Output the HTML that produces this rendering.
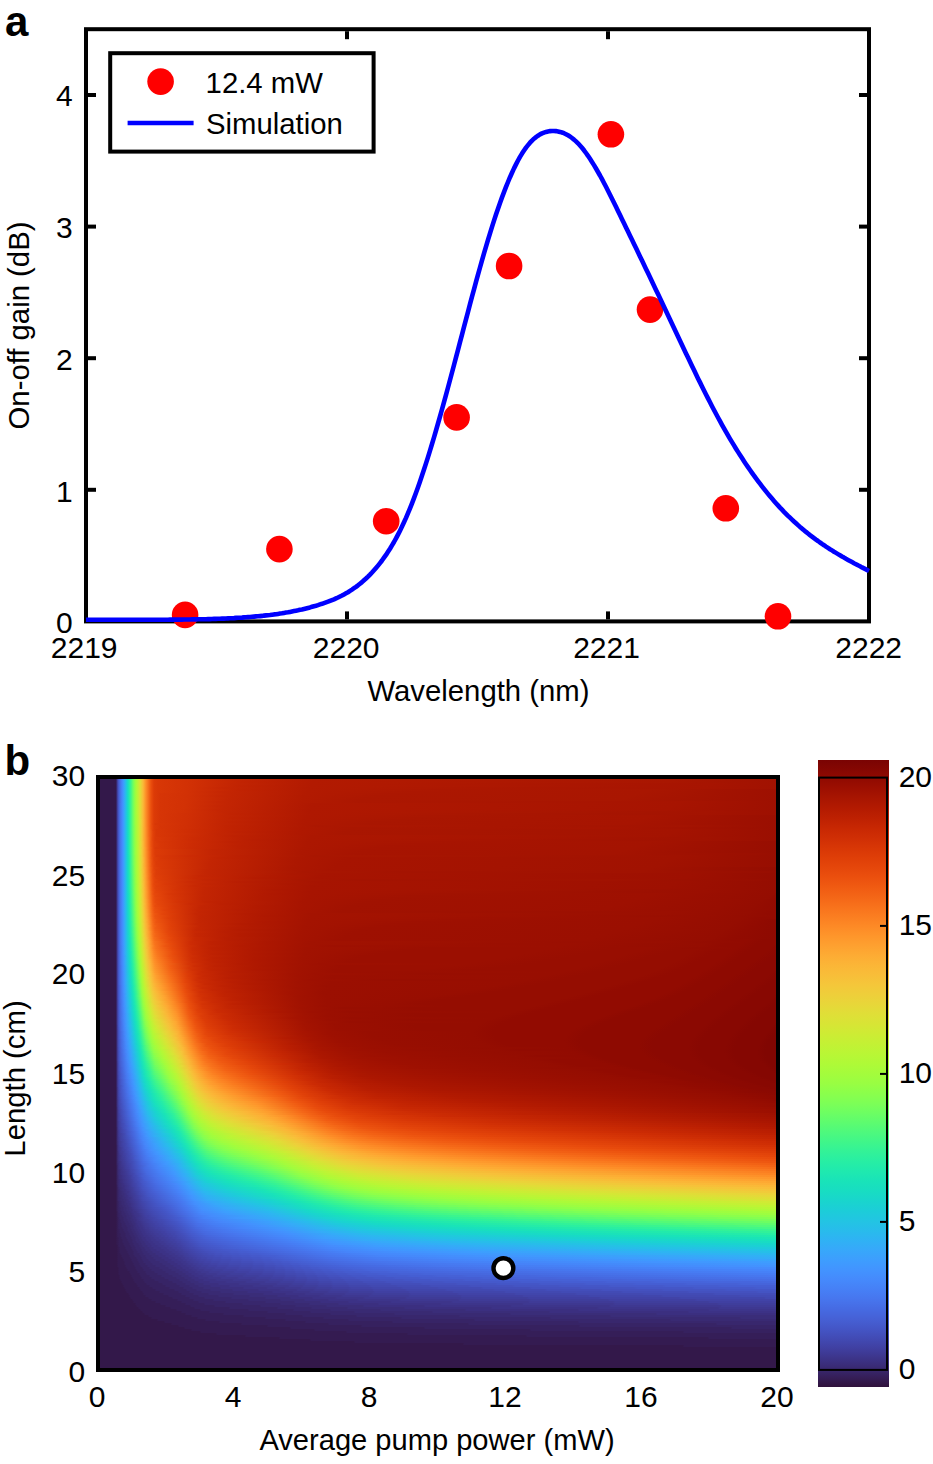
<!DOCTYPE html>
<html><head><meta charset="utf-8"><style>
html,body{margin:0;padding:0;background:#fff;}
body{width:933px;height:1464px;position:relative;overflow:hidden;}
#hm{position:absolute;left:100px;top:779px;width:676px;height:589px;}
#hm i{display:block;width:676px;}
#cb{position:absolute;left:818px;top:760px;width:71px;height:627px;background:linear-gradient(to top,#30123b 0.00%,#351e58 1.56%,#392a73 3.12%,#3d358b 4.69%,#4040a2 6.25%,#424bb5 7.81%,#4456c7 9.38%,#4661d6 10.94%,#466be3 12.50%,#4776ee 14.06%,#4680f6 15.62%,#458afc 17.19%,#4294ff 18.75%,#3d9efe 20.31%,#37a8fa 21.88%,#2fb2f4 23.44%,#28bceb 25.00%,#22c5e2 26.56%,#1ccdd8 28.12%,#19d5cd 29.69%,#18ddc2 31.25%,#19e3b9 32.81%,#1fe9af 34.38%,#27eea4 35.94%,#32f298 37.50%,#3ff68a 39.06%,#4ef97d 40.62%,#5dfc6f 42.19%,#6dfe62 43.75%,#7dff56 45.31%,#8bff4b 46.88%,#99fe42 48.44%,#a4fc3c 50.00%,#affa37 51.56%,#b9f635 53.12%,#c3f134 54.69%,#cdec34 56.25%,#d7e535 57.81%,#dfdf37 59.38%,#e7d739 60.94%,#eecf3a 62.50%,#f4c73a 64.06%,#f8be39 65.62%,#fbb637 67.19%,#fdac34 68.75%,#fea130 70.31%,#fe962b 71.88%,#fd8a26 73.44%,#fb7e21 75.00%,#f8721c 76.56%,#f46617 78.12%,#f05b12 79.69%,#eb500e 81.25%,#e5470b 82.81%,#df3f08 84.38%,#d83706 85.94%,#d02f05 87.50%,#c82803 89.06%,#be2102 90.62%,#b41b01 92.19%,#a91601 93.75%,#9e1001 95.31%,#920b01 96.88%,#850702 98.44%,#7a0403 100.00%);}
svg{position:absolute;left:0;top:0;}
svg text{font-family:'Liberation Sans',sans-serif;font-size:29.3px;fill:#000;}
svg text.d{font-size:30px;}
</style></head><body>
<div id="hm">
<i style="height:2px;background:linear-gradient(90deg,#33184a 0px,#33184a 16px,#3d358b 17px,#434eba 18px,#4661d6 19px,#477bf2 21px,#4294ff 23px,#2fb2f4 25px,#1ad2d2 27px,#18dec0 28px,#1fe9af 29px,#3ff68a 31px,#6dfe62 33px,#96fe44 35px,#b1f936 37px,#dde037 40px,#faba39 43px,#fd8d27 46px,#ea4e0d 51px,#dc3b07 54px,#d83706 58px,#d23105 89px,#c32503 134px,#b21a01 213px,#a91601 573px,#a11201 676px)"></i>
<i style="height:2px;background:linear-gradient(90deg,#33184a 0px,#33184a 16px,#3d358b 17px,#434eba 18px,#4661d6 19px,#477bf2 21px,#4294ff 23px,#2fb2f4 25px,#1ad2d2 27px,#18dec0 28px,#1fe9af 29px,#3ff68a 31px,#6dfe62 33px,#96fe44 35px,#b1f936 37px,#dde037 40px,#faba39 43px,#fd8d27 46px,#ea4e0d 51px,#dc3b07 54px,#d83706 58px,#d23105 88px,#c12302 142px,#b21a01 213px,#a91601 569px,#a11201 676px)"></i>
<i style="height:2px;background:linear-gradient(90deg,#33184a 0px,#33184a 16px,#3d358b 17px,#434eba 18px,#4661d6 19px,#477bf2 21px,#4294ff 23px,#2fb2f4 25px,#1ad2d2 27px,#18dec0 28px,#1fe9af 29px,#3ff68a 31px,#6dfe62 33px,#96fe44 35px,#b4f836 37px,#dde037 40px,#faba39 43px,#fd8d27 46px,#ea4e0d 51px,#dc3b07 54px,#d83706 58px,#d23105 88px,#c32503 133px,#b21a01 211px,#a71401 611px,#a11201 676px)"></i>
<i style="height:2px;background:linear-gradient(90deg,#33184a 0px,#33184a 16px,#3d358b 17px,#434eba 18px,#4661d6 19px,#477bf2 21px,#4294ff 23px,#2fb2f4 25px,#1ad2d2 27px,#18dec0 28px,#1fe9af 29px,#3ff68a 31px,#6dfe62 33px,#96fe44 35px,#b4f836 37px,#dde037 40px,#faba39 43px,#fd8d27 46px,#ea4e0d 51px,#dc3b07 54px,#d83706 58px,#d23105 88px,#c12302 140px,#b21a01 211px,#ac1701 431px,#a71401 608px,#a11201 676px)"></i>
<i style="height:2px;background:linear-gradient(90deg,#33184a 0px,#33184a 16px,#3d358b 17px,#434eba 18px,#4661d6 19px,#477bf2 21px,#4294ff 23px,#2fb2f4 25px,#1ad2d2 27px,#18dec0 28px,#1fe9af 29px,#3ff68a 31px,#6dfe62 33px,#96fe44 35px,#b4f836 37px,#dde037 40px,#faba39 43px,#fd8d27 46px,#ea4e0d 51px,#dc3b07 54px,#d83706 58px,#d23105 88px,#c52603 123px,#b21a01 208px,#ac1701 383px,#a71401 605px,#a11201 676px)"></i>
<i style="height:2px;background:linear-gradient(90deg,#33184a 0px,#33184a 16px,#3d358b 17px,#434eba 18px,#4661d6 19px,#477bf2 21px,#4294ff 23px,#2fb2f4 25px,#1ad2d2 27px,#18dec0 28px,#1fe9af 29px,#3ff68a 31px,#6dfe62 33px,#96fe44 35px,#b4f836 37px,#dde037 40px,#faba39 43px,#fd8d27 46px,#ea4e0d 51px,#dc3b07 54px,#d83706 58px,#d23105 87px,#c12302 139px,#b21a01 209px,#ac1701 341px,#a91601 551px,#9e1001 676px)"></i>
<i style="height:2px;background:linear-gradient(90deg,#33184a 0px,#33184a 16px,#3d358b 17px,#434eba 18px,#4661d6 19px,#477bf2 21px,#4294ff 23px,#2fb2f4 25px,#1ad2d2 27px,#18dec0 28px,#1fe9af 29px,#3ff68a 31px,#6dfe62 33px,#96fe44 35px,#b4f836 37px,#dde037 40px,#faba39 43px,#fd8d27 46px,#ea4e0d 51px,#dc3b07 54px,#d83706 58px,#d23105 87px,#c52603 122px,#b21a01 207px,#ac1701 315px,#a91601 546px,#9e1001 676px)"></i>
<i style="height:2px;background:linear-gradient(90deg,#33184a 0px,#33184a 16px,#3d358b 17px,#434eba 18px,#4661d6 19px,#477bf2 21px,#4294ff 23px,#2fb2f4 25px,#1ad2d2 27px,#18dec0 28px,#1fe9af 29px,#3ff68a 31px,#6dfe62 33px,#96fe44 35px,#b4f836 37px,#dde037 40px,#faba39 43px,#fd8d27 46px,#ea4e0d 51px,#dc3b07 54px,#d63506 60px,#d23105 87px,#c32503 129px,#b21a01 207px,#ac1701 292px,#a91601 539px,#9e1001 676px)"></i>
<i style="height:2px;background:linear-gradient(90deg,#33184a 0px,#33184a 16px,#3d358b 17px,#434eba 18px,#4661d6 19px,#477bf2 21px,#4294ff 23px,#2fb2f4 25px,#1ad2d2 27px,#18dec0 28px,#1fe9af 29px,#3ff68a 31px,#6dfe62 33px,#96fe44 35px,#b4f836 37px,#dde037 40px,#faba39 43px,#fd8d27 46px,#ea4e0d 51px,#dc3b07 54px,#d63506 60px,#d23105 86px,#c52603 121px,#b21a01 204px,#ac1701 278px,#a91601 533px,#9e1001 676px)"></i>
<i style="height:2px;background:linear-gradient(90deg,#33184a 0px,#33184a 16px,#3d358b 17px,#434eba 18px,#4661d6 19px,#477bf2 21px,#4294ff 23px,#2fb2f4 25px,#1ad2d2 27px,#18dec0 28px,#1fe9af 29px,#3ff68a 31px,#6dfe62 33px,#96fe44 35px,#b4f836 37px,#dde037 40px,#faba39 43px,#fd8d27 46px,#ea4e0d 51px,#dc3b07 54px,#d63506 60px,#d23105 86px,#c32503 128px,#b21a01 204px,#ac1701 267px,#a91601 526px,#9e1001 676px)"></i>
<i style="height:2px;background:linear-gradient(90deg,#33184a 0px,#33184a 16px,#3d358b 17px,#434eba 18px,#4661d6 19px,#477bf2 21px,#4294ff 23px,#2fb2f4 25px,#1ad2d2 27px,#18dec0 28px,#1fe9af 29px,#3ff68a 31px,#6dfe62 33px,#96fe44 35px,#b4f836 37px,#dde037 40px,#faba39 43px,#fd8d27 46px,#ea4e0d 51px,#dc3b07 54px,#d63506 60px,#d23105 86px,#c32503 127px,#b21a01 203px,#ac1701 259px,#a91601 519px,#9e1001 676px)"></i>
<i style="height:2px;background:linear-gradient(90deg,#33184a 0px,#33184a 16px,#3d358b 17px,#434eba 18px,#4661d6 19px,#477bf2 21px,#4294ff 23px,#2fb2f4 25px,#1ad2d2 27px,#18dec0 28px,#1fe9af 29px,#3ff68a 31px,#6dfe62 33px,#96fe44 35px,#b4f836 37px,#dde037 40px,#faba39 43px,#fd8d27 46px,#ea4e0d 51px,#dc3b07 54px,#d63506 60px,#d23105 86px,#c52603 119px,#b21a01 201px,#ac1701 257px,#a71401 581px,#9e1001 676px)"></i>
<i style="height:2px;background:linear-gradient(90deg,#33184a 0px,#33184a 16px,#3d358b 17px,#434eba 18px,#4661d6 19px,#4771e9 20px,#4687fb 22px,#4294ff 23px,#2fb2f4 25px,#1ad2d2 27px,#18dec0 28px,#1fe9af 29px,#3ff68a 31px,#6dfe62 33px,#96fe44 35px,#b4f836 37px,#dde037 40px,#faba39 43px,#fd8d27 46px,#ea4e0d 51px,#dc3b07 54px,#d63506 60px,#d23105 85px,#c32503 126px,#af1801 213px,#a71401 577px,#9e1001 676px)"></i>
<i style="height:2px;background:linear-gradient(90deg,#33184a 0px,#33184a 16px,#3d358b 17px,#434eba 18px,#4661d6 19px,#4771e9 20px,#4687fb 22px,#4294ff 23px,#2fb2f4 25px,#1ad2d2 27px,#18dec0 28px,#1fe9af 29px,#3ff68a 31px,#6dfe62 33px,#96fe44 35px,#b4f836 37px,#dde037 40px,#faba39 43px,#fd8d27 46px,#ea4e0d 51px,#dc3b07 54px,#d63506 60px,#d23105 85px,#c52603 118px,#af1801 211px,#a71401 574px,#9e1001 676px)"></i>
<i style="height:2px;background:linear-gradient(90deg,#33184a 0px,#33184a 16px,#3d358b 17px,#434eba 18px,#4661d6 19px,#4771e9 20px,#4687fb 22px,#4294ff 23px,#2fb2f4 25px,#1ad2d2 27px,#18dec0 28px,#1fe9af 29px,#3ff68a 31px,#6dfe62 33px,#96fe44 35px,#b4f836 37px,#dde037 40px,#faba39 43px,#fd8d27 46px,#ea4e0d 51px,#dc3b07 54px,#d63506 60px,#d23105 85px,#c32503 124px,#af1801 211px,#a71401 570px,#9e1001 676px)"></i>
<i style="height:2px;background:linear-gradient(90deg,#33184a 0px,#33184a 16px,#3d358b 17px,#434eba 18px,#4661d6 19px,#4771e9 20px,#4687fb 22px,#4294ff 23px,#2fb2f4 25px,#1ad2d2 27px,#18dec0 28px,#1fe9af 29px,#3ff68a 31px,#6dfe62 33px,#96fe44 35px,#b4f836 37px,#dde037 40px,#faba39 43px,#fd8d27 46px,#ea4e0d 51px,#dc3b07 54px,#d63506 60px,#d23105 84px,#c52603 117px,#af1801 209px,#a71401 565px,#9e1001 676px)"></i>
<i style="height:2px;background:linear-gradient(90deg,#33184a 0px,#33184a 16px,#3d358b 17px,#434eba 18px,#4661d6 19px,#4771e9 20px,#4687fb 22px,#4294ff 23px,#3aa3fc 24px,#23c3e4 26px,#1ad2d2 27px,#18dec0 28px,#1fe9af 29px,#3ff68a 31px,#6dfe62 33px,#96fe44 35px,#b4f836 37px,#dde037 40px,#faba39 43px,#fd8d27 46px,#ea4e0d 51px,#dc3b07 54px,#d63506 60px,#d23105 84px,#c32503 123px,#af1801 209px,#a91601 438px,#a41301 608px,#9e1001 676px)"></i>
<i style="height:2px;background:linear-gradient(90deg,#33184a 0px,#33184a 16px,#3d358b 17px,#434eba 18px,#4661d6 19px,#4771e9 20px,#4687fb 22px,#4294ff 23px,#3aa3fc 24px,#23c3e4 26px,#1ad2d2 27px,#18dec0 28px,#1fe9af 29px,#3ff68a 31px,#6dfe62 33px,#96fe44 35px,#b4f836 37px,#dde037 40px,#faba39 43px,#fd8d27 46px,#ea4e0d 51px,#dc3b07 54px,#d63506 60px,#d02f05 88px,#c12302 131px,#af1801 210px,#a91601 384px,#a41301 604px,#9e1001 676px)"></i>
<i style="height:2px;background:linear-gradient(90deg,#33184a 0px,#33184a 16px,#3d358b 17px,#434eba 18px,#4661d6 19px,#4771e9 20px,#4687fb 22px,#4294ff 23px,#3aa3fc 24px,#23c3e4 26px,#1ad2d2 27px,#18dec0 28px,#1fe9af 29px,#3ff68a 31px,#6dfe62 33px,#96fe44 35px,#b1f936 37px,#dde037 40px,#faba39 43px,#fd8d27 46px,#ea4e0d 51px,#dc3b07 54px,#d63506 60px,#d02f05 88px,#c32503 123px,#af1801 208px,#a91601 346px,#a71401 551px,#9b0f01 676px)"></i>
<i style="height:2px;background:linear-gradient(90deg,#33184a 0px,#33184a 16px,#3d358b 17px,#434eba 18px,#4661d6 19px,#4771e9 20px,#4687fb 22px,#4294ff 23px,#3aa3fc 24px,#23c3e4 26px,#1ad2d2 27px,#18dec0 28px,#1fe9af 29px,#3ff68a 31px,#6dfe62 33px,#96fe44 35px,#b1f936 37px,#dde037 40px,#faba39 43px,#fd8d27 46px,#ea4e0d 51px,#dc3b07 54px,#d63506 60px,#d02f05 87px,#c12302 130px,#af1801 207px,#a91601 317px,#a71401 546px,#9b0f01 676px)"></i>
<i style="height:2px;background:linear-gradient(90deg,#33184a 0px,#33184a 16px,#3d358b 17px,#434eba 18px,#4661d6 19px,#4771e9 20px,#4687fb 22px,#4294ff 23px,#3aa3fc 24px,#23c3e4 26px,#1ad2d2 27px,#18dec0 28px,#1fe9af 29px,#3ff68a 31px,#6dfe62 33px,#96fe44 35px,#b1f936 37px,#dbe236 40px,#f2c93a 42px,#fdac34 44px,#f8721c 48px,#ea4e0d 51px,#dc3b07 54px,#d63506 60px,#d02f05 87px,#c32503 122px,#af1801 205px,#a91601 297px,#a71401 540px,#9b0f01 676px)"></i>
<i style="height:2px;background:linear-gradient(90deg,#33184a 0px,#33184a 16px,#3d358b 17px,#434eba 18px,#4661d6 19px,#4771e9 20px,#4687fb 22px,#4294ff 23px,#3aa3fc 24px,#23c3e4 26px,#1ad2d2 27px,#18dec0 28px,#1fe9af 29px,#3ff68a 31px,#6dfe62 33px,#96fe44 35px,#b1f936 37px,#dbe236 40px,#f2c93a 42px,#fdac34 44px,#f8721c 48px,#ea4e0d 51px,#dc3b07 54px,#d63506 60px,#d02f05 87px,#c12302 128px,#af1801 205px,#a91601 279px,#a71401 533px,#9b0f01 676px)"></i>
<i style="height:2px;background:linear-gradient(90deg,#33184a 0px,#33184a 16px,#3d358b 17px,#434eba 18px,#4661d6 19px,#4771e9 20px,#4687fb 22px,#4294ff 23px,#3aa3fc 24px,#23c3e4 26px,#1ad2d2 27px,#18dec0 28px,#1fe9af 29px,#3ff68a 31px,#6dfe62 33px,#96fe44 35px,#b1f936 37px,#dbe236 40px,#f2c93a 42px,#fdac34 44px,#f8721c 48px,#e4450a 52px,#d83706 55px,#d02f05 87px,#c32503 120px,#af1801 203px,#a91601 269px,#a71401 526px,#9b0f01 676px)"></i>
<i style="height:2px;background:linear-gradient(90deg,#33184a 0px,#33184a 16px,#3d358b 17px,#434eba 18px,#4661d6 19px,#4771e9 20px,#4687fb 22px,#4294ff 23px,#3aa3fc 24px,#23c3e4 26px,#1ad2d2 27px,#18dec0 28px,#1fe9af 29px,#3ff68a 31px,#6dfe62 33px,#a4fc3c 36px,#cdec34 39px,#f2c93a 42px,#fdac34 44px,#f8721c 48px,#ea4e0d 51px,#dc3b07 54px,#d63506 60px,#d02f05 86px,#c12302 127px,#ac1701 215px,#a41301 585px,#9b0f01 676px)"></i>
<i style="height:2px;background:linear-gradient(90deg,#33184a 0px,#33184a 16px,#3d358b 17px,#434eba 18px,#4661d6 19px,#4771e9 20px,#4687fb 22px,#4294ff 23px,#3aa3fc 24px,#23c3e4 26px,#1ad2d2 27px,#18dec0 28px,#1fe9af 29px,#3ff68a 31px,#6dfe62 33px,#a4fc3c 36px,#cdec34 39px,#f2c93a 42px,#fe9e2f 45px,#fb8122 47px,#ea4e0d 51px,#dc3b07 54px,#d63506 60px,#d02f05 86px,#c12302 127px,#af1801 202px,#a91601 254px,#a71401 512px,#9b0f01 676px)"></i>
<i style="height:2px;background:linear-gradient(90deg,#33184a 0px,#33184a 16px,#3d358b 17px,#434eba 18px,#4661d6 19px,#4771e9 20px,#4687fb 22px,#4294ff 23px,#3aa3fc 24px,#23c3e4 26px,#1ad2d2 27px,#18dec0 28px,#1fe9af 29px,#3ff68a 31px,#6dfe62 33px,#a4fc3c 36px,#cdec34 39px,#f2c93a 42px,#fe9e2f 45px,#f46617 49px,#df3f08 53px,#d83706 56px,#ce2d04 90px,#c12302 127px,#af1801 201px,#a91601 251px,#a41301 577px,#9b0f01 676px)"></i>
<i style="height:2px;background:linear-gradient(90deg,#33184a 0px,#33184a 16px,#3d358b 17px,#434eba 18px,#4661d6 19px,#4771e9 20px,#4687fb 22px,#4294ff 23px,#3aa3fc 24px,#23c3e4 26px,#1ad2d2 27px,#18dec0 28px,#1fe9af 29px,#3ff68a 31px,#80ff53 34px,#a4fc3c 36px,#cdec34 39px,#f2c93a 42px,#fe9e2f 45px,#f46617 49px,#e14109 53px,#d83706 56px,#ce2d04 89px,#be2102 135px,#af1801 200px,#a91601 246px,#a41301 574px,#9b0f01 676px)"></i>
<i style="height:2px;background:linear-gradient(90deg,#33184a 0px,#33184a 16px,#3d358b 17px,#434eba 18px,#4661d6 19px,#4771e9 20px,#4687fb 22px,#4294ff 23px,#3aa3fc 24px,#23c3e4 26px,#1ad2d2 27px,#18dec0 28px,#1fe9af 29px,#3ff68a 31px,#80ff53 34px,#a4fc3c 36px,#cdec34 39px,#f2c93a 42px,#fe9e2f 45px,#f46617 49px,#e14109 53px,#d83706 56px,#d02f05 85px,#c32503 118px,#af1801 198px,#a91601 244px,#a41301 570px,#9b0f01 676px)"></i>
<i style="height:2px;background:linear-gradient(90deg,#33184a 0px,#33184a 16px,#3d358b 17px,#434eba 18px,#4661d6 19px,#4771e9 20px,#4687fb 22px,#4294ff 23px,#3aa3fc 24px,#23c3e4 26px,#1ad2d2 27px,#18dec0 28px,#1fe9af 29px,#3ff68a 31px,#80ff53 34px,#a4fc3c 36px,#cdec34 39px,#f2c93a 42px,#fe9e2f 45px,#f46617 49px,#e14109 53px,#d83706 56px,#ce2d04 89px,#be2102 133px,#ac1701 212px,#a41301 565px,#9b0f01 676px)"></i>
<i style="height:2px;background:linear-gradient(90deg,#33184a 0px,#33184a 16px,#3d358b 17px,#434eba 18px,#4661d6 19px,#4771e9 20px,#4687fb 22px,#4294ff 23px,#3aa3fc 24px,#23c3e4 26px,#1ad2d2 27px,#18dec0 28px,#1fe9af 29px,#3ff68a 31px,#80ff53 34px,#a4fc3c 36px,#cdec34 39px,#f2c93a 42px,#fe9e2f 45px,#f56918 49px,#e5470b 52px,#da3907 55px,#cc2b04 93px,#bc2002 141px,#ac1701 211px,#a71401 437px,#a11201 607px,#9b0f01 676px)"></i>
<i style="height:2px;background:linear-gradient(90deg,#33184a 0px,#33184a 16px,#3d358b 17px,#434eba 18px,#4661d6 19px,#4771e9 20px,#4687fb 22px,#4294ff 23px,#3aa3fc 24px,#23c3e4 26px,#1ad2d2 27px,#18dec0 28px,#1fe9af 29px,#3ff68a 31px,#80ff53 34px,#a4fc3c 36px,#cdec34 39px,#f2c93a 42px,#fe9e2f 45px,#f56918 49px,#e5470b 52px,#da3907 55px,#cc2b04 92px,#b91e02 150px,#ac1701 210px,#a71401 387px,#a11201 604px,#9b0f01 676px)"></i>
<i style="height:2px;background:linear-gradient(90deg,#33184a 0px,#33184a 16px,#3d358b 17px,#434eba 18px,#4661d6 19px,#4771e9 20px,#4687fb 22px,#4294ff 23px,#3aa3fc 24px,#23c3e4 26px,#1ad2d2 27px,#18dec0 28px,#1fe9af 29px,#3ff68a 31px,#80ff53 34px,#a1fd3d 36px,#bef434 38px,#e7d739 41px,#f9bc39 43px,#fe9029 46px,#eb500e 51px,#dd3d08 54px,#d83706 58px,#ce2d04 88px,#be2102 131px,#ac1701 208px,#a71401 348px,#a41301 552px,#980e01 676px)"></i>
<i style="height:2px;background:linear-gradient(90deg,#33184a 0px,#33184a 16px,#3d358b 17px,#434eba 18px,#4661d6 19px,#4771e9 20px,#4687fb 22px,#4294ff 23px,#3aa3fc 24px,#23c3e4 26px,#1ad2d2 27px,#18dec0 28px,#1fe9af 29px,#3ff68a 31px,#80ff53 34px,#a1fd3d 36px,#bef434 38px,#e7d739 41px,#f9bc39 43px,#fe9029 46px,#eb500e 51px,#dd3d08 54px,#d83706 60px,#cc2b04 92px,#bc2002 140px,#ac1701 207px,#a71401 319px,#a41301 546px,#980e01 676px)"></i>
<i style="height:2px;background:linear-gradient(90deg,#33184a 0px,#33184a 16px,#3d358b 17px,#434eba 18px,#4661d6 19px,#4771e9 20px,#4687fb 22px,#4294ff 23px,#3aa3fc 24px,#23c3e4 26px,#1ad2d2 27px,#18dec0 28px,#1fe9af 29px,#3ff68a 31px,#80ff53 34px,#a1fd3d 36px,#bef434 38px,#e7d739 41px,#f9bc39 43px,#fe9029 46px,#f15d13 50px,#eb500e 51px,#dd3d08 54px,#d83706 60px,#cc2b04 92px,#bc2002 138px,#ac1701 207px,#a71401 295px,#a41301 540px,#980e01 676px)"></i>
<i style="height:2px;background:linear-gradient(90deg,#33184a 0px,#33184a 16px,#3d358b 17px,#434eba 18px,#4661d6 19px,#4771e9 20px,#4687fb 22px,#4294ff 23px,#3aa3fc 24px,#23c3e4 26px,#1ad2d2 27px,#18dec0 28px,#1fe9af 29px,#3ff68a 31px,#7dff56 34px,#92ff47 35px,#b1f936 37px,#dbe236 40px,#f8be39 43px,#fe932a 46px,#f15d13 50px,#e2430a 53px,#da3907 55px,#cc2b04 91px,#bc2002 139px,#ac1701 205px,#a71401 280px,#a41301 533px,#980e01 676px)"></i>
<i style="height:2px;background:linear-gradient(90deg,#33184a 0px,#33184a 16px,#3d358b 17px,#434eba 18px,#4661d6 19px,#4771e9 20px,#4687fb 22px,#4294ff 23px,#3aa3fc 24px,#23c3e4 26px,#1ad2d2 27px,#18dec0 28px,#1fe9af 29px,#3ff68a 31px,#7dff56 34px,#92ff47 35px,#affa37 37px,#d9e436 40px,#f1cb3a 42px,#fea130 45px,#f56918 49px,#e7490c 52px,#dc3b07 55px,#c32503 112px,#ac1701 203px,#a71401 267px,#a41301 527px,#980e01 676px)"></i>
<i style="height:2px;background:linear-gradient(90deg,#33184a 0px,#33184a 16px,#3d358b 17px,#434eba 18px,#4661d6 19px,#4771e9 20px,#4687fb 22px,#4294ff 23px,#3aa3fc 24px,#23c3e4 26px,#1ad2d2 27px,#18dec0 28px,#1fe9af 29px,#3ff68a 31px,#7dff56 34px,#92ff47 35px,#affa37 37px,#d9e436 40px,#f1cb3a 42px,#fea130 45px,#f66c19 49px,#e7490c 52px,#dc3b07 55px,#c32503 112px,#ac1701 202px,#a71401 262px,#a41301 520px,#980e01 676px)"></i>
<i style="height:2px;background:linear-gradient(90deg,#33184a 0px,#33184a 16px,#3d358b 17px,#434eba 18px,#4661d6 19px,#4771e9 20px,#4687fb 22px,#4294ff 23px,#3aa3fc 24px,#23c3e4 26px,#1ad2d2 27px,#18dec0 28px,#1fe9af 29px,#3ff68a 31px,#7dff56 34px,#92ff47 35px,#affa37 37px,#d9e436 40px,#f1cb3a 42px,#fea130 45px,#f66c19 49px,#e7490c 52px,#dc3b07 55px,#c32503 112px,#ac1701 201px,#a71401 255px,#a41301 513px,#9b0f01 658px,#980e01 676px)"></i>
<i style="height:2px;background:linear-gradient(90deg,#33184a 0px,#33184a 16px,#3d358b 17px,#434eba 18px,#4661d6 19px,#4771e9 20px,#4687fb 22px,#4294ff 23px,#3aa3fc 24px,#23c3e4 26px,#1ad2d2 27px,#18dec0 28px,#1de7b2 29px,#3cf58e 31px,#69fd66 33px,#a1fd3d 36px,#cbed34 39px,#f1cb3a 42px,#fea130 45px,#f66c19 49px,#e7490c 52px,#da3907 56px,#cc2b04 90px,#bc2002 136px,#a91601 214px,#a11201 577px,#980e01 676px)"></i>
<i style="height:2px;background:linear-gradient(90deg,#33184a 0px,#33184a 16px,#3d358b 17px,#434eba 18px,#4661d6 19px,#4771e9 20px,#4687fb 22px,#4294ff 23px,#3aa3fc 24px,#23c3e4 26px,#1ad2d2 27px,#18dec0 28px,#1de7b2 29px,#3cf58e 31px,#69fd66 33px,#a1fd3d 36px,#cbed34 39px,#efcd3a 42px,#fcb136 44px,#fc8725 47px,#ec530f 51px,#df3f08 54px,#d83706 61px,#c12302 118px,#ac1701 199px,#a71401 248px,#a11201 574px,#980e01 676px)"></i>
<i style="height:2px;background:linear-gradient(90deg,#33184a 0px,#33184a 16px,#3d358b 17px,#434eba 18px,#4661d6 19px,#4771e9 20px,#4687fb 22px,#4294ff 23px,#3aa3fc 24px,#23c3e4 26px,#1ad2d2 27px,#18dec0 28px,#1de7b2 29px,#3cf58e 31px,#7dff56 34px,#a1fd3d 36px,#cbed34 39px,#efcd3a 42px,#fcb136 44px,#fa7b1f 48px,#ed5510 51px,#df3f08 54px,#da3907 59px,#c32503 111px,#ac1701 197px,#a71401 246px,#a11201 570px,#980e01 676px)"></i>
<i style="height:2px;background:linear-gradient(90deg,#33184a 0px,#33184a 16px,#3d358b 17px,#434eba 18px,#4661d6 19px,#4771e9 20px,#4687fb 22px,#4294ff 23px,#3aa3fc 24px,#23c3e4 26px,#1ad2d2 27px,#18dec0 28px,#1de7b2 29px,#3cf58e 31px,#7dff56 34px,#affa37 37px,#d9e436 40px,#f7c13a 43px,#fe962b 46px,#f26014 50px,#e4450a 53px,#dc3b07 56px,#c32503 110px,#ac1701 196px,#a71401 243px,#a11201 566px,#980e01 676px)"></i>
<i style="height:2px;background:linear-gradient(90deg,#33184a 0px,#33184a 16px,#3d358b 17px,#434eba 18px,#4661d6 19px,#4771e9 20px,#4687fb 22px,#4294ff 23px,#3aa3fc 24px,#23c3e4 26px,#1ad2d2 27px,#18dec0 28px,#1de7b2 29px,#3cf58e 31px,#7dff56 34px,#affa37 37px,#d7e535 40px,#efcd3a 42px,#fea431 45px,#f76f1a 49px,#e84b0c 52px,#dc3b07 56px,#c32503 109px,#ac1701 197px,#a71401 238px,#a11201 561px,#980e01 676px)"></i>
<i style="height:2px;background:linear-gradient(90deg,#33184a 0px,#33184a 16px,#3d358b 17px,#434eba 18px,#4661d6 19px,#4771e9 20px,#4687fb 22px,#4294ff 23px,#3aa3fc 24px,#23c3e4 26px,#1ad2d2 27px,#18dec0 28px,#1de7b2 29px,#3cf58e 31px,#79fe59 34px,#8fff49 35px,#acfb38 37px,#d7e535 40px,#efcd3a 42px,#fea431 45px,#f76f1a 49px,#ed5510 51px,#e14109 54px,#dc3b07 57px,#c32503 109px,#ac1701 195px,#a71401 236px,#a11201 557px,#980e01 676px)"></i>
<i style="height:2px;background:linear-gradient(90deg,#33184a 0px,#33184a 16px,#3d358b 17px,#434eba 18px,#4661d6 19px,#4771e9 20px,#4687fb 22px,#4294ff 23px,#3aa3fc 24px,#23c3e4 26px,#1ad2d2 27px,#18dec0 28px,#1de7b2 29px,#3cf58e 31px,#8fff49 35px,#acfb38 37px,#d7e535 40px,#efcd3a 42px,#fea732 45px,#fd8a26 47px,#ef5811 51px,#e14109 54px,#da3907 61px,#c32503 109px,#ac1701 193px,#a71401 236px,#a11201 552px,#950d01 676px)"></i>
<i style="height:2px;background:linear-gradient(90deg,#33184a 0px,#33184a 16px,#3d358b 17px,#434eba 18px,#4661d6 19px,#4771e9 20px,#4687fb 22px,#4294ff 23px,#3aa3fc 24px,#23c3e4 26px,#1ad2d2 27px,#18dec0 28px,#1de7b2 29px,#3cf58e 31px,#8fff49 35px,#acfb38 37px,#d7e535 40px,#f7c13a 43px,#fe992c 46px,#f36315 50px,#e5470b 53px,#dd3d08 56px,#c32503 107px,#ac1701 193px,#a71401 231px,#a11201 546px,#950d01 676px)"></i>
<i style="height:2px;background:linear-gradient(90deg,#33184a 0px,#33184a 16px,#3d358b 17px,#434eba 18px,#4661d6 19px,#4771e9 20px,#4687fb 22px,#4294ff 23px,#3aa3fc 24px,#23c3e4 26px,#1ad2d2 27px,#18ddc2 28px,#1de7b2 29px,#3cf58e 31px,#79fe59 34px,#9ffd3f 36px,#b9f635 38px,#e3db38 41px,#fbb637 44px,#fd8a26 47px,#ea4e0d 52px,#dd3d08 56px,#c32503 106px,#a91601 204px,#a41301 301px,#a11201 540px,#980e01 669px,#950d01 676px)"></i>
<i style="height:2px;background:linear-gradient(90deg,#33184a 0px,#33184a 16px,#3d358b 17px,#434eba 18px,#4661d6 19px,#4771e9 20px,#4687fb 22px,#4294ff 23px,#3aa3fc 24px,#23c3e4 26px,#1ad2d2 27px,#18ddc2 28px,#1de7b2 29px,#38f491 31px,#65fd69 33px,#9cfe40 36px,#b9f635 38px,#d4e735 40px,#eecf3a 42px,#fea732 45px,#f8721c 49px,#e5470b 53px,#dd3d08 56px,#c32503 106px,#ac1701 192px,#a71401 226px,#9e1001 591px,#950d01 676px)"></i>
<i style="height:2px;background:linear-gradient(90deg,#33184a 0px,#33184a 16px,#3d358b 17px,#434eba 18px,#4661d6 19px,#4771e9 20px,#4687fb 22px,#4294ff 23px,#2fb2f4 25px,#1ad2d2 27px,#18ddc2 28px,#1de7b2 29px,#38f491 31px,#79fe59 34px,#acfb38 37px,#d4e735 40px,#eecf3a 42px,#fea933 45px,#fd8d27 47px,#eb500e 52px,#df3f08 55px,#c52603 100px,#b21a01 168px,#a71401 221px,#9e1001 588px,#950d01 676px)"></i>
<i style="height:2px;background:linear-gradient(90deg,#33184a 0px,#33184a 16px,#3d358b 17px,#434eba 18px,#4661d6 19px,#4771e9 20px,#4687fb 22px,#4294ff 23px,#2fb2f4 25px,#1ad2d2 27px,#18ddc2 28px,#1de7b2 29px,#38f491 31px,#79fe59 34px,#9cfe40 36px,#b9f635 38px,#e1dd37 41px,#f6c33a 43px,#fe9b2d 46px,#f46617 50px,#e7490c 53px,#df3f08 56px,#c82803 95px,#b41b01 156px,#a71401 218px,#9e1001 585px,#950d01 676px)"></i>
<i style="height:2px;background:linear-gradient(90deg,#33184a 0px,#33184a 16px,#3d358b 17px,#434eba 18px,#4661d6 19px,#4771e9 20px,#4687fb 22px,#4294ff 23px,#2fb2f4 25px,#1ad2d2 27px,#18ddc2 28px,#1ce6b4 29px,#38f491 31px,#8bff4b 35px,#a9fb39 37px,#c6f034 39px,#ecd13a 42px,#fea933 45px,#f56918 50px,#f05b12 51px,#e4450a 54px,#dd3d08 59px,#c32503 104px,#a91601 200px,#a41301 257px,#a11201 513px,#980e01 658px,#950d01 676px)"></i>
<i style="height:2px;background:linear-gradient(90deg,#33184a 0px,#33184a 16px,#3d358b 17px,#434eba 18px,#4661d6 19px,#4771e9 20px,#4687fb 22px,#4294ff 23px,#2fb2f4 25px,#1ad2d2 27px,#18ddc2 28px,#1ce6b4 29px,#38f491 31px,#75fe5c 34px,#9cfe40 36px,#b7f735 38px,#e1dd37 41px,#fbb838 44px,#fc8423 48px,#ec530f 52px,#e14109 55px,#ca2a04 90px,#b91e02 136px,#a71401 214px,#9e1001 577px,#950d01 676px)"></i>
<i style="height:2px;background:linear-gradient(90deg,#33184a 0px,#33184a 16px,#3d358b 17px,#434eba 18px,#4661d6 19px,#4771e9 20px,#4687fb 22px,#4294ff 23px,#2fb2f4 25px,#1bd0d5 27px,#18ddc2 28px,#1ce6b4 29px,#38f491 31px,#75fe5c 34px,#a9fb39 37px,#d2e935 40px,#ecd13a 42px,#fbb838 44px,#fc8423 48px,#ec530f 52px,#e4450a 54px,#da3907 65px,#c32503 104px,#ac1701 187px,#a71401 219px,#9e1001 574px,#950d01 676px)"></i>
<i style="height:2px;background:linear-gradient(90deg,#33184a 0px,#33184a 16px,#3d358b 17px,#434eba 18px,#4661d6 19px,#4771e9 20px,#4687fb 22px,#4294ff 23px,#2fb2f4 25px,#1bd0d5 27px,#18ddc2 28px,#1ce6b4 29px,#38f491 31px,#5dfc6f 33px,#88ff4e 35px,#a9fb39 37px,#d2e935 40px,#f4c73a 43px,#fe9e2f 46px,#f26014 51px,#e84b0c 53px,#e14109 56px,#c82803 94px,#b71d02 145px,#a71401 212px,#9e1001 570px,#950d01 676px)"></i>
<i style="height:2px;background:linear-gradient(90deg,#33184a 0px,#33184a 16px,#3d358b 17px,#434eba 18px,#4661d6 19px,#4771e9 20px,#4687fb 22px,#4294ff 23px,#2fb2f4 25px,#1bd0d5 27px,#18ddc2 28px,#1ce6b4 29px,#35f394 31px,#75fe5c 34px,#99fe42 36px,#b7f735 38px,#dfdf37 41px,#faba39 44px,#fe932a 47px,#ed5510 52px,#e2430a 55px,#d23105 79px,#c32503 104px,#b21a01 164px,#a71401 212px,#9e1001 566px,#950d01 676px)"></i>
<i style="height:2px;background:linear-gradient(90deg,#33184a 0px,#33184a 16px,#3d358b 17px,#434eba 18px,#4661d6 19px,#4771e9 20px,#4687fb 22px,#4294ff 23px,#2fb2f4 25px,#1bd0d5 27px,#18ddc2 28px,#1ce6b4 29px,#35f394 31px,#88ff4e 35px,#a7fc3a 37px,#d0ea34 40px,#f4c73a 43px,#fea130 46px,#f76f1a 50px,#f26014 51px,#ea4e0d 53px,#e2430a 56px,#d43305 76px,#c32503 104px,#af1801 173px,#a71401 213px,#a11201 440px,#9b0f01 607px,#950d01 676px)"></i>
<i style="height:2px;background:linear-gradient(90deg,#33184a 0px,#33184a 16px,#3d358b 17px,#434eba 18px,#4661d6 19px,#4771e9 20px,#4687fb 22px,#4294ff 23px,#2fb2f4 25px,#1bd0d5 27px,#18ddc2 28px,#25eca7 30px,#46f884 32px,#71fe5f 34px,#99fe42 36px,#b4f836 38px,#dde037 41px,#f9bc39 44px,#fe962b 47px,#ef5811 52px,#e4450a 55px,#d63506 74px,#c32503 103px,#b21a01 163px,#a71401 209px,#a11201 396px,#9b0f01 604px,#950d01 676px)"></i>
<i style="height:2px;background:linear-gradient(90deg,#33184a 0px,#33184a 16px,#3d358b 17px,#434eba 18px,#4661d6 19px,#4771e9 20px,#4687fb 22px,#4294ff 23px,#2fb2f4 25px,#1bd0d5 27px,#18dbc5 28px,#1ae4b6 29px,#25eca7 30px,#46f884 32px,#71fe5f 34px,#a4fc3c 37px,#c1f334 39px,#e9d539 42px,#f9bc39 44px,#fe962b 47px,#ef5811 52px,#e7490c 54px,#d83706 69px,#c32503 103px,#af1801 172px,#a71401 211px,#a11201 350px,#9e1001 552px,#950d01 674px,#920b01 676px)"></i>
<i style="height:2px;background:linear-gradient(90deg,#33184a 0px,#33184a 16px,#3d358b 17px,#434eba 18px,#4661d6 19px,#4771e9 20px,#4687fb 22px,#4294ff 23px,#2fb2f4 25px,#1bd0d5 27px,#18dbc5 28px,#1ae4b6 29px,#25eca7 30px,#59fb73 33px,#84ff51 35px,#a4fc3c 37px,#cdec34 40px,#e9d539 42px,#f9bc39 44px,#fe962b 47px,#f05b12 52px,#e5470b 55px,#d63506 74px,#c32503 103px,#b21a01 161px,#a71401 209px,#a11201 319px,#9e1001 547px,#950d01 671px,#920b01 676px)"></i>
<i style="height:2px;background:linear-gradient(90deg,#33184a 0px,#33184a 16px,#3d358b 17px,#434eba 18px,#4661d6 19px,#4771e9 20px,#4687fb 22px,#4294ff 23px,#2fb2f4 25px,#1bd0d5 27px,#18dbc5 28px,#1ae4b6 29px,#32f298 31px,#84ff51 35px,#a4fc3c 37px,#cdec34 40px,#f1cb3a 43px,#fea431 46px,#f8721c 50px,#ec530f 53px,#e7490c 55px,#da3907 69px,#c32503 102px,#b21a01 160px,#a71401 208px,#a11201 297px,#9e1001 540px,#950d01 668px,#920b01 676px)"></i>
<i style="height:2px;background:linear-gradient(90deg,#33184a 0px,#33184a 16px,#3d358b 17px,#434eba 18px,#4661d6 19px,#4771e9 20px,#4687fb 22px,#4294ff 23px,#2fb2f4 25px,#1bd0d5 27px,#18dbc5 28px,#1ae4b6 29px,#32f298 31px,#80ff53 35px,#a4fc3c 37px,#cdec34 40px,#f1cb3a 43px,#fea732 46px,#f56918 51px,#ec530f 53px,#e5470b 56px,#d63506 75px,#c32503 102px,#b21a01 160px,#a71401 206px,#a11201 280px,#9e1001 534px,#980e01 631px,#950d01 663px,#920b01 676px)"></i>
<i style="height:2px;background:linear-gradient(90deg,#33184a 0px,#33184a 16px,#3d358b 17px,#434eba 18px,#4661d6 19px,#4771e9 20px,#4687fb 22px,#4294ff 23px,#2fb2f4 25px,#1bd0d5 27px,#18dbc5 28px,#1ae4b6 29px,#32f298 31px,#59fb73 33px,#92ff47 36px,#b1f936 38px,#d9e436 41px,#f1cb3a 43px,#fea732 46px,#f9751d 50px,#ed5510 53px,#e7490c 55px,#d43305 77px,#c12302 106px,#a71401 202px,#a11201 270px,#9e1001 527px,#980e01 628px,#950d01 660px,#920b01 676px)"></i>
<i style="height:2px;background:linear-gradient(90deg,#33184a 0px,#33184a 16px,#3d358b 17px,#434eba 18px,#4661d6 19px,#4771e9 20px,#4687fb 22px,#4294ff 23px,#2fb2f4 25px,#1ccdd8 27px,#18dbc5 28px,#22ebaa 30px,#55fa76 33px,#80ff53 35px,#a1fd3d 37px,#cbed34 40px,#efcd3a 43px,#fbb637 45px,#fc8423 49px,#ed5510 53px,#e5470b 57px,#ca2a04 90px,#bc2002 121px,#a71401 203px,#a11201 261px,#9e1001 521px,#980e01 625px,#950d01 657px,#920b01 676px)"></i>
<i style="height:2px;background:linear-gradient(90deg,#33184a 0px,#33184a 16px,#3d358b 17px,#434eba 18px,#4661d6 19px,#4771e9 20px,#4687fb 22px,#4294ff 23px,#2fb2f4 25px,#1ccdd8 27px,#18dbc5 28px,#19e3b9 29px,#2ff19b 31px,#7dff56 35px,#92ff47 36px,#affa37 38px,#d9e436 41px,#efcd3a 43px,#fea933 46px,#f9781e 50px,#ef5811 53px,#e84b0c 55px,#d83706 74px,#c32503 101px,#b21a01 157px,#a71401 203px,#a11201 252px,#9e1001 514px,#980e01 622px,#950d01 654px,#920b01 676px)"></i>
<i style="height:2px;background:linear-gradient(90deg,#33184a 0px,#33184a 16px,#3d358b 17px,#434eba 18px,#4661d6 19px,#4771e9 20px,#4687fb 22px,#4294ff 23px,#2fb2f4 25px,#1ccdd8 27px,#18d9c8 28px,#19e3b9 29px,#2ff19b 31px,#7dff56 35px,#9ffd3f 37px,#bcf534 39px,#e3db38 42px,#f6c33a 44px,#fe9e2f 47px,#f36315 52px,#ea4e0d 55px,#da3907 72px,#c32503 100px,#b21a01 157px,#a71401 202px,#a11201 249px,#9e1001 507px,#980e01 619px,#950d01 651px,#920b01 676px)"></i>
<i style="height:2px;background:linear-gradient(90deg,#33184a 0px,#33184a 16px,#3d358b 17px,#434eba 18px,#4661d6 19px,#4771e9 20px,#4687fb 22px,#4294ff 23px,#2fb2f4 25px,#1ccdd8 27px,#18d9c8 28px,#19e3b9 29px,#2ff19b 31px,#3ff68a 32px,#7dff56 35px,#9ffd3f 37px,#b9f635 39px,#e3db38 42px,#f6c33a 44px,#fea130 47px,#f76f1a 51px,#ec530f 54px,#e14109 64px,#c52603 97px,#b71d02 137px,#a71401 200px,#a11201 245px,#9e1001 499px,#980e01 616px,#950d01 648px,#920b01 676px)"></i>
<i style="height:2px;background:linear-gradient(90deg,#33184a 0px,#33184a 16px,#3d358b 17px,#434eba 18px,#4661d6 19px,#4771e9 20px,#4687fb 22px,#4294ff 23px,#2fb2f4 25px,#1ccdd8 27px,#18d9c8 28px,#20eaac 30px,#52fa7a 33px,#9ffd3f 37px,#b9f635 39px,#e1dd37 42px,#f5c53a 44px,#fea130 47px,#f46617 52px,#eb500e 55px,#dc3b07 71px,#c32503 99px,#b21a01 156px,#a71401 200px,#a11201 241px,#9b0f01 570px,#950d01 650px,#920b01 671px,#920b01 676px)"></i>
<i style="height:2px;background:linear-gradient(90deg,#33184a 0px,#33184a 16px,#3d358b 17px,#434eba 18px,#4661d6 19px,#4771e9 20px,#4687fb 22px,#4294ff 23px,#31aff5 25px,#1ccdd8 27px,#18d9c8 28px,#20eaac 30px,#2cf09e 31px,#79fe59 35px,#9cfe40 37px,#b9f635 39px,#e1dd37 42px,#f5c53a 44px,#fea431 47px,#f56918 52px,#ef5811 54px,#e4450a 62px,#c52603 96px,#b41b01 145px,#a41301 211px,#9b0f01 566px,#950d01 647px,#920b01 668px,#920b01 676px)"></i>
<i style="height:2px;background:linear-gradient(90deg,#33184a 0px,#33184a 16px,#3d358b 17px,#434eba 18px,#4661d6 19px,#4771e9 20px,#4687fb 22px,#3ba0fd 24px,#31aff5 25px,#1ccdd8 27px,#19e2bb 29px,#2cf09e 31px,#3cf58e 32px,#79fe59 35px,#9cfe40 37px,#b7f735 39px,#dfdf37 42px,#f4c73a 44px,#fea431 47px,#f56918 52px,#ec530f 55px,#dc3b07 72px,#c32503 99px,#af1801 163px,#a41301 212px,#9e1001 443px,#980e01 607px,#950d01 639px,#920b01 676px)"></i>
<i style="height:2px;background:linear-gradient(90deg,#33184a 0px,#33184a 16px,#3d358b 17px,#434eba 18px,#4661d6 19px,#4771e9 20px,#4687fb 22px,#3ba0fd 24px,#27bee9 26px,#18d7ca 28px,#19e2bb 29px,#2cf09e 31px,#75fe5c 35px,#99fe42 37px,#b7f735 39px,#dfdf37 42px,#f4c73a 44px,#fea732 47px,#f66c19 52px,#ed5510 55px,#df3f08 68px,#c32503 99px,#b21a01 153px,#a41301 210px,#9e1001 398px,#9b0f01 557px,#950d01 641px,#920b01 662px,#920b01 676px)"></i>
<i style="height:2px;background:linear-gradient(90deg,#33184a 0px,#33184a 16px,#3d358b 17px,#434eba 18px,#4661d6 19px,#4771e9 20px,#4687fb 22px,#3ba0fd 24px,#27bee9 26px,#18d7ca 28px,#1fe9af 30px,#4ef97d 33px,#88ff4e 36px,#a7fc3a 38px,#d2e935 41px,#f2c93a 44px,#fea933 47px,#f76f1a 52px,#f36315 53px,#ec530f 57px,#dd3d08 71px,#c32503 99px,#b21a01 153px,#a41301 208px,#9e1001 357px,#9b0f01 552px,#950d01 639px,#920b01 660px,#8e0a01 676px)"></i>
<i style="height:2px;background:linear-gradient(90deg,#33184a 0px,#33184a 16px,#3d358b 17px,#434eba 18px,#4661d6 19px,#4771e9 20px,#4687fb 22px,#3ba0fd 24px,#27bee9 26px,#18d7ca 28px,#1fe9af 30px,#38f491 32px,#75fe5c 35px,#99fe42 37px,#b4f836 39px,#dde037 42px,#f8be39 45px,#fe932a 49px,#f46617 53px,#ed5510 56px,#dd3d08 72px,#c32503 99px,#af1801 162px,#a41301 208px,#9e1001 322px,#9b0f01 547px,#950d01 636px,#920b01 657px,#8e0a01 676px)"></i>
<i style="height:2px;background:linear-gradient(90deg,#33184a 0px,#33184a 16px,#3d358b 17px,#434eba 18px,#4661d6 19px,#4771e9 20px,#4687fb 22px,#3ba0fd 24px,#27bee9 26px,#18d7ca 28px,#18e0bd 29px,#2aefa1 31px,#5dfc6f 34px,#96fe44 37px,#b1f936 39px,#dbe236 42px,#f1cb3a 44px,#fdac34 47px,#f8721c 52px,#f05b12 55px,#e14109 69px,#c52603 96px,#b41b01 141px,#a41301 207px,#9e1001 301px,#9b0f01 541px,#950d01 633px,#920b01 654px,#8e0a01 676px)"></i>
<i style="height:2px;background:linear-gradient(90deg,#33184a 0px,#33184a 16px,#3d358b 17px,#434eba 18px,#4661d6 19px,#4771e9 20px,#4687fb 22px,#3ba0fd 24px,#27bee9 26px,#18d7ca 28px,#1de7b2 30px,#4af880 33px,#84ff51 36px,#a4fc3c 38px,#cdec34 41px,#efcd3a 44px,#fdac34 47px,#fe992c 49px,#f9751d 52px,#f56918 53px,#ef5811 57px,#df3f08 71px,#c32503 100px,#b21a01 151px,#a41301 205px,#9e1001 284px,#9b0f01 534px,#950d01 630px,#920b01 651px,#8e0a01 676px)"></i>
<i style="height:2px;background:linear-gradient(90deg,#33184a 0px,#33184a 16px,#3d358b 17px,#434eba 18px,#4661d6 19px,#4771e9 20px,#4687fb 22px,#3ba0fd 24px,#27bee9 26px,#19d5cd 28px,#1de7b2 30px,#35f394 32px,#80ff53 36px,#a1fd3d 38px,#cbed34 41px,#efcd3a 44px,#fdae35 47px,#f9751d 52px,#f15d13 55px,#e14109 70px,#c52603 97px,#b71d02 132px,#a41301 204px,#9e1001 269px,#9b0f01 528px,#950d01 628px,#920b01 649px,#8e0a01 676px)"></i>
<i style="height:2px;background:linear-gradient(90deg,#33184a 0px,#33184a 16px,#3d358b 17px,#434eba 18px,#4661d6 19px,#4771e9 20px,#4687fb 22px,#3ba0fd 24px,#27bee9 26px,#19d5cd 28px,#1de7b2 30px,#35f394 32px,#80ff53 36px,#a1fd3d 38px,#cbed34 41px,#eecf3a 44px,#fcb136 47px,#f9781e 52px,#f26014 55px,#e2430a 69px,#c52603 96px,#b41b01 139px,#a41301 204px,#9e1001 261px,#9b0f01 521px,#980e01 582px,#950d01 625px,#920b01 646px,#8e0a01 676px)"></i>
<i style="height:2px;background:linear-gradient(90deg,#33184a 0px,#33184a 16px,#3d358b 17px,#434eba 18px,#4661d6 19px,#4771e9 20px,#4687fb 22px,#3ba0fd 24px,#28bceb 26px,#19d5cd 28px,#1ce6b4 30px,#46f884 33px,#8fff49 37px,#acfb38 39px,#d7e535 42px,#f5c53a 45px,#fe9e2f 49px,#f8721c 53px,#f36315 55px,#e5470b 67px,#c82803 94px,#b91e02 124px,#a41301 202px,#9e1001 255px,#9b0f01 514px,#980e01 575px,#950d01 622px,#920b01 643px,#8e0a01 676px)"></i>
<i style="height:2px;background:linear-gradient(90deg,#33184a 0px,#33184a 16px,#3d358b 17px,#434eba 18px,#4661d6 19px,#4771e9 20px,#4687fb 22px,#3ba0fd 24px,#28bceb 26px,#19d5cd 28px,#1ce6b4 30px,#32f298 32px,#7dff56 36px,#9ffd3f 38px,#b9f635 40px,#e1dd37 43px,#f4c73a 45px,#fe9e2f 49px,#f8721c 53px,#f36315 56px,#e4450a 69px,#c52603 96px,#b41b01 139px,#a41301 202px,#9e1001 251px,#9b0f01 507px,#980e01 568px,#950d01 619px,#920b01 640px,#8e0a01 676px)"></i>
<i style="height:2px;background:linear-gradient(90deg,#33184a 0px,#33184a 16px,#3d358b 17px,#434eba 18px,#4661d6 19px,#4771e9 20px,#4687fb 22px,#3ba0fd 24px,#28bceb 26px,#1ad4d0 28px,#1ce6b4 30px,#32f298 32px,#69fd66 35px,#9cfe40 38px,#b7f735 40px,#e1dd37 43px,#f8be39 46px,#fe962b 50px,#f9751d 53px,#f46617 55px,#e4450a 70px,#c52603 96px,#b41b01 139px,#a41301 201px,#9e1001 246px,#9b0f01 500px,#980e01 561px,#950d01 616px,#920b01 637px,#8e0a01 676px)"></i>
<i style="height:2px;background:linear-gradient(90deg,#33184a 0px,#33184a 16px,#3d358b 17px,#434eba 18px,#4661d6 19px,#4771e9 20px,#4687fb 22px,#3ba0fd 24px,#28bceb 26px,#1ad4d0 28px,#1ae4b6 30px,#2ff19b 32px,#79fe59 36px,#9cfe40 38px,#b7f735 40px,#e9d539 44px,#fbb838 47px,#fd8d27 51px,#f76f1a 54px,#ef5811 61px,#e14109 74px,#c82803 95px,#b91e02 124px,#a41301 199px,#9e1001 244px,#9b0f01 492px,#980e01 553px,#950d01 613px,#920b01 634px,#8e0a01 676px)"></i>
<i style="height:2px;background:linear-gradient(90deg,#33184a 0px,#33184a 16px,#3d358b 17px,#434eba 18px,#4661d6 19px,#4771e9 20px,#4687fb 22px,#3d9efe 24px,#28bceb 26px,#1ad4d0 28px,#1ae4b6 30px,#2ff19b 32px,#65fd69 35px,#99fe42 38px,#b4f836 40px,#dde037 43px,#f1cb3a 45px,#fea732 49px,#fa7b1f 53px,#f66c19 55px,#e5470b 70px,#c82803 95px,#b71d02 129px,#a41301 199px,#9e1001 239px,#9b0f01 485px,#980e01 546px,#950d01 610px,#920b01 631px,#920b01 647px,#8e0a01 663px,#8e0a01 676px)"></i>
<i style="height:2px;background:linear-gradient(90deg,#33184a 0px,#33184a 16px,#3d358b 17px,#434eba 18px,#4661d6 19px,#4771e9 20px,#4687fb 22px,#3d9efe 24px,#2ab9ee 26px,#1ad2d2 28px,#1ae4b6 30px,#2ff19b 32px,#4ef97d 34px,#88ff4e 37px,#b4f836 40px,#e7d739 44px,#faba39 47px,#fe9e2f 50px,#f9751d 54px,#ea4e0d 67px,#cc2b04 91px,#be2102 111px,#ac1701 166px,#a11201 211px,#9b0f01 446px,#980e01 562px,#950d01 594px,#920b01 644px,#8e0a01 660px,#8e0a01 676px)"></i>
<i style="height:2px;background:linear-gradient(90deg,#33184a 0px,#33184a 16px,#3d358b 17px,#434eba 18px,#4661d6 19px,#4771e9 20px,#4687fb 22px,#3d9efe 24px,#2ab9ee 26px,#1ad2d2 28px,#19e3b9 30px,#2cf09e 32px,#71fe5f 36px,#a4fc3c 39px,#cdec34 42px,#eecf3a 45px,#fcb336 48px,#fb8122 53px,#f8721c 55px,#e84b0c 70px,#cc2b04 91px,#be2102 111px,#af1801 156px,#a11201 209px,#9b0f01 404px,#9b0f01 469px,#980e01 530px,#950d01 604px,#920b01 625px,#920b01 641px,#8e0a01 657px,#8e0a01 676px)"></i>
<i style="height:2px;background:linear-gradient(90deg,#33184a 0px,#33184a 16px,#3d358b 17px,#434eba 18px,#4661d6 19px,#4771e9 20px,#4391fe 23px,#35abf8 25px,#1ad2d2 28px,#19e3b9 30px,#2cf09e 32px,#5dfc6f 35px,#84ff51 37px,#affa37 40px,#d9e436 43px,#f4c73a 46px,#fea130 50px,#f9751d 55px,#ed5510 65px,#d23105 87px,#c32503 102px,#b41b01 138px,#a41301 197px,#9e1001 233px,#9b0f01 460px,#980e01 521px,#950d01 601px,#920b01 622px,#920b01 639px,#8e0a01 655px,#8e0a01 673px,#8b0902 676px)"></i>
<i style="height:2px;background:linear-gradient(90deg,#33184a 0px,#33184a 16px,#3d358b 17px,#434eba 18px,#4661d6 19px,#4771e9 20px,#4391fe 23px,#35abf8 25px,#1ad2d2 28px,#19e3b9 30px,#2aefa1 32px,#6dfe62 36px,#a1fd3d 39px,#cbed34 42px,#ecd13a 45px,#fdae35 49px,#fc8423 53px,#f8721c 56px,#e84b0c 71px,#cc2b04 92px,#be2102 111px,#af1801 156px,#a11201 207px,#9b0f01 329px,#9b0f01 452px,#980e01 513px,#980e01 547px,#950d01 579px,#920b01 636px,#8e0a01 652px,#8e0a01 671px,#8b0902 676px)"></i>
<i style="height:2px;background:linear-gradient(90deg,#33184a 0px,#33184a 16px,#3d358b 17px,#434eba 18px,#4661d6 19px,#4771e9 20px,#4391fe 23px,#35abf8 25px,#1bd0d5 28px,#19e2bb 30px,#2aefa1 32px,#46f884 34px,#6dfe62 36px,#9ffd3f 39px,#bcf534 41px,#e1dd37 44px,#f6c33a 47px,#fe9b2d 51px,#fb8122 54px,#f8721c 57px,#e84b0c 72px,#cc2b04 92px,#be2102 112px,#af1801 155px,#a11201 206px,#9b0f01 306px,#9b0f01 443px,#980e01 504px,#980e01 541px,#950d01 573px,#950d01 595px,#920b01 616px,#920b01 633px,#8e0a01 649px,#8e0a01 668px,#8b0902 676px)"></i>
<i style="height:2px;background:linear-gradient(90deg,#33184a 0px,#33184a 16px,#3d358b 17px,#434eba 18px,#4661d6 19px,#477bf2 21px,#4391fe 23px,#35abf8 25px,#22c5e2 27px,#18d9c8 29px,#1de7b2 31px,#35f394 33px,#69fd66 36px,#9cfe40 39px,#b9f635 41px,#dfdf37 44px,#f6c33a 47px,#fe962b 52px,#fc8423 54px,#f9751d 57px,#e84b0c 73px,#ce2d04 91px,#c12302 107px,#b21a01 146px,#a11201 206px,#9b0f01 288px,#9b0f01 433px,#980e01 494px,#980e01 535px,#950d01 567px,#950d01 591px,#920b01 612px,#920b01 630px,#8e0a01 646px,#8e0a01 665px,#8b0902 676px)"></i>
<i style="height:2px;background:linear-gradient(90deg,#33184a 0px,#33184a 16px,#3d358b 17px,#434eba 18px,#4661d6 19px,#477bf2 21px,#4391fe 23px,#35abf8 25px,#23c3e4 27px,#18d9c8 29px,#1de7b2 31px,#43f787 34px,#79fe59 37px,#9cfe40 39px,#b7f735 41px,#dde037 44px,#f5c53a 47px,#fe992c 52px,#fc8725 54px,#f9781e 57px,#e84b0c 73px,#cc2b04 93px,#be2102 112px,#af1801 155px,#a11201 204px,#9b0f01 276px,#9b0f01 423px,#980e01 484px,#980e01 528px,#950d01 560px,#950d01 588px,#920b01 609px,#920b01 627px,#8e0a01 643px,#8e0a01 663px,#8b0902 676px)"></i>
<i style="height:2px;background:linear-gradient(90deg,#33184a 0px,#33184a 16px,#3d358b 17px,#434eba 18px,#4661d6 19px,#477bf2 21px,#448ffe 23px,#3e9bfe 24px,#23c3e4 27px,#18d7ca 29px,#1de7b2 31px,#32f298 33px,#65fd69 36px,#99fe42 39px,#b4f836 41px,#dbe236 44px,#f4c73a 47px,#fe9b2d 52px,#fd8a26 54px,#fa7b1f 57px,#ed5510 69px,#d23105 89px,#c32503 104px,#b21a01 145px,#a11201 205px,#9b0f01 263px,#9b0f01 413px,#980e01 474px,#980e01 521px,#950d01 553px,#950d01 585px,#920b01 606px,#920b01 625px,#8e0a01 641px,#8e0a01 660px,#8b0902 673px,#8b0902 676px)"></i>
<i style="height:2px;background:linear-gradient(90deg,#33184a 0px,#33184a 16px,#3d358b 17px,#434eba 18px,#4661d6 19px,#477bf2 21px,#448ffe 23px,#37a8fa 25px,#1ccdd8 28px,#18dec0 30px,#25eca7 32px,#3ff68a 34px,#88ff4e 38px,#b4f836 41px,#dbe236 44px,#f2c93a 47px,#fe9e2f 52px,#fd8d27 54px,#fb7e21 57px,#ec530f 71px,#ce2d04 92px,#be2102 113px,#af1801 155px,#a11201 203px,#9b0f01 259px,#9b0f01 402px,#980e01 463px,#980e01 515px,#950d01 547px,#950d01 581px,#920b01 602px,#920b01 622px,#8e0a01 638px,#8e0a01 657px,#8b0902 670px,#8b0902 676px)"></i>
<i style="height:2px;background:linear-gradient(90deg,#33184a 0px,#33184a 16px,#3d358b 17px,#434eba 18px,#4661d6 19px,#477bf2 21px,#448ffe 23px,#37a8fa 25px,#23c3e4 27px,#19d5cd 29px,#1ce6b4 31px,#2ff19b 33px,#71fe5f 37px,#a4fc3c 40px,#cdec34 43px,#ebd339 46px,#fcb336 50px,#fe9029 54px,#fb7e21 58px,#eb500e 73px,#d02f05 91px,#c12302 108px,#af1801 154px,#a11201 203px,#9b0f01 253px,#9b0f01 390px,#980e01 451px,#980e01 508px,#950d01 540px,#950d01 578px,#920b01 599px,#920b01 619px,#8e0a01 635px,#8e0a01 655px,#8b0902 668px,#8b0902 676px)"></i>
<i style="height:2px;background:linear-gradient(90deg,#33184a 0px,#33184a 16px,#3d358b 17px,#434eba 18px,#4661d6 19px,#477bf2 21px,#448ffe 23px,#37a8fa 25px,#1ecbda 28px,#18dec0 30px,#22ebaa 32px,#3cf58e 34px,#80ff53 38px,#a1fd3d 40px,#cbed34 43px,#e9d539 46px,#fbb637 50px,#fe932a 54px,#fb8122 58px,#eb500e 74px,#ce2d04 93px,#be2102 114px,#af1801 155px,#a11201 203px,#9b0f01 249px,#9b0f01 378px,#980e01 439px,#980e01 500px,#950d01 532px,#950d01 574px,#920b01 595px,#920b01 616px,#8e0a01 632px,#8e0a01 652px,#8b0902 665px,#8b0902 676px)"></i>
<i style="height:2px;background:linear-gradient(90deg,#33184a 0px,#33184a 16px,#3d358b 17px,#434eba 18px,#4661d6 19px,#477bf2 21px,#448ffe 23px,#37a8fa 25px,#1ecbda 28px,#18ddc2 30px,#20eaac 32px,#38f491 34px,#7dff56 38px,#9ffd3f 40px,#bcf534 42px,#e7d739 46px,#fbb838 50px,#fe9029 55px,#f46617 67px,#d63506 88px,#c32503 106px,#b41b01 139px,#a41301 191px,#9e1001 219px,#9b0f01 365px,#980e01 426px,#980e01 493px,#950d01 525px,#950d01 570px,#920b01 591px,#920b01 613px,#8e0a01 629px,#8e0a01 649px,#8b0902 662px,#8b0902 676px)"></i>
<i style="height:2px;background:linear-gradient(90deg,#33184a 0px,#33184a 16px,#3d358b 17px,#434eba 18px,#4661d6 19px,#4778f0 21px,#448ffe 23px,#38a5fb 25px,#1fc9dd 28px,#18ddc2 30px,#20eaac 32px,#38f491 34px,#69fd66 37px,#9cfe40 40px,#b9f635 42px,#e5d938 46px,#faba39 50px,#fe932a 55px,#f05b12 71px,#ce2d04 94px,#be2102 115px,#ac1701 163px,#a11201 202px,#9b0f01 242px,#9b0f01 351px,#980e01 412px,#980e01 486px,#950d01 518px,#950d01 566px,#920b01 587px,#920b01 610px,#8e0a01 626px,#8e0a01 647px,#8b0902 660px,#8b0902 676px)"></i>
<i style="height:2px;background:linear-gradient(90deg,#33184a 0px,#33184a 16px,#3d358b 17px,#434eba 18px,#4661d6 19px,#4778f0 21px,#448ffe 23px,#38a5fb 25px,#1fc9dd 28px,#18dbc5 30px,#1fe9af 32px,#35f394 34px,#79fe59 38px,#99fe42 40px,#b7f735 42px,#e3db38 46px,#f9bc39 50px,#fe962b 55px,#f15d13 71px,#d63506 89px,#c32503 107px,#b21a01 146px,#a11201 201px,#9b0f01 241px,#9b0f01 333px,#980e01 394px,#980e01 478px,#950d01 510px,#950d01 562px,#920b01 583px,#920b01 607px,#8e0a01 623px,#8e0a01 644px,#8b0902 657px,#8b0902 676px)"></i>
<i style="height:2px;background:linear-gradient(90deg,#33184a 0px,#33184a 16px,#3d358b 17px,#434eba 18px,#4661d6 19px,#4778f0 21px,#448ffe 23px,#38a5fb 25px,#1ad2d2 29px,#19e2bb 31px,#27eea4 33px,#52fa7a 36px,#99fe42 40px,#b4f836 42px,#e1dd37 46px,#f8be39 50px,#fe992c 55px,#f26014 71px,#d23105 92px,#c12302 111px,#af1801 154px,#a11201 201px,#9b0f01 237px,#9b0f01 313px,#980e01 374px,#980e01 470px,#950d01 502px,#950d01 557px,#920b01 578px,#920b01 604px,#8e0a01 620px,#8e0a01 641px,#8b0902 654px,#8b0902 676px)"></i>
<i style="height:2px;background:linear-gradient(90deg,#33184a 0px,#33184a 16px,#3d358b 17px,#434eba 18px,#4661d6 19px,#4778f0 21px,#458cfd 23px,#38a5fb 25px,#1ad2d2 29px,#18e0bd 31px,#25eca7 33px,#3ff68a 35px,#84ff51 39px,#a4fc3c 41px,#cbed34 44px,#e7d739 47px,#faba39 51px,#fe9b2d 55px,#f46617 70px,#da3907 88px,#c82803 102px,#b71d02 132px,#a11201 200px,#9b0f01 236px,#980e01 462px,#950d01 494px,#950d01 553px,#920b01 574px,#920b01 601px,#8e0a01 617px,#8e0a01 638px,#8b0902 651px,#8b0902 673px,#880802 676px)"></i>
<i style="height:2px;background:linear-gradient(90deg,#33184a 0px,#33184a 16px,#3d358b 17px,#434eba 18px,#4661d6 19px,#4778f0 21px,#458cfd 23px,#3aa3fc 25px,#20c7df 28px,#18e0bd 31px,#25eca7 33px,#3ff68a 35px,#5dfc6f 37px,#92ff47 40px,#affa37 42px,#dde037 46px,#f5c53a 50px,#fea732 54px,#fe9b2d 56px,#f56918 70px,#df3f08 86px,#cc2b04 98px,#bc2002 122px,#a41301 189px,#9e1001 215px,#980e01 337px,#980e01 453px,#950d01 485px,#950d01 547px,#920b01 568px,#920b01 598px,#8e0a01 614px,#8e0a01 636px,#8b0902 649px,#8b0902 670px,#880802 676px)"></i>
<i style="height:2px;background:linear-gradient(90deg,#33184a 0px,#33184a 16px,#3d358b 17px,#434eba 18px,#4661d6 19px,#4778f0 21px,#458cfd 23px,#3aa3fc 25px,#22c5e2 28px,#18d7ca 30px,#1ce6b4 32px,#2ff19b 34px,#4af880 36px,#7dff56 39px,#9ffd3f 41px,#b9f635 43px,#dbe236 46px,#f8be39 51px,#fea431 55px,#f56918 71px,#dc3b07 88px,#c82803 103px,#b71d02 134px,#a11201 198px,#9b0f01 234px,#980e01 444px,#950d01 476px,#950d01 542px,#920b01 563px,#920b01 595px,#8e0a01 611px,#8e0a01 633px,#8b0902 646px,#8b0902 668px,#880802 676px)"></i>
<i style="height:2px;background:linear-gradient(90deg,#33184a 0px,#33184a 16px,#3d358b 17px,#434eba 18px,#4661d6 19px,#4778f0 21px,#458cfd 23px,#3aa3fc 25px,#22c5e2 28px,#18dec0 31px,#22ebaa 33px,#38f491 35px,#7dff56 39px,#a9fb39 42px,#d0ea34 45px,#e7d739 48px,#faba39 52px,#fea130 56px,#f56918 72px,#df3f08 87px,#cc2b04 99px,#b91e02 128px,#a11201 199px,#9b0f01 231px,#980e01 435px,#950d01 467px,#950d01 535px,#920b01 556px,#920b01 592px,#8e0a01 608px,#8e0a01 630px,#8b0902 643px,#8b0902 665px,#880802 676px)"></i>
<i style="height:2px;background:linear-gradient(90deg,#33184a 0px,#33184a 16px,#3d358b 17px,#434eba 18px,#4661d6 19px,#4778f0 21px,#458cfd 23px,#3aa3fc 25px,#2ab9ee 27px,#19d5cd 30px,#1ae4b6 32px,#2aefa1 34px,#65fd69 38px,#99fe42 41px,#b4f836 43px,#d7e535 46px,#f6c33a 51px,#fea933 55px,#f76f1a 71px,#e4450a 85px,#d02f05 96px,#c12302 115px,#ac1701 164px,#9e1001 210px,#980e01 289px,#980e01 426px,#950d01 458px,#950d01 529px,#920b01 550px,#920b01 588px,#8e0a01 604px,#8e0a01 627px,#8b0902 640px,#8b0902 662px,#880802 673px,#880802 676px)"></i>
<i style="height:2px;background:linear-gradient(90deg,#33184a 0px,#33184a 16px,#3d358b 17px,#434eba 18px,#4661d6 19px,#4778f0 21px,#4196ff 24px,#33adf7 26px,#19d5cd 30px,#19e3b9 32px,#2aefa1 34px,#52fa7a 37px,#88ff4e 40px,#a7fc3a 42px,#cbed34 45px,#efcd3a 50px,#fcb136 54px,#f9781e 69px,#e4450a 85px,#cc2b04 100px,#b91e02 131px,#a11201 197px,#9b0f01 231px,#980e01 416px,#950d01 448px,#950d01 522px,#920b01 543px,#920b01 585px,#8e0a01 601px,#8e0a01 625px,#8b0902 638px,#8b0902 660px,#880802 671px,#880802 676px)"></i>
<i style="height:2px;background:linear-gradient(90deg,#33184a 0px,#33184a 16px,#3d358b 17px,#434eba 18px,#4661d6 19px,#4778f0 21px,#4196ff 24px,#33adf7 26px,#1ad4d0 30px,#19e2bb 32px,#32f298 35px,#71fe5f 39px,#a4fc3c 42px,#c8ef34 45px,#eecf3a 50px,#fbb637 54px,#fc8423 67px,#ea4e0d 83px,#da3907 92px,#c82803 105px,#b41b01 144px,#a11201 198px,#9b0f01 230px,#980e01 406px,#950d01 438px,#950d01 516px,#920b01 537px,#920b01 581px,#8e0a01 597px,#8e0a01 622px,#8b0902 635px,#8b0902 657px,#880802 668px,#880802 676px)"></i>
<i style="height:2px;background:linear-gradient(90deg,#33184a 0px,#33184a 16px,#3d358b 17px,#434eba 18px,#455ed3 19px,#4776ee 21px,#458afc 23px,#3ba0fd 25px,#25c0e7 28px,#18d9c8 31px,#1de7b2 33px,#2ff19b 35px,#6dfe62 39px,#a1fd3d 42px,#c6f034 45px,#f1cb3a 51px,#fdae35 56px,#fe9e2f 61px,#f9781e 71px,#e5470b 86px,#d02f05 98px,#be2102 122px,#a41301 189px,#9b0f01 225px,#980e01 395px,#950d01 427px,#950d01 509px,#920b01 530px,#920b01 578px,#8e0a01 594px,#8e0a01 619px,#8b0902 632px,#8b0902 654px,#880802 665px,#880802 676px)"></i>
<i style="height:2px;background:linear-gradient(90deg,#33184a 0px,#33184a 16px,#3d358b 17px,#434eba 18px,#455ed3 19px,#4776ee 21px,#458afc 23px,#3d9efe 25px,#2eb4f2 27px,#1ad2d2 30px,#18e0bd 32px,#25eca7 34px,#4af880 37px,#7dff56 40px,#9ffd3f 42px,#c1f334 45px,#e3db38 49px,#f7c13a 53px,#fcb336 56px,#fe962b 64px,#f9781e 72px,#e4450a 87px,#cc2b04 102px,#b91e02 134px,#a11201 197px,#9b0f01 229px,#980e01 384px,#950d01 416px,#950d01 502px,#920b01 523px,#920b01 574px,#8e0a01 590px,#8e0a01 616px,#8b0902 629px,#8b0902 652px,#880802 663px,#880802 676px)"></i>
<i style="height:2px;background:linear-gradient(90deg,#33184a 0px,#33184a 16px,#3d358b 17px,#434eba 18px,#455ed3 19px,#4776ee 21px,#458afc 23px,#3d9efe 25px,#27bee9 28px,#18d7ca 31px,#1ce6b4 33px,#38f491 36px,#65fd69 39px,#9cfe40 42px,#bef434 45px,#d9e436 48px,#f6c33a 53px,#fbb637 56px,#fb8122 70px,#eb500e 84px,#d83706 94px,#c52603 112px,#b21a01 153px,#a11201 199px,#9b0f01 227px,#980e01 373px,#950d01 405px,#950d01 495px,#920b01 516px,#920b01 571px,#8e0a01 587px,#8e0a01 613px,#8b0902 626px,#8b0902 649px,#880802 660px,#880802 676px)"></i>
<i style="height:2px;background:linear-gradient(90deg,#33184a 0px,#33184a 16px,#3d358b 17px,#434eba 18px,#455ed3 19px,#4776ee 21px,#4294ff 24px,#37a8fa 26px,#1bd0d5 30px,#1ae4b6 33px,#35f394 36px,#52fa7a 38px,#99fe42 42px,#bcf534 45px,#d7e535 48px,#f4c73a 53px,#fbb637 57px,#fe992c 65px,#f15d13 81px,#e84b0c 86px,#d02f05 100px,#be2102 126px,#a41301 190px,#9b0f01 223px,#980e01 362px,#950d01 394px,#950d01 488px,#920b01 509px,#920b01 567px,#8e0a01 583px,#8e0a01 610px,#8b0902 623px,#8b0902 647px,#880802 658px,#880802 676px)"></i>
<i style="height:2px;background:linear-gradient(90deg,#33184a 0px,#33184a 16px,#3d358b 17px,#434eba 18px,#455ed3 19px,#4776ee 21px,#4391fe 24px,#2fb2f4 27px,#19d5cd 31px,#19e3b9 33px,#27eea4 35px,#3ff68a 37px,#96fe44 42px,#b9f635 45px,#dbe236 49px,#f2c93a 53px,#fbb637 58px,#fb8122 72px,#ea4e0d 86px,#d23105 100px,#c12302 122px,#a41301 190px,#9b0f01 223px,#980e01 349px,#950d01 381px,#950d01 481px,#920b01 502px,#920b01 563px,#8e0a01 579px,#8e0a01 607px,#8b0902 620px,#8b0902 644px,#880802 655px,#880802 676px)"></i>
<i style="height:2px;background:linear-gradient(90deg,#33184a 0px,#33184a 16px,#3d358b 17px,#434eba 18px,#455ed3 19px,#4776ee 21px,#4391fe 24px,#37a8fa 26px,#1ccdd8 30px,#19e3b9 33px,#27eea4 35px,#5dfc6f 39px,#92ff47 42px,#b7f735 45px,#dfdf37 50px,#f4c73a 54px,#fea431 64px,#f46617 80px,#e7490c 88px,#d43305 99px,#c12302 123px,#a11201 198px,#9b0f01 226px,#980e01 336px,#950d01 368px,#950d01 473px,#920b01 494px,#920b01 558px,#8e0a01 574px,#8e0a01 605px,#8b0902 618px,#8b0902 641px,#880802 652px,#880802 675px,#850702 676px)"></i>
<i style="height:2px;background:linear-gradient(90deg,#33184a 0px,#33184a 16px,#3d358b 17px,#434eba 18px,#455ed3 19px,#4776ee 21px,#4391fe 24px,#31aff5 27px,#1ad4d0 31px,#19e2bb 33px,#25eca7 35px,#4af880 38px,#8bff4b 42px,#a9fb39 44px,#cdec34 48px,#eecf3a 53px,#f8be39 57px,#fea431 65px,#f56918 80px,#e4450a 90px,#d02f05 103px,#bc2002 134px,#a11201 199px,#9b0f01 227px,#980e01 322px,#950d01 354px,#950d01 466px,#920b01 487px,#920b01 554px,#8e0a01 570px,#8e0a01 602px,#8b0902 615px,#8b0902 639px,#880802 650px,#880802 673px,#850702 676px)"></i>
<i style="height:2px;background:linear-gradient(90deg,#33184a 0px,#33184a 16px,#3d358b 17px,#424bb5 18px,#455ed3 19px,#466be3 20px,#4687fb 23px,#3e9bfe 25px,#2ab9ee 28px,#18d9c8 32px,#1ce6b4 34px,#38f491 37px,#65fd69 40px,#99fe42 43px,#b9f635 46px,#e7d739 52px,#f5c53a 56px,#fe9b2d 68px,#f66c19 80px,#e5470b 90px,#d23105 102px,#be2102 131px,#a11201 199px,#9b0f01 227px,#980e01 310px,#950d01 342px,#950d01 458px,#920b01 479px,#920b01 549px,#8e0a01 565px,#8e0a01 599px,#8b0902 612px,#8b0902 636px,#880802 647px,#880802 670px,#850702 676px)"></i>
<i style="height:2px;background:linear-gradient(90deg,#33184a 0px,#33184a 16px,#3d358b 17px,#424bb5 18px,#455ed3 19px,#466be3 20px,#4685fa 23px,#4099ff 25px,#2cb7f0 28px,#1bd0d5 31px,#1ae4b6 34px,#35f394 37px,#61fc6c 40px,#96fe44 43px,#b7f735 46px,#ebd339 53px,#f9bc39 60px,#fd8d27 73px,#ed5510 86px,#dc3b07 96px,#ca2a04 113px,#b71d02 149px,#a11201 200px,#9b0f01 226px,#980e01 299px,#950d01 331px,#950d01 451px,#920b01 472px,#920b01 544px,#8e0a01 560px,#8e0a01 596px,#8b0902 609px,#8b0902 633px,#880802 644px,#880802 668px,#850702 676px)"></i>
<i style="height:2px;background:linear-gradient(90deg,#33184a 0px,#33184a 16px,#3d358b 17px,#424bb5 18px,#455ed3 19px,#467df4 22px,#4099ff 25px,#2cb7f0 28px,#18d7ca 32px,#1fe9af 35px,#3ff68a 38px,#5dfc6f 40px,#92ff47 43px,#b4f836 46px,#e1dd37 52px,#efcd3a 55px,#fea933 66px,#f9781e 79px,#ea4e0d 89px,#d43305 102px,#be2102 133px,#a11201 201px,#9b0f01 227px,#980e01 291px,#950d01 323px,#950d01 443px,#920b01 464px,#920b01 538px,#8e0a01 554px,#8e0a01 593px,#8b0902 606px,#8b0902 631px,#880802 642px,#880802 665px,#850702 675px,#850702 676px)"></i>
<i style="height:2px;background:linear-gradient(90deg,#33184a 0px,#33184a 16px,#3d358b 17px,#424bb5 18px,#455ed3 19px,#4773eb 21px,#448ffe 24px,#35abf8 27px,#1ccdd8 31px,#19e3b9 34px,#25eca7 36px,#4af880 39px,#8fff49 43px,#b1f936 46px,#dfdf37 52px,#f4c73a 58px,#fea732 68px,#fa7b1f 79px,#eb500e 89px,#d63506 102px,#c32503 127px,#a41301 194px,#9b0f01 224px,#950d01 345px,#950d01 436px,#920b01 457px,#920b01 533px,#8e0a01 549px,#8e0a01 590px,#8b0902 603px,#8b0902 628px,#880802 639px,#880802 663px,#850702 673px,#850702 676px)"></i>
<i style="height:2px;background:linear-gradient(90deg,#33184a 0px,#33184a 16px,#3d358b 17px,#424bb5 18px,#455ed3 19px,#4773eb 21px,#458cfd 24px,#3ba0fd 26px,#22c5e2 30px,#18dbc5 33px,#1de7b2 35px,#38f491 38px,#55fa76 40px,#8bff4b 43px,#acfb38 46px,#d4e735 51px,#ebd339 55px,#fcb136 66px,#fc8725 77px,#ea4e0d 90px,#d63506 103px,#c32503 128px,#a11201 201px,#980e01 243px,#980e01 280px,#950d01 312px,#950d01 428px,#920b01 449px,#920b01 527px,#8e0a01 543px,#8e0a01 586px,#8b0902 599px,#8b0902 626px,#880802 637px,#880802 660px,#850702 670px,#850702 676px)"></i>
<i style="height:2px;background:linear-gradient(90deg,#33184a 0px,#33184a 16px,#3d358b 17px,#424bb5 18px,#455ccf 19px,#4669e0 20px,#477bf2 22px,#4196ff 25px,#2fb2f4 28px,#1ad4d0 32px,#1ce6b4 35px,#2aefa1 37px,#52fa7a 40px,#75fe5c 42px,#a1fd3d 45px,#c1f334 49px,#dfdf37 53px,#ebd339 56px,#fcb136 67px,#fc8725 78px,#ef5811 88px,#df3f08 97px,#cc2b04 116px,#b21a01 166px,#a11201 203px,#9b0f01 227px,#950d01 326px,#950d01 421px,#920b01 442px,#920b01 521px,#8e0a01 537px,#8e0a01 583px,#8b0902 596px,#8b0902 623px,#880802 634px,#880802 658px,#850702 668px,#850702 676px)"></i>
<i style="height:2px;background:linear-gradient(90deg,#33184a 0px,#33184a 16px,#3d358b 17px,#424bb5 18px,#455ccf 19px,#4669e0 20px,#4682f8 23px,#4294ff 25px,#2fb2f4 28px,#1ad2d2 32px,#1ae4b6 35px,#32f298 38px,#5dfc6f 41px,#80ff53 43px,#a7fc3a 46px,#cdec34 51px,#e1dd37 54px,#f8be39 64px,#fe932a 76px,#f05b12 88px,#df3f08 98px,#cc2b04 117px,#ac1701 177px,#9e1001 212px,#980e01 249px,#950d01 414px,#920b01 435px,#920b01 515px,#8e0a01 531px,#8e0a01 580px,#8b0902 593px,#8b0902 620px,#880802 631px,#880802 655px,#850702 665px,#850702 676px)"></i>
<i style="height:2px;background:linear-gradient(90deg,#33184a 0px,#33184a 16px,#3d358b 17px,#424bb5 18px,#455ccf 19px,#4669e0 20px,#458afc 24px,#38a5fb 27px,#1bd0d5 32px,#19e3b9 35px,#2ff19b 38px,#59fb73 41px,#7dff56 43px,#a4fc3c 46px,#cbed34 51px,#e3db38 55px,#fbb637 67px,#fe932a 77px,#f15d13 88px,#e4450a 96px,#d23105 111px,#bc2002 148px,#a11201 205px,#9b0f01 229px,#950d01 316px,#950d01 407px,#920b01 428px,#920b01 510px,#8e0a01 526px,#8e0a01 577px,#8b0902 590px,#8b0902 618px,#880802 629px,#880802 653px,#850702 663px,#850702 676px)"></i>
<i style="height:2px;background:linear-gradient(90deg,#33184a 0px,#33184a 16px,#3d358b 17px,#424bb5 18px,#455ccf 19px,#4669e0 20px,#458afc 24px,#38a5fb 27px,#20c7df 31px,#18ddc2 34px,#1de7b2 36px,#38f491 39px,#55fa76 41px,#79fe59 43px,#96fe44 45px,#b7f735 49px,#d4e735 53px,#e5d938 57px,#fbb637 68px,#fe962b 77px,#ef5811 90px,#dd3d08 101px,#ca2a04 124px,#a41301 199px,#9b0f01 226px,#950d01 317px,#950d01 400px,#920b01 421px,#920b01 504px,#8e0a01 520px,#8e0a01 574px,#8b0902 587px,#8b0902 615px,#880802 626px,#880802 651px,#850702 661px,#850702 676px)"></i>
<i style="height:2px;background:linear-gradient(90deg,#33184a 0px,#33184a 16px,#3d358b 17px,#424bb5 18px,#455ccf 19px,#4771e9 21px,#458afc 24px,#3aa3fc 27px,#22c5e2 31px,#18dbc5 34px,#1ce6b4 36px,#2aefa1 38px,#61fc6c 42px,#84ff51 44px,#9cfe40 46px,#bcf534 50px,#dde037 55px,#faba39 68px,#fe962b 78px,#f05b12 90px,#dd3d08 102px,#cc2b04 123px,#a71401 192px,#9e1001 217px,#980e01 250px,#950d01 394px,#920b01 415px,#920b01 499px,#8e0a01 515px,#8e0a01 571px,#8b0902 584px,#8b0902 613px,#880802 624px,#880802 648px,#850702 658px,#850702 676px)"></i>
<i style="height:2px;background:linear-gradient(90deg,#33184a 0px,#33184a 16px,#3d358b 17px,#424bb5 18px,#455ccf 19px,#4771e9 21px,#4391fe 25px,#35abf8 28px,#1ecbda 32px,#18e0bd 35px,#27eea4 38px,#5dfc6f 42px,#80ff53 44px,#a1fd3d 47px,#c8ef34 52px,#dfdf37 57px,#faba39 69px,#fe992c 78px,#f36315 89px,#e84b0c 96px,#dc3b07 105px,#ca2a04 128px,#a41301 201px,#9b0f01 229px,#950d01 314px,#950d01 389px,#920b01 410px,#920b01 494px,#8e0a01 510px,#8e0a01 568px,#8b0902 581px,#8b0902 610px,#880802 621px,#880802 646px,#850702 656px,#850702 676px)"></i>
<i style="height:2px;background:linear-gradient(90deg,#33184a 0px,#33184a 16px,#3d358b 17px,#424bb5 18px,#455ccf 19px,#476ee6 21px,#4680f6 23px,#4099ff 26px,#2ab9ee 30px,#18d7ca 34px,#19e3b9 36px,#25eca7 38px,#4af880 41px,#88ff4e 45px,#acfb38 49px,#d0ea34 54px,#f2c93a 65px,#fea732 76px,#f66c19 88px,#eb500e 95px,#dc3b07 106px,#c82803 134px,#a11201 208px,#980e01 250px,#950d01 384px,#920b01 405px,#920b01 489px,#8e0a01 505px,#8e0a01 565px,#8b0902 578px,#8b0902 608px,#880802 619px,#880802 644px,#850702 654px,#850702 676px)"></i>
<i style="height:2px;background:linear-gradient(90deg,#33184a 0px,#33184a 16px,#3d358b 17px,#424bb5 18px,#455ccf 19px,#476ee6 21px,#4687fb 24px,#3ba0fd 27px,#2ab9ee 30px,#19d5cd 34px,#1de7b2 37px,#2cf09e 39px,#75fe5c 44px,#8fff49 46px,#b1f936 50px,#d2e935 55px,#f6c33a 68px,#fea933 76px,#f76f1a 88px,#ec530f 95px,#dd3d08 106px,#cc2b04 129px,#a41301 203px,#9b0f01 233px,#950d01 315px,#950d01 380px,#920b01 401px,#920b01 485px,#8e0a01 501px,#8e0a01 562px,#8b0902 575px,#8b0902 606px,#880802 617px,#880802 642px,#850702 652px,#850702 675px,#810602 676px)"></i>
<i style="height:2px;background:linear-gradient(90deg,#33184a 0px,#33184a 16px,#3c3286 17px,#424bb5 18px,#455ccf 19px,#476ee6 21px,#448ffe 25px,#37a8fa 28px,#27bee9 31px,#18dbc5 35px,#20eaac 38px,#43f787 41px,#71fe5f 44px,#96fe44 47px,#bcf534 52px,#d9e436 58px,#f6c33a 69px,#fea431 78px,#f56918 90px,#eb500e 97px,#dd3d08 107px,#ca2a04 135px,#a41301 205px,#9b0f01 235px,#950d01 315px,#950d01 377px,#920b01 398px,#920b01 480px,#8e0a01 496px,#8e0a01 559px,#8b0902 572px,#8b0902 603px,#880802 614px,#880802 640px,#850702 650px,#850702 673px,#810602 676px)"></i>
<i style="height:2px;background:linear-gradient(90deg,#33184a 0px,#33184a 16px,#3c3286 17px,#424bb5 18px,#4666dd 20px,#4685fa 24px,#3d9efe 27px,#28bceb 31px,#18d9c8 35px,#1fe9af 38px,#3ff68a 41px,#6dfe62 44px,#a1fd3d 49px,#bef434 53px,#d2e935 57px,#f6c33a 70px,#fea431 79px,#f56918 91px,#ed5510 96px,#df3f08 107px,#cc2b04 133px,#a41301 206px,#9b0f01 236px,#950d01 318px,#950d01 375px,#920b01 396px,#920b01 476px,#8e0a01 492px,#8e0a01 556px,#8b0902 569px,#8b0902 601px,#880802 612px,#880802 638px,#850702 648px,#850702 671px,#810602 676px)"></i>
<i style="height:2px;background:linear-gradient(90deg,#33184a 0px,#33184a 16px,#3c3286 17px,#4249b1 18px,#4559cb 19px,#476ee6 21px,#458cfd 25px,#3aa3fc 28px,#23c3e4 32px,#18d7ca 35px,#1de7b2 38px,#3cf58e 41px,#80ff53 46px,#9cfe40 49px,#bcf534 53px,#cdec34 57px,#f2c93a 69px,#fdac34 78px,#f9751d 89px,#ef5811 96px,#e14109 107px,#ce2d04 132px,#a41301 207px,#9b0f01 238px,#950d01 322px,#950d01 373px,#920b01 394px,#920b01 473px,#8e0a01 489px,#8e0a01 553px,#8b0902 566px,#8b0902 599px,#880802 610px,#880802 636px,#850702 646px,#850702 669px,#810602 676px)"></i>
<i style="height:2px;background:linear-gradient(90deg,#33184a 0px,#33184a 16px,#3c3286 17px,#4249b1 18px,#4559cb 19px,#466be3 21px,#458afc 25px,#3aa3fc 28px,#25c0e7 32px,#18ddc2 36px,#1ce6b4 38px,#35f394 41px,#71fe5f 45px,#99fe42 49px,#b7f735 53px,#c6f034 56px,#ebd339 67px,#fcb136 78px,#fb7e21 88px,#ef5811 97px,#e2430a 107px,#d02f05 131px,#a71401 204px,#9e1001 228px,#980e01 267px,#950d01 372px,#920b01 393px,#920b01 470px,#8e0a01 486px,#8e0a01 550px,#8b0902 563px,#8b0902 597px,#880802 608px,#880802 634px,#850702 644px,#850702 668px,#810602 676px)"></i>
<i style="height:2px;background:linear-gradient(90deg,#33184a 0px,#33184a 16px,#3c3286 17px,#4249b1 18px,#4559cb 19px,#466be3 21px,#458afc 25px,#3ba0fd 28px,#2cb7f0 31px,#19d5cd 35px,#1ae4b6 38px,#27eea4 40px,#69fd66 45px,#8bff4b 48px,#b4f836 53px,#e5d938 66px,#fbb838 77px,#fc8725 87px,#f46617 94px,#e5470b 105px,#d43305 127px,#a91601 200px,#9e1001 228px,#980e01 271px,#950d01 373px,#920b01 394px,#920b01 468px,#8e0a01 484px,#8e0a01 547px,#8b0902 560px,#8b0902 595px,#880802 606px,#880802 632px,#850702 642px,#850702 666px,#810602 674px,#810602 676px)"></i>
<i style="height:2px;background:linear-gradient(90deg,#33184a 0px,#33184a 16px,#3c3286 17px,#4249b1 18px,#4559cb 19px,#466be3 21px,#4391fe 26px,#37a8fa 29px,#1ecbda 34px,#18dec0 37px,#25eca7 40px,#65fd69 45px,#8fff49 49px,#affa37 53px,#cdec34 60px,#efcd3a 71px,#fdae35 80px,#f9781e 91px,#f05b12 98px,#e4450a 108px,#d02f05 137px,#a71401 207px,#9e1001 232px,#980e01 273px,#950d01 373px,#920b01 394px,#920b01 466px,#8e0a01 482px,#8e0a01 545px,#8b0902 558px,#8b0902 594px,#880802 605px,#880802 631px,#850702 641px,#850702 664px,#810602 672px,#810602 676px)"></i>
<i style="height:2px;background:linear-gradient(90deg,#33184a 0px,#33184a 16px,#3c3286 17px,#4249b1 18px,#4559cb 19px,#466be3 21px,#4687fb 25px,#3d9efe 28px,#28bceb 32px,#18d7ca 36px,#1de7b2 39px,#2cf09e 41px,#6dfe62 46px,#9cfe40 51px,#b7f735 55px,#dbe236 65px,#f7c13a 76px,#fea431 83px,#f56918 95px,#ea4e0d 104px,#da3907 124px,#b41b01 185px,#a41301 216px,#9e1001 236px,#980e01 275px,#950d01 375px,#920b01 396px,#920b01 465px,#8e0a01 481px,#8e0a01 543px,#8b0902 556px,#8b0902 592px,#880802 603px,#880802 629px,#850702 639px,#850702 663px,#810602 671px,#810602 676px)"></i>
<i style="height:2px;background:linear-gradient(90deg,#33184a 0px,#33184a 16px,#3c3286 17px,#4249b1 18px,#4456c7 19px,#4669e0 21px,#4687fb 25px,#3e9bfe 28px,#2ab9ee 32px,#19d5cd 36px,#1ce6b4 39px,#2aefa1 41px,#65fd69 46px,#8fff49 50px,#acfb38 54px,#d7e535 65px,#f1cb3a 74px,#fdac34 82px,#f8721c 94px,#ef5811 101px,#e2430a 114px,#ce2d04 146px,#a71401 210px,#9e1001 238px,#980e01 281px,#950d01 377px,#920b01 398px,#920b01 464px,#8e0a01 480px,#8e0a01 541px,#8b0902 554px,#8b0902 591px,#880802 602px,#880802 628px,#850702 638px,#850702 661px,#810602 669px,#810602 676px)"></i>
<i style="height:2px;background:linear-gradient(90deg,#33184a 0px,#33184a 16px,#3c3286 17px,#4249b1 18px,#4456c7 19px,#4669e0 21px,#458cfd 26px,#37a8fa 30px,#25c0e7 33px,#18d9c8 37px,#1fe9af 40px,#3cf58e 43px,#6dfe62 47px,#9cfe40 52px,#b1f936 56px,#dbe236 67px,#f7c13a 78px,#fea130 85px,#f56918 97px,#ed5510 103px,#e14109 118px,#c82803 160px,#a91601 208px,#9e1001 238px,#980e01 289px,#950d01 380px,#920b01 401px,#920b01 464px,#8e0a01 480px,#8e0a01 540px,#8b0902 553px,#8b0902 590px,#880802 601px,#880802 627px,#850702 637px,#850702 660px,#810602 668px,#810602 676px)"></i>
<i style="height:2px;background:linear-gradient(90deg,#33184a 0px,#33184a 16px,#3c3286 17px,#4249b1 18px,#4456c7 19px,#4669e0 21px,#458cfd 26px,#3ba0fd 29px,#27bee9 33px,#18d7ca 37px,#1de7b2 40px,#38f491 43px,#5dfc6f 46px,#96fe44 52px,#a9fb39 55px,#d4e735 66px,#f7c13a 79px,#fe9b2d 87px,#f9751d 95px,#eb500e 107px,#dc3b07 129px,#b41b01 192px,#a41301 223px,#9e1001 245px,#980e01 290px,#950d01 383px,#920b01 404px,#920b01 465px,#8e0a01 481px,#8e0a01 539px,#8b0902 552px,#8b0902 589px,#880802 600px,#880802 626px,#850702 636px,#850702 659px,#810602 667px,#810602 676px)"></i>
<i style="height:2px;background:linear-gradient(90deg,#33184a 0px,#33184a 16px,#3c3286 17px,#4249b1 18px,#4456c7 19px,#4669e0 21px,#458afc 26px,#38a5fb 30px,#1fc9dd 35px,#18e0bd 39px,#20eaac 41px,#55fa76 46px,#92ff47 52px,#acfb38 57px,#d7e535 68px,#f7c13a 80px,#fe962b 89px,#f9751d 96px,#ed5510 106px,#df3f08 125px,#bc2002 183px,#a71401 218px,#9e1001 246px,#980e01 301px,#950d01 388px,#920b01 409px,#920b01 466px,#8e0a01 482px,#8e0a01 539px,#8b0902 552px,#8b0902 588px,#880802 599px,#880802 625px,#850702 635px,#850702 658px,#810602 666px,#810602 676px)"></i>
<i style="height:2px;background:linear-gradient(90deg,#33184a 0px,#33184a 16px,#3c3286 17px,#4146ac 18px,#4456c7 19px,#476ee6 22px,#458afc 26px,#3aa3fc 30px,#20c7df 35px,#18dec0 39px,#1fe9af 41px,#3cf58e 44px,#79fe59 50px,#9cfe40 54px,#c1f334 63px,#e3db38 73px,#fbb838 83px,#fc8725 93px,#f46617 101px,#eb500e 111px,#da3907 137px,#b91e02 189px,#a91601 215px,#a11201 239px,#9b0f01 271px,#950d01 374px,#920b01 468px,#8e0a01 484px,#8e0a01 539px,#8b0902 552px,#8b0902 588px,#880802 599px,#880802 625px,#850702 635px,#850702 658px,#810602 666px,#810602 676px)"></i>
<i style="height:2px;background:linear-gradient(90deg,#33184a 0px,#33184a 16px,#3c3286 17px,#4146ac 18px,#4456c7 19px,#4666dd 21px,#4680f6 25px,#4294ff 28px,#31aff5 32px,#18d7ca 38px,#1de7b2 41px,#35f394 44px,#43f787 45px,#7dff56 51px,#96fe44 54px,#b4f836 61px,#e3db38 74px,#faba39 83px,#fe992c 90px,#f8721c 99px,#f36315 103px,#ea4e0d 115px,#dc3b07 138px,#b91e02 191px,#a71401 223px,#9e1001 256px,#980e01 313px,#950d01 398px,#920b01 419px,#920b01 470px,#8e0a01 486px,#8e0a01 540px,#8b0902 553px,#8b0902 588px,#880802 599px,#880802 624px,#850702 634px,#850702 657px,#810602 665px,#810602 676px)"></i>
<i style="height:2px;background:linear-gradient(90deg,#33184a 0px,#33184a 16px,#3c3286 17px,#4146ac 18px,#4454c3 19px,#4666dd 21px,#4687fb 26px,#3ba0fd 30px,#28bceb 34px,#18dbc5 39px,#20eaac 42px,#59fb73 48px,#92ff47 54px,#b7f735 63px,#dde037 73px,#f6c33a 82px,#fe992c 91px,#f8721c 100px,#ef5811 110px,#e2430a 129px,#c32503 180px,#ac1701 214px,#a11201 245px,#9b0f01 283px,#950d01 392px,#920b01 474px,#8e0a01 490px,#8e0a01 541px,#8b0902 554px,#8b0902 589px,#880802 600px,#880802 624px,#850702 634px,#850702 657px,#810602 665px,#810602 676px)"></i>
<i style="height:2px;background:linear-gradient(90deg,#33184a 0px,#33184a 16px,#3c3286 17px,#4146ac 18px,#4454c3 19px,#455ed3 20px,#4778f0 24px,#4391fe 28px,#38a5fb 31px,#20c7df 36px,#18dec0 40px,#1fe9af 42px,#4af880 47px,#8bff4b 54px,#affa37 62px,#d9e436 73px,#f2c93a 81px,#fea130 90px,#f76f1a 102px,#f15d13 109px,#e5470b 126px,#c32503 183px,#ac1701 217px,#a11201 248px,#9b0f01 292px,#950d01 399px,#920b01 477px,#8e0a01 493px,#8e0a01 543px,#8b0902 556px,#8b0902 589px,#880802 600px,#880802 625px,#850702 635px,#850702 657px,#810602 665px,#810602 676px)"></i>
<i style="height:2px;background:linear-gradient(90deg,#33184a 0px,#33184a 16px,#3c3286 17px,#4146ac 18px,#4454c3 19px,#455ed3 20px,#4776ee 24px,#458afc 27px,#3aa3fc 31px,#1ecbda 37px,#18ddc2 40px,#22ebaa 43px,#46f884 47px,#69fd66 51px,#84ff51 54px,#96fe44 57px,#b7f735 65px,#e5d938 78px,#fbb838 86px,#fc8725 97px,#f36315 108px,#e84b0c 125px,#ca2a04 175px,#ac1701 220px,#a41301 243px,#9e1001 271px,#980e01 342px,#950d01 417px,#920b01 438px,#920b01 482px,#8e0a01 498px,#8e0a01 545px,#8b0902 558px,#8b0902 590px,#880802 601px,#880802 625px,#850702 635px,#850702 658px,#810602 666px,#810602 676px)"></i>
<i style="height:2px;background:linear-gradient(90deg,#33184a 0px,#33184a 16px,#3c3286 17px,#4146ac 18px,#4454c3 19px,#4664da 21px,#458afc 27px,#3ba0fd 31px,#23c3e4 36px,#18dbc5 40px,#20eaac 43px,#59fb73 50px,#80ff53 54px,#affa37 64px,#dbe236 76px,#f9bc39 86px,#fe9029 96px,#f9751d 103px,#f36315 110px,#e5470b 133px,#c32503 188px,#ac1701 222px,#a11201 257px,#9b0f01 311px,#950d01 416px,#920b01 487px,#8e0a01 503px,#8e0a01 548px,#8b0902 561px,#8b0902 592px,#880802 603px,#880802 626px,#850702 636px,#850702 658px,#810602 666px,#810602 676px)"></i>
<i style="height:2px;background:linear-gradient(90deg,#33184a 0px,#33184a 16px,#3c3286 17px,#4146ac 18px,#4454c3 19px,#4664da 21px,#4687fb 27px,#3ba0fd 31px,#28bceb 35px,#18d9c8 40px,#1fe9af 43px,#43f787 48px,#79fe59 54px,#a1fd3d 62px,#c6f034 71px,#e3db38 79px,#fbb838 88px,#fc8423 100px,#f9751d 104px,#ef5811 119px,#df3f08 148px,#b71d02 206px,#a71401 240px,#9e1001 284px,#980e01 365px,#950d01 432px,#920b01 453px,#920b01 492px,#8e0a01 508px,#8e0a01 552px,#8b0902 565px,#8b0902 594px,#880802 605px,#880802 628px,#850702 638px,#850702 659px,#810602 667px,#810602 676px)"></i>
<i style="height:2px;background:linear-gradient(90deg,#33184a 0px,#33184a 16px,#3b2f80 17px,#4146ac 18px,#455ccf 20px,#4773eb 24px,#458cfd 28px,#38a5fb 32px,#22c5e2 37px,#18ddc2 41px,#1ce6b4 43px,#46f884 49px,#79fe59 55px,#a1fd3d 63px,#c6f034 72px,#e3db38 80px,#f9bc39 88px,#fd8d27 99px,#f8721c 107px,#ef5811 122px,#e14109 149px,#b91e02 206px,#ac1701 230px,#a41301 257px,#9e1001 293px,#980e01 378px,#950d01 440px,#920b01 461px,#920b01 498px,#8e0a01 514px,#8e0a01 555px,#8b0902 568px,#8b0902 596px,#880802 607px,#880802 629px,#850702 639px,#850702 661px,#810602 669px,#810602 676px)"></i>
<i style="height:2px;background:linear-gradient(90deg,#33184a 0px,#33184a 16px,#3b2f80 17px,#4143a7 18px,#4451bf 19px,#455ccf 20px,#4778f0 25px,#448ffe 29px,#3aa3fc 32px,#23c3e4 37px,#18dbc5 41px,#1fe9af 44px,#3ff68a 49px,#75fe5c 55px,#8bff4b 60px,#a9fb39 66px,#d4e735 77px,#f8be39 88px,#fe9029 99px,#fb7e21 104px,#f26014 119px,#e84b0c 138px,#cc2b04 184px,#b21a01 222px,#a71401 249px,#9e1001 299px,#980e01 392px,#950d01 448px,#920b01 469px,#920b01 505px,#8e0a01 521px,#8e0a01 560px,#8b0902 573px,#8b0902 598px,#880802 609px,#880802 631px,#850702 641px,#850702 663px,#810602 671px,#810602 676px)"></i>
<i style="height:2px;background:linear-gradient(90deg,#33184a 0px,#33184a 16px,#3b2f80 17px,#4143a7 18px,#4451bf 19px,#4661d6 21px,#467df4 26px,#4294ff 30px,#33adf7 34px,#1ccdd8 39px,#18dec0 42px,#27eea4 46px,#43f787 50px,#6dfe62 55px,#9ffd3f 65px,#bcf534 72px,#e3db38 82px,#faba39 90px,#fd8a26 102px,#f8721c 111px,#f05b12 126px,#e14109 156px,#bc2002 208px,#ac1701 237px,#a41301 269px,#9e1001 314px,#980e01 401px,#950d01 457px,#920b01 478px,#920b01 512px,#8e0a01 528px,#8e0a01 564px,#8b0902 577px,#8b0902 601px,#880802 612px,#880802 634px,#850702 644px,#850702 665px,#810602 673px,#810602 676px)"></i>
<i style="height:2px;background:linear-gradient(90deg,#33184a 0px,#33184a 16px,#3b2f80 17px,#4143a7 18px,#4451bf 19px,#455ed3 21px,#4776ee 25px,#458cfd 29px,#38a5fb 33px,#22c5e2 38px,#18ddc2 42px,#25eca7 46px,#35f394 49px,#61fc6c 54px,#8bff4b 62px,#acfb38 69px,#d0ea34 78px,#f6c33a 89px,#fe992c 99px,#f9751d 112px,#f26014 125px,#e5470b 151px,#c52603 198px,#b21a01 229px,#a71401 260px,#9e1001 319px,#980e01 416px,#950d01 448px,#920b01 520px,#8e0a01 536px,#8e0a01 569px,#8b0902 582px,#8b0902 605px,#880802 616px,#880802 637px,#850702 647px,#850702 667px,#810602 675px,#810602 676px)"></i>
<i style="height:2px;background:linear-gradient(90deg,#33184a 0px,#33184a 16px,#3b2f80 17px,#4143a7 18px,#4451bf 19px,#455ed3 21px,#477bf2 26px,#4196ff 31px,#31aff5 35px,#1ad4d0 41px,#19e3b9 44px,#3ff68a 51px,#61fc6c 55px,#79fe59 60px,#a4fc3c 68px,#cbed34 78px,#eecf3a 87px,#fdae35 95px,#fc8423 107px,#f36315 125px,#e5470b 155px,#c12302 206px,#af1801 239px,#a71401 268px,#a11201 309px,#9b0f01 375px,#950d01 477px,#920b01 498px,#920b01 528px,#8e0a01 544px,#8e0a01 574px,#8b0902 587px,#8b0902 609px,#880802 620px,#880802 640px,#850702 650px,#850702 670px,#810602 676px)"></i>
<i style="height:2px;background:linear-gradient(90deg,#33184a 0px,#33184a 16px,#3b2f80 17px,#4143a7 18px,#434eba 19px,#455ed3 21px,#4685fa 28px,#3e9bfe 32px,#2ab9ee 37px,#18d7ca 42px,#1fe9af 46px,#2cf09e 49px,#59fb73 55px,#6dfe62 59px,#96fe44 66px,#b7f735 74px,#d9e436 82px,#f4c73a 90px,#fea732 98px,#fb7e21 112px,#f46617 127px,#e84b0c 153px,#c82803 201px,#b41b01 231px,#a91601 262px,#a41301 295px,#9e1001 350px,#980e01 437px,#950d01 487px,#920b01 508px,#920b01 537px,#8e0a01 553px,#8e0a01 580px,#8b0902 593px,#8b0902 613px,#880802 624px,#880802 644px,#850702 654px,#850702 673px,#810602 676px)"></i>
<i style="height:2px;background:linear-gradient(90deg,#33184a 0px,#33184a 16px,#3b2f80 17px,#4143a7 18px,#434eba 19px,#455ccf 21px,#4778f0 26px,#4391fe 31px,#35abf8 35px,#1fc9dd 40px,#18e0bd 44px,#2aefa1 49px,#4ef97d 54px,#71fe5f 61px,#96fe44 67px,#b4f836 75px,#e1dd37 85px,#f8be39 93px,#fe962b 105px,#fb8122 113px,#f76f1a 124px,#eb500e 151px,#cc2b04 198px,#b41b01 235px,#a91601 269px,#a11201 326px,#980e01 448px,#950d01 498px,#920b01 519px,#920b01 546px,#8e0a01 562px,#8e0a01 585px,#8b0902 598px,#8b0902 618px,#880802 629px,#880802 648px,#850702 658px,#850702 676px)"></i>
<i style="height:2px;background:linear-gradient(90deg,#33184a 0px,#33184a 16px,#3b2f80 17px,#4040a2 18px,#434eba 19px,#455ccf 21px,#477bf2 27px,#4196ff 32px,#2eb4f2 37px,#1ad4d0 42px,#1ce6b4 46px,#38f491 52px,#52fa7a 56px,#65fd69 60px,#99fe42 69px,#b9f635 77px,#e5d938 87px,#faba39 95px,#fe932a 107px,#f9751d 123px,#f15d13 142px,#d63506 188px,#bc2002 224px,#ac1701 261px,#a41301 316px,#9e1001 379px,#980e01 462px,#950d01 509px,#920b01 530px,#920b01 555px,#8e0a01 571px,#8e0a01 592px,#8b0902 605px,#8b0902 623px,#880802 634px,#880802 652px,#850702 662px,#850702 676px)"></i>
<i style="height:2px;background:linear-gradient(90deg,#33184a 0px,#33184a 16px,#3b2f80 17px,#4040a2 18px,#434eba 19px,#455ccf 21px,#477bf2 27px,#4294ff 32px,#2fb2f4 37px,#1ad2d2 42px,#19e3b9 46px,#2cf09e 51px,#3cf58e 53px,#71fe5f 63px,#99fe42 70px,#b9f635 78px,#e5d938 88px,#f8be39 95px,#fe962b 108px,#f9781e 124px,#ef5811 151px,#d23105 196px,#b91e02 232px,#ac1701 270px,#a41301 327px,#9b0f01 429px,#950d01 521px,#920b01 542px,#920b01 564px,#8e0a01 580px,#8e0a01 598px,#8b0902 611px,#8b0902 628px,#880802 639px,#880802 657px,#850702 667px,#850702 676px)"></i>
<i style="height:2px;background:linear-gradient(90deg,#33184a 0px,#33184a 16px,#3b2f80 17px,#4040a2 18px,#424bb5 19px,#4559cb 21px,#4778f0 27px,#4391fe 32px,#31aff5 37px,#1ad4d0 43px,#1ae4b6 47px,#2ff19b 52px,#4af880 57px,#5dfc6f 61px,#92ff47 70px,#b9f635 79px,#e5d938 89px,#f8be39 96px,#fe932a 112px,#f9751d 130px,#ea4e0d 165px,#cc2b04 207px,#b71d02 243px,#ac1701 279px,#a41301 341px,#9b0f01 445px,#950d01 532px,#920b01 573px,#8e0a01 589px,#8e0a01 605px,#8b0902 618px,#8b0902 634px,#880802 645px,#880802 663px,#850702 673px,#850702 676px)"></i>
<i style="height:2px;background:linear-gradient(90deg,#33184a 0px,#33184a 16px,#3b2f80 17px,#4040a2 18px,#424bb5 19px,#4559cb 21px,#4778f0 27px,#4196ff 33px,#2eb4f2 38px,#18d7ca 44px,#1de7b2 49px,#3ff68a 56px,#52fa7a 60px,#88ff4e 69px,#affa37 78px,#d9e436 87px,#f4c73a 95px,#fea933 105px,#fd8a26 119px,#f66c19 141px,#df3f08 185px,#c52603 220px,#b41b01 255px,#ac1701 291px,#a41301 353px,#9b0f01 461px,#950d01 545px,#920b01 566px,#920b01 582px,#8e0a01 598px,#8e0a01 612px,#8b0902 625px,#8b0902 641px,#880802 652px,#880802 669px,#850702 676px)"></i>
<i style="height:2px;background:linear-gradient(90deg,#33184a 0px,#33184a 16px,#3b2f80 17px,#4040a2 18px,#424bb5 19px,#4559cb 21px,#4680f6 29px,#3e9bfe 34px,#2cb7f0 39px,#1ad4d0 44px,#1ce6b4 49px,#35f394 55px,#61fc6c 64px,#8fff49 72px,#b9f635 81px,#e5d938 91px,#f7c13a 98px,#fe9e2f 111px,#fa7b1f 133px,#e7490c 177px,#cc2b04 213px,#b71d02 254px,#ac1701 299px,#a41301 371px,#9b0f01 476px,#950d01 557px,#920b01 578px,#8e0a01 620px,#8b0902 633px,#8b0902 648px,#880802 659px,#880802 676px)"></i>
<i style="height:2px;background:linear-gradient(90deg,#33184a 0px,#33184a 16px,#3b2f80 17px,#4040a2 18px,#424bb5 19px,#466be3 25px,#458cfd 32px,#3aa3fc 36px,#25c0e7 41px,#18d7ca 45px,#1ce6b4 50px,#35f394 56px,#4af880 61px,#79fe59 69px,#a9fb39 79px,#d2e935 87px,#f4c73a 97px,#fea732 110px,#fd8d27 124px,#f76f1a 147px,#e14109 189px,#c82803 223px,#b71d02 261px,#ac1701 310px,#a11201 416px,#950d01 569px,#920b01 590px,#8e0a01 628px,#8b0902 641px,#8b0902 655px,#880802 666px,#880802 676px)"></i>
<i style="height:2px;background:linear-gradient(90deg,#33184a 0px,#33184a 16px,#3a2d79 17px,#3f3e9c 18px,#424bb5 19px,#4661d6 23px,#477bf2 29px,#4196ff 34px,#2fb2f4 39px,#1ad4d0 45px,#1ae4b6 50px,#2ff19b 56px,#4ef97d 63px,#7dff56 71px,#a9fb39 80px,#d2e935 88px,#f1cb3a 97px,#fdae35 109px,#fe932a 123px,#f36315 161px,#e14109 192px,#c82803 228px,#b71d02 267px,#ac1701 326px,#a11201 432px,#950d01 580px,#920b01 601px,#8e0a01 637px,#8b0902 650px,#8b0902 663px,#880802 674px,#880802 676px)"></i>
<i style="height:2px;background:linear-gradient(90deg,#33184a 0px,#33184a 16px,#3a2d79 17px,#3f3e9c 18px,#4249b1 19px,#4456c7 21px,#4771e9 27px,#448ffe 33px,#38a5fb 37px,#28bceb 41px,#19d5cd 46px,#1ae4b6 51px,#32f298 58px,#4ef97d 64px,#65fd69 68px,#9cfe40 78px,#bef434 85px,#e5d938 94px,#f8be39 103px,#fe992c 123px,#f8721c 153px,#e2430a 193px,#cc2b04 225px,#b91e02 266px,#ac1701 336px,#9e1001 485px,#950d01 591px,#920b01 612px,#8e0a01 646px,#8b0902 659px,#8b0902 672px,#880802 676px)"></i>
<i style="height:2px;background:linear-gradient(90deg,#33184a 0px,#33184a 16px,#3a2d79 17px,#3f3e9c 18px,#4249b1 19px,#4451bf 20px,#4771e9 27px,#4391fe 34px,#33adf7 39px,#1fc9dd 44px,#18ddc2 49px,#2aefa1 57px,#46f884 64px,#69fd66 70px,#a4fc3c 81px,#c8ef34 88px,#ebd339 97px,#faba39 107px,#fe962b 129px,#f05b12 176px,#df3f08 201px,#c82803 236px,#b91e02 277px,#af1801 335px,#a41301 438px,#9b0f01 540px,#920b01 629px,#8e0a01 645px,#8b0902 676px)"></i>
<i style="height:2px;background:linear-gradient(90deg,#33184a 0px,#33184a 16px,#3a2d79 17px,#3f3e9c 18px,#4249b1 19px,#4559cb 22px,#4778f0 29px,#4196ff 35px,#31aff5 40px,#1ecbda 45px,#18e0bd 51px,#22ebaa 56px,#3cf58e 63px,#79fe59 74px,#a9fb39 83px,#d0ea34 91px,#ecd13a 99px,#fbb637 112px,#fe962b 133px,#f15d13 177px,#e14109 202px,#ca2a04 237px,#bc2002 277px,#b21a01 332px,#a71401 425px,#950d01 614px,#920b01 635px,#8e0a01 665px,#8b0902 676px)"></i>
<i style="height:2px;background:linear-gradient(90deg,#33184a 0px,#33184a 16px,#3a2d79 17px,#3f3e9c 18px,#4249b1 19px,#4454c3 21px,#476ee6 27px,#4682f8 32px,#4099ff 36px,#2eb4f2 41px,#19d5cd 48px,#1ce6b4 54px,#32f298 62px,#75fe5c 75px,#9ffd3f 82px,#c3f134 89px,#e9d539 99px,#faba39 112px,#fe9029 142px,#f36315 176px,#df3f08 207px,#ca2a04 244px,#be2102 277px,#b21a01 345px,#a41301 475px,#950d01 625px,#920b01 646px,#8e0a01 676px)"></i>
<i style="height:2px;background:linear-gradient(90deg,#33184a 0px,#33184a 16px,#3a2d79 17px,#3f3e9c 18px,#434eba 20px,#4664da 25px,#4687fb 33px,#3ba0fd 38px,#28bceb 43px,#19d5cd 49px,#1ce6b4 55px,#2aefa1 61px,#5dfc6f 72px,#88ff4e 79px,#affa37 86px,#dbe236 96px,#f1cb3a 105px,#fdae35 123px,#f9751d 168px,#e7490c 200px,#d23105 232px,#c12302 275px,#b21a01 360px,#a11201 523px,#950d01 637px,#920b01 658px,#8e0a01 676px)"></i>
<i style="height:2px;background:linear-gradient(90deg,#33184a 0px,#33184a 16px,#3a2d79 17px,#3f3b97 18px,#4146ac 19px,#4456c7 22px,#477bf2 31px,#4294ff 36px,#37a8fa 40px,#1fc9dd 46px,#18e0bd 53px,#27eea4 61px,#43f787 68px,#79fe59 78px,#99fe42 83px,#b9f635 89px,#e1dd37 99px,#f5c53a 111px,#fea130 136px,#fb7e21 165px,#ed5510 193px,#dc3b07 221px,#ca2a04 256px,#bc2002 310px,#af1801 404px,#a11201 545px,#950d01 650px,#920b01 671px,#8e0a01 676px)"></i>
<i style="height:2px;background:linear-gradient(90deg,#33184a 0px,#33184a 16px,#3a2d79 17px,#3f3b97 18px,#4146ac 19px,#4451bf 21px,#4776ee 30px,#4391fe 36px,#35abf8 41px,#1ecbda 48px,#18e0bd 54px,#25eca7 62px,#4af880 71px,#79fe59 79px,#a4fc3c 86px,#c6f034 93px,#e5d938 102px,#f8be39 117px,#fe932a 154px,#ef5811 195px,#e14109 217px,#ce2d04 252px,#c12302 300px,#b41b01 379px,#a41301 532px,#950d01 663px,#920b01 676px)"></i>
<i style="height:2px;background:linear-gradient(90deg,#33184a 0px,#33184a 16px,#3a2d79 17px,#3f3b97 18px,#4146ac 19px,#455ccf 24px,#4680f6 33px,#4099ff 38px,#2eb4f2 43px,#1ccdd8 49px,#19e2bb 56px,#25eca7 63px,#3ff68a 70px,#5dfc6f 76px,#88ff4e 82px,#affa37 89px,#d9e436 99px,#efcd3a 111px,#fcb136 132px,#fe932a 158px,#ef5811 199px,#e14109 221px,#d02f05 254px,#c12302 311px,#b21a01 420px,#980e01 653px,#950d01 676px)"></i>
<i style="height:2px;background:linear-gradient(90deg,#33184a 0px,#33184a 16px,#3a2d79 17px,#3f3b97 18px,#424bb5 20px,#476ee6 29px,#4687fb 35px,#3ba0fd 40px,#23c3e4 47px,#18dbc5 54px,#1fe9af 62px,#35f394 69px,#5dfc6f 77px,#92ff47 85px,#b1f936 91px,#d0ea34 98px,#e9d539 108px,#faba39 128px,#fe992c 158px,#f26014 196px,#e7490c 215px,#d63506 246px,#c52603 301px,#b41b01 417px,#9b0f01 645px,#950d01 676px)"></i>
<i style="height:2px;background:linear-gradient(90deg,#33184a 0px,#33184a 16px,#3f3b97 18px,#4143a7 19px,#434eba 21px,#4771e9 30px,#458afc 36px,#3aa3fc 41px,#22c5e2 48px,#18dbc5 56px,#20eaac 64px,#3cf58e 72px,#69fd66 80px,#9ffd3f 88px,#c3f134 96px,#e1dd37 106px,#f5c53a 123px,#fe9e2f 158px,#f46617 196px,#e84b0c 217px,#d83706 248px,#c82803 302px,#b71d02 419px,#9b0f01 660px,#980e01 676px)"></i>
<i style="height:2px;background:linear-gradient(90deg,#33184a 0px,#33184a 16px,#392a73 17px,#3e3891 18px,#4143a7 19px,#4454c3 23px,#4773eb 31px,#458cfd 37px,#38a5fb 42px,#27bee9 47px,#18d7ca 55px,#1de7b2 64px,#43f787 75px,#71fe5f 82px,#9ffd3f 89px,#c1f334 97px,#dde037 106px,#f4c73a 125px,#fea130 161px,#f46617 200px,#e84b0c 221px,#da3907 251px,#ca2a04 305px,#b71d02 438px,#9b0f01 676px)"></i>
<i style="height:2px;background:linear-gradient(90deg,#33184a 0px,#33184a 16px,#392a73 17px,#3e3891 18px,#4143a7 19px,#424bb5 21px,#4669e0 29px,#458cfd 37px,#3aa3fc 42px,#27bee9 48px,#19d5cd 56px,#1ce6b4 64px,#32f298 72px,#4ef97d 78px,#92ff47 88px,#b4f836 95px,#d2e935 104px,#ebd339 118px,#fbb637 147px,#fe992c 171px,#f46617 203px,#e84b0c 226px,#da3907 258px,#ca2a04 322px,#b71d02 462px,#9b0f01 676px)"></i>
<i style="height:2px;background:linear-gradient(90deg,#33184a 0px,#33184a 16px,#392a73 17px,#3e3891 18px,#4040a2 19px,#424bb5 21px,#4664da 28px,#4685fa 36px,#3e9bfe 41px,#28bceb 48px,#19d5cd 57px,#1ae4b6 65px,#32f298 74px,#59fb73 81px,#92ff47 89px,#affa37 95px,#cdec34 104px,#e1dd37 114px,#f5c53a 136px,#fea933 163px,#f8721c 199px,#ed5510 220px,#e14109 247px,#d23105 293px,#be2102 420px,#a11201 667px,#9e1001 676px)"></i>
<i style="height:2px;background:linear-gradient(90deg,#33184a 0px,#33184a 16px,#392a73 17px,#3e3891 18px,#4040a2 19px,#4451bf 23px,#477bf2 34px,#4294ff 40px,#2eb4f2 47px,#1bd0d5 55px,#18e0bd 64px,#2aefa1 73px,#46f884 79px,#75fe5c 86px,#9cfe40 92px,#bcf534 100px,#d9e436 112px,#ecd13a 128px,#fcb136 161px,#fe9029 185px,#f46617 211px,#e84b0c 236px,#dc3b07 270px,#cc2b04 342px,#b41b01 532px,#a11201 676px)"></i>
<i style="height:2px;background:linear-gradient(90deg,#33184a 0px,#33184a 16px,#392a73 17px,#3e3891 18px,#4040a2 19px,#4249b1 21px,#4661d6 28px,#4685fa 37px,#3e9bfe 42px,#2eb4f2 48px,#1bd0d5 57px,#19e2bb 66px,#2aefa1 74px,#3ff68a 79px,#88ff4e 90px,#a4fc3c 95px,#c6f034 105px,#dfdf37 119px,#f6c33a 148px,#fea431 176px,#f66c19 211px,#ed5510 230px,#e2430a 257px,#d63506 305px,#c32503 426px,#a41301 676px)"></i>
<i style="height:2px;background:linear-gradient(90deg,#33184a 0px,#33184a 16px,#392a73 17px,#3e3891 18px,#4040a2 19px,#434eba 23px,#455ccf 27px,#477bf2 35px,#4294ff 41px,#2fb2f4 48px,#1ecbda 56px,#18ddc2 65px,#22ebaa 73px,#38f491 79px,#6dfe62 87px,#99fe42 94px,#b4f836 101px,#d0ea34 112px,#e9d539 133px,#fcb136 169px,#fe9029 192px,#f15d13 226px,#e5470b 256px,#d83706 308px,#c32503 449px,#a71401 676px)"></i>
<i style="height:2px;background:linear-gradient(90deg,#33184a 0px,#33184a 16px,#392a73 17px,#3d358b 18px,#3f3e9c 19px,#424bb5 22px,#4773eb 34px,#458afc 39px,#3aa3fc 45px,#22c5e2 55px,#18dec0 67px,#25eca7 75px,#38f491 80px,#65fd69 87px,#92ff47 94px,#acfb38 100px,#c8ef34 111px,#e3db38 131px,#fbb637 170px,#fe932a 194px,#f36315 227px,#e84b0c 255px,#dd3d08 298px,#ce2d04 390px,#a91601 676px)"></i>
<i style="height:2px;background:linear-gradient(90deg,#33184a 0px,#33184a 16px,#392a73 17px,#3d358b 18px,#3f3e9c 19px,#4146ac 21px,#434eba 24px,#4456c7 26px,#477bf2 36px,#4294ff 42px,#2fb2f4 50px,#1fc9dd 58px,#19e2bb 70px,#2aefa1 78px,#43f787 83px,#79fe59 91px,#9ffd3f 98px,#bef434 109px,#d9e436 126px,#f4c73a 158px,#fdac34 182px,#f8721c 221px,#f26014 235px,#ea4e0d 259px,#df3f08 304px,#d02f05 398px,#af1801 664px,#ac1701 676px)"></i>
<i style="height:2px;background:linear-gradient(90deg,#33184a 0px,#33184a 16px,#392a73 17px,#3d358b 18px,#3f3e9c 19px,#4146ac 21px,#4454c3 26px,#455ed3 29px,#467df4 37px,#4196ff 43px,#2fb2f4 51px,#18d7ca 66px,#1fe9af 76px,#3cf58e 83px,#84ff51 94px,#a4fc3c 101px,#c1f334 113px,#dbe236 132px,#f7c13a 170px,#fea130 193px,#f76f1a 227px,#ec530f 258px,#e2430a 301px,#d43305 392px,#b91e02 608px,#af1801 676px)"></i>
<i style="height:2px;background:linear-gradient(90deg,#33184a 0px,#33184a 16px,#3d358b 18px,#3f3e9c 19px,#4143a7 21px,#424bb5 23px,#476ee6 34px,#458afc 41px,#3aa3fc 47px,#22c5e2 59px,#18dec0 71px,#20eaac 78px,#3cf58e 84px,#7dff56 94px,#a4fc3c 103px,#c3f134 118px,#e5d938 149px,#fbb637 183px,#fb8122 219px,#f56918 238px,#ed5510 263px,#e5470b 300px,#d83706 385px,#c12302 577px,#b21a01 676px)"></i>
<i style="height:2px;background:linear-gradient(90deg,#33184a 0px,#33184a 16px,#3d358b 18px,#4040a2 20px,#4451bf 26px,#4559cb 28px,#4778f0 37px,#4391fe 43px,#31aff5 52px,#1ecbda 64px,#18e0bd 74px,#27eea4 81px,#46f884 87px,#79fe59 95px,#96fe44 101px,#a9fb39 107px,#c3f134 122px,#e3db38 152px,#fbb637 187px,#fb8122 224px,#f56918 244px,#ed5510 273px,#e4450a 323px,#d23105 453px,#b71d02 676px)"></i>
<i style="height:2px;background:linear-gradient(90deg,#33184a 0px,#33184a 16px,#38276d 17px,#3c3286 18px,#3f3b97 19px,#4143a7 21px,#4666dd 33px,#4682f8 40px,#4099ff 46px,#2ab9ee 57px,#18dbc5 72px,#1de7b2 79px,#2ff19b 84px,#52fa7a 90px,#88ff4e 99px,#a9fb39 110px,#c8ef34 130px,#ebd339 166px,#fcb136 195px,#fb7e21 231px,#f36315 259px,#ec530f 291px,#e2430a 352px,#ce2d04 514px,#b91e02 676px)"></i>
<i style="height:2px;background:linear-gradient(90deg,#33184a 0px,#33184a 16px,#38276d 17px,#3c3286 18px,#3f3b97 19px,#424bb5 25px,#4454c3 27px,#4669e0 34px,#4687fb 42px,#3ba0fd 49px,#22c5e2 64px,#18ddc2 75px,#1fe9af 81px,#38f491 87px,#75fe5c 97px,#96fe44 105px,#a9fb39 113px,#d0ea34 142px,#efcd3a 176px,#fea933 205px,#fc8725 229px,#f76f1a 252px,#f26014 274px,#eb500e 313px,#e14109 389px,#ce2d04 546px,#bc2002 676px)"></i>
<i style="height:2px;background:linear-gradient(90deg,#33184a 0px,#33184a 16px,#38276d 17px,#3c3286 18px,#3f3b97 19px,#4664da 33px,#467df4 40px,#4294ff 46px,#31aff5 55px,#1ccdd8 69px,#19e3b9 79px,#2cf09e 86px,#4ef97d 92px,#65fd69 96px,#88ff4e 103px,#a1fd3d 112px,#bef434 132px,#e7d739 172px,#faba39 196px,#fd8a26 233px,#f9751d 253px,#f46617 274px,#ed5510 314px,#e4450a 386px,#d02f05 554px,#c12302 676px)"></i>
<i style="height:2px;background:linear-gradient(90deg,#33184a 0px,#33184a 16px,#38276d 17px,#3c3286 18px,#3f3e9c 20px,#455ed3 32px,#4680f6 41px,#4196ff 48px,#28bceb 63px,#18d7ca 75px,#1ce6b4 82px,#35f394 89px,#5dfc6f 96px,#84ff51 104px,#99fe42 111px,#b4f836 128px,#dde037 167px,#f7c13a 195px,#fe962b 229px,#fb8122 247px,#f76f1a 270px,#f15d13 307px,#ea4e0d 362px,#da3907 497px,#c32503 676px)"></i>
<i style="height:2px;background:linear-gradient(90deg,#33184a 0px,#33184a 16px,#38276d 17px,#3c3286 18px,#3e3891 19px,#4040a2 21px,#4143a7 23px,#4666dd 35px,#4685fa 43px,#3e9bfe 51px,#28bceb 64px,#18ddc2 79px,#20eaac 85px,#43f787 93px,#65fd69 99px,#75fe5c 103px,#7dff56 104px,#8bff4b 109px,#a4fc3c 121px,#c8ef34 151px,#e5d938 179px,#f9bc39 203px,#fd8d27 243px,#fa7b1f 262px,#f56918 294px,#ef5811 342px,#e5470b 423px,#d23105 597px,#c82803 676px)"></i>
<i style="height:2px;background:linear-gradient(90deg,#33184a 0px,#33184a 16px,#38276d 17px,#3e3891 19px,#4559cb 31px,#477bf2 41px,#4391fe 48px,#31aff5 60px,#19d5cd 77px,#1ce6b4 84px,#32f298 91px,#61fc6c 100px,#84ff51 109px,#9ffd3f 122px,#c1f334 150px,#e1dd37 180px,#f8be39 205px,#fe9029 245px,#fb7e21 268px,#f66c19 303px,#f15d13 343px,#e84b0c 422px,#d83706 577px,#cc2b04 676px)"></i>
<i style="height:2px;background:linear-gradient(90deg,#33184a 0px,#33184a 16px,#38276d 17px,#3e3891 19px,#4143a7 23px,#4146ac 25px,#4664da 35px,#4687fb 45px,#3ba0fd 55px,#28bceb 67px,#18dbc5 81px,#1fe9af 87px,#3ff68a 95px,#61fc6c 102px,#79fe59 108px,#8fff49 117px,#a7fc3a 133px,#d0ea34 168px,#eecf3a 196px,#fdae35 224px,#fe9029 254px,#fb8122 275px,#f9751d 298px,#f46617 336px,#ef5811 388px,#e5470b 478px,#ce2d04 676px)"></i>
<i style="height:2px;background:linear-gradient(90deg,#33184a 0px,#33184a 16px,#3b2f80 18px,#3f3b97 20px,#4146ac 25px,#466be3 38px,#4687fb 46px,#3ba0fd 56px,#28bceb 68px,#1bd0d5 77px,#19e2bb 85px,#27eea4 91px,#46f884 98px,#6dfe62 107px,#84ff51 116px,#a1fd3d 134px,#c6f034 166px,#ebd339 197px,#fcb336 225px,#fe9029 263px,#fa7b1f 299px,#f56918 348px,#f05b12 401px,#e7490c 493px,#d23105 676px)"></i>
<i style="height:2px;background:linear-gradient(90deg,#33184a 0px,#33184a 16px,#3b2f80 18px,#3d358b 19px,#4146ac 25px,#4249b1 27px,#4666dd 37px,#4682f8 45px,#3e9bfe 55px,#2eb4f2 67px,#18d7ca 82px,#1ce6b4 88px,#35f394 96px,#5dfc6f 105px,#69fd66 109px,#80ff53 118px,#9cfe40 135px,#bef434 164px,#e1dd37 193px,#f7c13a 218px,#fe962b 262px,#fb7e21 309px,#f76f1a 350px,#f15d13 415px,#e84b0c 508px,#d63506 676px)"></i>
<i style="height:2px;background:linear-gradient(90deg,#33184a 0px,#33184a 16px,#3b2f80 18px,#3d358b 19px,#4040a2 23px,#4143a7 25px,#434eba 29px,#4451bf 31px,#4559cb 33px,#4778f0 43px,#448ffe 51px,#35abf8 64px,#1fc9dd 78px,#18dec0 86px,#25eca7 93px,#46f884 102px,#61fc6c 109px,#84ff51 124px,#9ffd3f 143px,#c6f034 175px,#ecd13a 208px,#fcb336 237px,#fe9b2d 267px,#fd8a26 299px,#fa7b1f 336px,#f76f1a 374px,#f26014 431px,#ea4e0d 524px,#da3907 676px)"></i>
<i style="height:2px;background:linear-gradient(90deg,#33184a 0px,#33184a 16px,#372466 17px,#3d358b 19px,#3f3b97 21px,#3f3e9c 23px,#4146ac 26px,#4249b1 28px,#4666dd 38px,#4682f8 47px,#4099ff 57px,#2eb4f2 70px,#1ad4d0 83px,#1ae4b6 90px,#38f491 100px,#55fa76 108px,#75fe5c 121px,#88ff4e 132px,#a7fc3a 156px,#cdec34 186px,#ebd339 211px,#fbb637 241px,#fe9b2d 279px,#fc8725 322px,#f9751d 377px,#f26014 458px,#eb500e 545px,#dd3d08 676px)"></i>
<i style="height:2px;background:linear-gradient(90deg,#33184a 0px,#33184a 16px,#372466 17px,#3a2d79 18px,#3e3891 20px,#3f3b97 22px,#4040a2 24px,#4143a7 26px,#424bb5 29px,#434eba 31px,#455ccf 35px,#467df4 46px,#4294ff 56px,#33adf7 68px,#22c5e2 79px,#18ddc2 88px,#25eca7 96px,#4af880 107px,#69fd66 120px,#80ff53 133px,#9ffd3f 155px,#c3f134 184px,#e5d938 210px,#f9bc39 241px,#fea431 277px,#fe9029 319px,#fb8122 362px,#f66c19 438px,#f05b12 517px,#e2430a 670px,#e14109 676px)"></i>
<i style="height:2px;background:linear-gradient(90deg,#33184a 0px,#33184a 16px,#372466 17px,#3a2d79 18px,#3c3286 19px,#3f3e9c 23px,#4040a2 25px,#4146ac 27px,#4249b1 29px,#476ee6 42px,#4682f8 49px,#4099ff 61px,#2eb4f2 73px,#1fc9dd 82px,#18dec0 90px,#22ebaa 97px,#3ff68a 106px,#59fb73 117px,#6dfe62 127px,#84ff51 141px,#acfb38 171px,#d7e535 203px,#efcd3a 228px,#fcb136 265px,#fe992c 316px,#fc8725 366px,#f9781e 420px,#f46617 493px,#ea4e0d 627px,#e4450a 676px)"></i>
<i style="height:2px;background:linear-gradient(90deg,#33184a 0px,#33184a 16px,#372466 17px,#3a2d79 18px,#3c3286 19px,#3f3b97 22px,#3f3e9c 24px,#4249b1 29px,#4451bf 33px,#4559cb 35px,#4778f0 46px,#4391fe 58px,#35abf8 70px,#25c0e7 80px,#18dbc5 90px,#1fe9af 97px,#3ff68a 109px,#69fd66 130px,#9cfe40 164px,#c1f334 191px,#e5d938 221px,#f8be39 252px,#fea130 313px,#fd8d27 371px,#f9751d 460px,#f36315 541px,#e84b0c 676px)"></i>
<i style="height:2px;background:linear-gradient(90deg,#33184a 0px,#33184a 16px,#372466 17px,#3a2d79 18px,#3c3286 19px,#3e3891 21px,#3f3b97 23px,#4146ac 28px,#4249b1 30px,#4771e9 44px,#458afc 55px,#3aa3fc 68px,#2eb4f2 77px,#1ccdd8 86px,#19e2bb 94px,#32f298 107px,#4ef97d 120px,#61fc6c 131px,#88ff4e 156px,#b1f936 184px,#dfdf37 220px,#f5c53a 252px,#fea933 310px,#fe962b 368px,#fb8122 443px,#f9751d 492px,#f46617 563px,#eb500e 676px)"></i>
<i style="height:2px;background:linear-gradient(90deg,#33184a 0px,#33184a 16px,#372466 17px,#3a2d79 18px,#3f3b97 23px,#3f3e9c 25px,#4249b1 30px,#424bb5 32px,#466be3 43px,#4685fa 54px,#3d9efe 68px,#2ab9ee 80px,#18d7ca 91px,#1de7b2 99px,#38f491 113px,#52fa7a 127px,#79fe59 152px,#a9fb39 184px,#d2e935 214px,#ecd13a 243px,#f9bc39 280px,#fea130 355px,#fd8a26 438px,#fa7b1f 499px,#f56918 584px,#ed5510 676px)"></i>
<i style="height:2px;background:linear-gradient(90deg,#33184a 0px,#33184a 16px,#372466 17px,#3b2f80 19px,#3e3891 22px,#3f3b97 24px,#4143a7 28px,#4146ac 30px,#4666dd 42px,#467df4 52px,#4196ff 65px,#31aff5 78px,#1ecbda 88px,#18e0bd 97px,#2cf09e 110px,#4af880 128px,#59fb73 138px,#6dfe62 151px,#a4fc3c 185px,#cbed34 213px,#e9d539 244px,#f8be39 288px,#fea130 381px,#fc8725 480px,#f9751d 563px,#f26014 664px,#f15d13 676px)"></i>
<i style="height:2px;background:linear-gradient(90deg,#33184a 0px,#33184a 16px,#392a73 18px,#3b2f80 19px,#3d358b 21px,#3e3891 23px,#4040a2 27px,#4143a7 29px,#4454c3 36px,#4773eb 48px,#458afc 60px,#3aa3fc 74px,#27bee9 84px,#18d9c8 95px,#20eaac 106px,#3cf58e 124px,#52fa7a 139px,#61fc6c 150px,#75fe5c 162px,#a1fd3d 188px,#c6f034 215px,#e1dd37 242px,#f2c93a 278px,#fdae35 358px,#fd8d27 488px,#fb7e21 557px,#f56918 657px,#f36315 676px)"></i>
<i style="height:2px;background:linear-gradient(90deg,#33184a 0px,#33184a 16px,#392a73 18px,#3b2f80 19px,#3c3286 20px,#3d358b 22px,#3f3e9c 26px,#4040a2 28px,#434eba 34px,#466be3 45px,#4682f8 57px,#3e9bfe 72px,#2fb2f4 81px,#1ecbda 91px,#19e2bb 101px,#2ff19b 121px,#4af880 140px,#59fb73 151px,#6dfe62 163px,#7dff56 172px,#a1fd3d 193px,#c6f034 220px,#e1dd37 250px,#f2c93a 292px,#fdac34 392px,#fd8d27 524px,#f76f1a 666px,#f66c19 676px)"></i>
<i style="height:2px;background:linear-gradient(90deg,#33184a 0px,#33184a 16px,#392a73 18px,#3d358b 22px,#3e3891 24px,#4040a2 29px,#4146ac 31px,#4249b1 33px,#4669e0 45px,#4682f8 59px,#3e9bfe 73px,#2eb4f2 84px,#1ad2d2 95px,#19e2bb 104px,#32f298 128px,#46f884 144px,#5dfc6f 160px,#71fe5f 171px,#9ffd3f 196px,#c1f334 222px,#dde037 252px,#efcd3a 297px,#fcb336 392px,#fe9029 547px,#f9751d 676px)"></i>
<i style="height:2px;background:linear-gradient(90deg,#33184a 0px,#33184a 16px,#392a73 18px,#3c3286 21px,#3d358b 23px,#3f3e9c 28px,#4249b1 33px,#4669e0 46px,#4680f6 59px,#4099ff 74px,#2cb7f0 86px,#18d7ca 99px,#1ce6b4 111px,#32f298 134px,#4ef97d 156px,#65fd69 170px,#9ffd3f 201px,#c1f334 229px,#dbe236 258px,#efcd3a 314px,#fcb136 429px,#fb7e21 672px,#fa7b1f 676px)"></i>
<i style="height:2px;background:linear-gradient(90deg,#33184a 0px,#33184a 16px,#392a73 18px,#3c3286 21px,#3f3b97 27px,#4143a7 31px,#4146ac 33px,#4451bf 37px,#4456c7 40px,#4669e0 47px,#4680f6 61px,#4099ff 75px,#2fb2f4 86px,#1ad2d2 98px,#19e3b9 111px,#2cf09e 135px,#46f884 157px,#61fc6c 174px,#92ff47 199px,#b7f735 225px,#d4e735 259px,#e7d739 301px,#f7c13a 389px,#fe962b 585px,#fc8423 676px)"></i>
<i style="height:2px;background:linear-gradient(90deg,#33184a 0px,#33184a 16px,#36215f 17px,#3a2d79 19px,#3b2f80 20px,#3b2f80 21px,#3c3286 22px,#3d358b 24px,#4040a2 31px,#4249b1 34px,#424bb5 36px,#455ccf 42px,#4773eb 54px,#4391fe 73px,#35abf8 84px,#20c7df 95px,#18ddc2 108px,#22ebaa 131px,#3ff68a 158px,#59fb73 175px,#8fff49 202px,#b1f936 227px,#cdec34 258px,#e1dd37 302px,#f2c93a 379px,#fea933 539px,#fd8d27 676px)"></i>
<i style="height:2px;background:linear-gradient(90deg,#33184a 0px,#33184a 16px,#36215f 17px,#3a2d79 19px,#3b2f80 20px,#3b2f80 21px,#3c3286 22px,#3f3e9c 30px,#4143a7 32px,#4146ac 34px,#424bb5 36px,#434eba 38px,#455ed3 44px,#4773eb 56px,#448ffe 74px,#37a8fa 85px,#1bd0d5 101px,#18e0bd 116px,#27eea4 143px,#3cf58e 162px,#52fa7a 176px,#61fc6c 184px,#80ff53 200px,#8bff4b 206px,#acfb38 229px,#c8ef34 262px,#dde037 308px,#eecf3a 380px,#fcb336 520px,#fe962b 676px)"></i>
<i style="height:2px;background:linear-gradient(90deg,#33184a 0px,#33184a 16px,#36215f 17px,#38276d 18px,#3b2f80 21px,#3b2f80 22px,#3c3286 23px,#3e3891 27px,#4040a2 32px,#4146ac 34px,#4249b1 36px,#434eba 38px,#4454c3 41px,#455ed3 45px,#4771e9 56px,#448ffe 75px,#37a8fa 86px,#1ad2d2 105px,#1ae4b6 128px,#2aefa1 152px,#43f787 173px,#52fa7a 181px,#92ff47 215px,#b1f936 242px,#c6f034 270px,#dbe236 321px,#eecf3a 408px,#fcb336 561px,#fe9e2f 676px)"></i>
<i style="height:2px;background:linear-gradient(90deg,#33184a 0px,#33184a 16px,#36215f 17px,#38276d 18px,#3b2f80 21px,#3b2f80 22px,#3c3286 23px,#3f3e9c 31px,#4249b1 36px,#424bb5 38px,#4454c3 41px,#4559cb 44px,#476ee6 55px,#4680f6 68px,#3e9bfe 83px,#28bceb 96px,#1ad2d2 108px,#19e2bb 129px,#25eca7 153px,#3cf58e 174px,#46f884 180px,#7dff56 209px,#92ff47 222px,#a9fb39 242px,#bef434 270px,#d4e735 320px,#e9d539 410px,#f9bc39 549px,#fea732 676px)"></i>
<i style="height:2px;background:linear-gradient(90deg,#33184a 0px,#33184a 16px,#36215f 17px,#38276d 18px,#3a2d79 20px,#3a2d79 21px,#3b2f80 22px,#3b2f80 23px,#3c3286 24px,#3f3b97 30px,#4143a7 34px,#4146ac 36px,#424bb5 38px,#434eba 40px,#4456c7 43px,#476ee6 57px,#458afc 76px,#3aa3fc 87px,#22c5e2 102px,#18dbc5 124px,#20eaac 154px,#35f394 175px,#59fb73 196px,#7dff56 215px,#96fe44 231px,#a9fb39 251px,#bcf534 279px,#d2e935 336px,#e7d739 430px,#f8be39 576px,#fdae35 676px)"></i>
<i style="height:2px;background:linear-gradient(90deg,#33184a 0px,#33184a 16px,#351e58 17px,#38276d 18px,#3a2d79 20px,#3a2d79 21px,#3b2f80 22px,#3b2f80 24px,#3c3286 25px,#3e3891 29px,#4040a2 33px,#4143a7 35px,#434eba 40px,#4454c3 43px,#455ccf 47px,#466be3 57px,#458afc 78px,#3aa3fc 89px,#23c3e4 103px,#18d9c8 127px,#1fe9af 158px,#2ff19b 176px,#4ef97d 196px,#69fd66 210px,#79fe59 219px,#92ff47 236px,#a4fc3c 254px,#b7f735 285px,#cbed34 336px,#e1dd37 432px,#f4c73a 564px,#fbb637 676px)"></i>
<i style="height:2px;background:linear-gradient(90deg,#33184a 0px,#33184a 16px,#392a73 19px,#392a73 20px,#3a2d79 21px,#3a2d79 22px,#3b2f80 23px,#3b2f80 24px,#3c3286 25px,#3f3e9c 33px,#4146ac 37px,#4249b1 39px,#4451bf 42px,#4666dd 55px,#4687fb 78px,#3ba0fd 89px,#27bee9 103px,#1ad2d2 122px,#1ae4b6 156px,#27eea4 175px,#3ff68a 193px,#52fa7a 203px,#69fd66 216px,#7dff56 228px,#8fff49 241px,#a1fd3d 261px,#b7f735 302px,#cbed34 363px,#e3db38 476px,#f7c13a 649px,#f9bc39 676px)"></i>
<i style="height:2px;background:linear-gradient(90deg,#33184a 0px,#33184a 16px,#372466 18px,#3a2d79 21px,#3a2d79 22px,#3b2f80 23px,#3b2f80 25px,#3c3286 26px,#3f3b97 32px,#4143a7 36px,#4146ac 38px,#4451bf 43px,#4664da 55px,#4682f8 77px,#3e9bfe 89px,#28bceb 104px,#1ad4d0 131px,#1ae4b6 163px,#2aefa1 183px,#4af880 205px,#55fa76 211px,#6dfe62 225px,#80ff53 238px,#96fe44 257px,#a4fc3c 279px,#b9f635 330px,#cdec34 403px,#e3db38 515px,#f6c33a 676px)"></i>
<i style="height:2px;background:linear-gradient(90deg,#33184a 0px,#33184a 16px,#372466 18px,#392a73 20px,#392a73 21px,#3a2d79 22px,#3a2d79 23px,#3b2f80 24px,#3b2f80 25px,#3c3286 26px,#3c3286 28px,#3f3b97 32px,#3f3e9c 34px,#4146ac 39px,#424bb5 41px,#434eba 43px,#4559cb 49px,#4661d6 55px,#4685fa 80px,#3d9efe 92px,#2cb7f0 104px,#1ecbda 125px,#19e2bb 163px,#25eca7 184px,#3cf58e 202px,#46f884 208px,#5dfc6f 222px,#71fe5f 235px,#80ff53 247px,#8fff49 261px,#9cfe40 279px,#affa37 323px,#c6f034 403px,#dde037 518px,#f2c93a 676px)"></i>
<i style="height:2px;background:linear-gradient(90deg,#33184a 0px,#33184a 16px,#372466 18px,#392a73 20px,#392a73 21px,#3a2d79 22px,#3a2d79 24px,#3b2f80 25px,#3b2f80 26px,#3c3286 27px,#3f3e9c 35px,#4146ac 39px,#4249b1 41px,#4454c3 47px,#4559cb 51px,#4661d6 57px,#4680f6 79px,#4099ff 91px,#2cb7f0 107px,#1bd0d5 138px,#19e3b9 173px,#27eea4 192px,#3ff68a 210px,#5dfc6f 229px,#79fe59 250px,#8fff49 273px,#a1fd3d 310px,#b7f735 375px,#d2e935 494px,#ebd339 661px,#ecd13a 676px)"></i>
<i style="height:2px;background:linear-gradient(90deg,#33184a 0px,#33184a 16px,#372466 18px,#392a73 20px,#392a73 22px,#3a2d79 23px,#3a2d79 24px,#3b2f80 25px,#3b2f80 27px,#3c3286 28px,#3f3b97 34px,#4143a7 39px,#4454c3 48px,#4661d6 59px,#477bf2 78px,#4196ff 92px,#31aff5 105px,#20c7df 131px,#18e0bd 173px,#22ebaa 193px,#3cf58e 214px,#59fb73 234px,#71fe5f 253px,#7dff56 265px,#84ff51 274px,#92ff47 297px,#a1fd3d 332px,#b9f635 417px,#d2e935 536px,#e7d739 676px)"></i>
<i style="height:2px;background:linear-gradient(90deg,#33184a 0px,#33184a 16px,#372466 18px,#38276d 19px,#38276d 20px,#392a73 21px,#392a73 22px,#3a2d79 23px,#3a2d79 25px,#3b2f80 26px,#3b2f80 27px,#3c3286 28px,#3c3286 30px,#3f3b97 34px,#4040a2 38px,#4249b1 42px,#434eba 46px,#455ccf 56px,#477bf2 80px,#4294ff 92px,#31aff5 108px,#1ecbda 146px,#19e2bb 182px,#27eea4 204px,#3ff68a 223px,#5dfc6f 246px,#69fd66 256px,#75fe5c 269px,#7dff56 280px,#84ff51 291px,#8bff4b 304px,#92ff47 318px,#9ffd3f 350px,#b7f735 442px,#cbed34 540px,#e1dd37 676px)"></i>
<i style="height:2px;background:linear-gradient(90deg,#33184a 0px,#33184a 16px,#372466 18px,#38276d 19px,#38276d 20px,#392a73 21px,#392a73 23px,#3a2d79 24px,#3a2d79 26px,#3b2f80 27px,#3b2f80 28px,#3c3286 29px,#4040a2 39px,#4249b1 43px,#455ccf 58px,#4778f0 80px,#4294ff 94px,#35abf8 108px,#25c0e7 135px,#19d5cd 170px,#1ce6b4 196px,#32f298 220px,#55fa76 249px,#69fd66 269px,#75fe5c 285px,#80ff53 303px,#8bff4b 326px,#96fe44 351px,#a4fc3c 400px,#bef434 516px,#dbe236 676px)"></i>
<i style="height:2px;background:linear-gradient(90deg,#33184a 0px,#33184a 16px,#351e58 17px,#38276d 20px,#38276d 21px,#392a73 22px,#392a73 24px,#3a2d79 25px,#3a2d79 26px,#3b2f80 27px,#3b2f80 29px,#3c3286 30px,#3f3e9c 38px,#4146ac 43px,#4456c7 55px,#4778f0 82px,#4391fe 95px,#38a5fb 108px,#28bceb 135px,#1ad2d2 171px,#1ae4b6 199px,#2cf09e 222px,#46f884 245px,#55fa76 259px,#61fc6c 275px,#65fd69 279px,#6dfe62 291px,#75fe5c 303px,#79fe59 312px,#7dff56 316px,#7dff56 320px,#80ff53 324px,#84ff51 335px,#88ff4e 340px,#99fe42 391px,#affa37 482px,#cbed34 633px,#d2e935 676px)"></i>
<i style="height:2px;background:linear-gradient(90deg,#33184a 0px,#33184a 16px,#351e58 17px,#38276d 20px,#38276d 21px,#392a73 22px,#392a73 24px,#3a2d79 25px,#3a2d79 27px,#3b2f80 28px,#3b2f80 30px,#3c3286 31px,#3f3b97 37px,#4143a7 42px,#424bb5 48px,#4456c7 57px,#4771e9 79px,#448ffe 95px,#37a8fa 115px,#23c3e4 154px,#18d7ca 185px,#1de7b2 211px,#35f394 238px,#4ef97d 263px,#55fa76 274px,#5dfc6f 285px,#65fd69 297px,#69fd66 305px,#6dfe62 309px,#71fe5f 320px,#75fe5c 324px,#75fe5c 328px,#79fe59 332px,#79fe59 336px,#7dff56 340px,#7dff56 345px,#80ff53 349px,#80ff53 354px,#84ff51 359px,#88ff4e 373px,#8bff4b 379px,#9ffd3f 449px,#b7f735 566px,#cbed34 676px)"></i>
<i style="height:2px;background:linear-gradient(90deg,#33184a 0px,#33184a 16px,#351e58 17px,#38276d 20px,#38276d 22px,#392a73 23px,#392a73 25px,#3a2d79 26px,#3a2d79 28px,#3b2f80 29px,#3b2f80 30px,#3c3286 31px,#4143a7 43px,#4249b1 47px,#4454c3 56px,#455ed3 67px,#4778f0 85px,#4391fe 99px,#38a5fb 117px,#23c3e4 162px,#18ddc2 199px,#20eaac 223px,#38f491 251px,#3ff68a 259px,#4ef97d 279px,#55fa76 292px,#59fb73 296px,#5dfc6f 305px,#61fc6c 309px,#61fc6c 313px,#65fd69 317px,#69fd66 328px,#6dfe62 332px,#6dfe62 337px,#71fe5f 341px,#71fe5f 346px,#75fe5c 350px,#75fe5c 355px,#79fe59 359px,#79fe59 365px,#7dff56 369px,#7dff56 375px,#80ff53 379px,#80ff53 385px,#84ff51 390px,#84ff51 396px,#88ff4e 401px,#88ff4e 407px,#8bff4b 413px,#9ffd3f 487px,#bef434 651px,#c1f334 676px)"></i>
<i style="height:2px;background:linear-gradient(90deg,#33184a 0px,#33184a 16px,#351e58 17px,#372466 19px,#372466 20px,#38276d 21px,#38276d 23px,#392a73 24px,#392a73 26px,#3a2d79 27px,#3a2d79 29px,#3b2f80 30px,#3b2f80 31px,#3c3286 32px,#4143a7 44px,#4146ac 46px,#434eba 53px,#4456c7 62px,#4661d6 71px,#4778f0 87px,#4391fe 101px,#37a8fa 126px,#25c0e7 166px,#18ddc2 204px,#20eaac 231px,#35f394 258px,#3ff68a 273px,#4af880 290px,#52fa7a 304px,#55fa76 313px,#59fb73 317px,#5dfc6f 329px,#61fc6c 333px,#61fc6c 337px,#65fd69 341px,#65fd69 346px,#69fd66 350px,#69fd66 356px,#6dfe62 360px,#6dfe62 366px,#71fe5f 370px,#71fe5f 376px,#75fe5c 380px,#75fe5c 386px,#79fe59 390px,#79fe59 397px,#7dff56 401px,#7dff56 408px,#80ff53 412px,#80ff53 420px,#84ff51 425px,#84ff51 431px,#88ff4e 436px,#88ff4e 443px,#8bff4b 449px,#8fff49 467px,#92ff47 475px,#a4fc3c 560px,#b9f635 676px)"></i>
<i style="height:2px;background:linear-gradient(90deg,#33184a 0px,#33184a 16px,#351e58 17px,#372466 19px,#372466 20px,#38276d 21px,#38276d 23px,#392a73 24px,#392a73 26px,#3a2d79 27px,#3a2d79 29px,#3b2f80 30px,#3b2f80 32px,#3c3286 33px,#4249b1 50px,#434eba 55px,#4456c7 64px,#4661d6 73px,#4776ee 87px,#448ffe 102px,#3aa3fc 126px,#27bee9 170px,#18d9c8 207px,#1fe9af 236px,#2ff19b 262px,#43f787 297px,#4af880 312px,#4ef97d 321px,#52fa7a 325px,#52fa7a 329px,#55fa76 333px,#55fa76 338px,#59fb73 342px,#59fb73 347px,#5dfc6f 351px,#5dfc6f 356px,#61fc6c 360px,#61fc6c 367px,#65fd69 371px,#65fd69 377px,#69fd66 381px,#69fd66 388px,#6dfe62 392px,#6dfe62 399px,#71fe5f 403px,#71fe5f 410px,#75fe5c 414px,#75fe5c 422px,#79fe59 426px,#79fe59 433px,#7dff56 437px,#7dff56 445px,#80ff53 449px,#80ff53 457px,#84ff51 462px,#84ff51 469px,#88ff4e 474px,#88ff4e 482px,#8bff4b 488px,#8bff4b 495px,#8fff49 502px,#a1fd3d 595px,#b1f936 676px)"></i>
<i style="height:2px;background:linear-gradient(90deg,#33184a 0px,#33184a 16px,#341b51 17px,#36215f 18px,#372466 19px,#372466 21px,#38276d 22px,#38276d 24px,#392a73 25px,#392a73 27px,#3a2d79 28px,#3a2d79 30px,#3b2f80 31px,#3b2f80 32px,#3c3286 33px,#3c3286 35px,#3f3b97 40px,#4146ac 49px,#424bb5 54px,#4456c7 66px,#4771e9 86px,#458afc 101px,#3d9efe 125px,#2ab9ee 170px,#18d9c8 212px,#1fe9af 245px,#2ff19b 277px,#43f787 319px,#46f884 329px,#4af880 334px,#4af880 338px,#4ef97d 342px,#4ef97d 347px,#52fa7a 351px,#52fa7a 357px,#55fa76 361px,#55fa76 367px,#59fb73 371px,#59fb73 378px,#5dfc6f 382px,#5dfc6f 389px,#61fc6c 393px,#61fc6c 400px,#65fd69 404px,#65fd69 412px,#69fd66 416px,#69fd66 423px,#6dfe62 427px,#6dfe62 435px,#71fe5f 439px,#71fe5f 447px,#75fe5c 451px,#75fe5c 459px,#79fe59 463px,#79fe59 472px,#7dff56 476px,#7dff56 485px,#80ff53 489px,#80ff53 498px,#84ff51 503px,#84ff51 512px,#88ff4e 517px,#88ff4e 526px,#8bff4b 532px,#8bff4b 541px,#8fff49 548px,#8fff49 556px,#92ff47 564px,#a7fc3a 676px)"></i>
<i style="height:2px;background:linear-gradient(90deg,#33184a 0px,#33184a 16px,#341b51 17px,#36215f 18px,#36215f 19px,#372466 20px,#372466 21px,#38276d 22px,#38276d 25px,#392a73 26px,#392a73 28px,#3a2d79 29px,#3a2d79 31px,#3b2f80 32px,#3b2f80 33px,#3c3286 34px,#3d358b 38px,#4040a2 45px,#4146ac 51px,#4249b1 53px,#4456c7 68px,#476ee6 86px,#4687fb 102px,#3e9bfe 128px,#2eb4f2 170px,#1ad2d2 209px,#19e3b9 240px,#2aefa1 282px,#3cf58e 327px,#43f787 347px,#46f884 352px,#46f884 357px,#4af880 362px,#4af880 368px,#4ef97d 372px,#4ef97d 379px,#52fa7a 383px,#52fa7a 390px,#55fa76 394px,#55fa76 401px,#59fb73 405px,#59fb73 413px,#5dfc6f 417px,#5dfc6f 425px,#61fc6c 429px,#61fc6c 437px,#65fd69 441px,#65fd69 449px,#69fd66 453px,#69fd66 462px,#6dfe62 466px,#6dfe62 475px,#71fe5f 479px,#71fe5f 488px,#75fe5c 492px,#75fe5c 502px,#79fe59 506px,#79fe59 516px,#7dff56 520px,#7dff56 530px,#80ff53 534px,#80ff53 545px,#84ff51 550px,#84ff51 560px,#88ff4e 565px,#88ff4e 575px,#8bff4b 581px,#8bff4b 590px,#8fff49 597px,#8fff49 606px,#92ff47 614px,#9ffd3f 676px)"></i>
<i style="height:2px;background:linear-gradient(90deg,#33184a 0px,#33184a 16px,#341b51 17px,#36215f 18px,#36215f 19px,#372466 20px,#372466 22px,#38276d 23px,#38276d 26px,#392a73 27px,#392a73 29px,#3a2d79 30px,#3a2d79 32px,#3b2f80 33px,#3b2f80 34px,#3c3286 35px,#3d358b 39px,#4040a2 46px,#4040a2 48px,#4146ac 52px,#4559cb 73px,#477bf2 96px,#458cfd 112px,#38a5fb 154px,#28bceb 187px,#18d7ca 224px,#1de7b2 264px,#2ff19b 319px,#38f491 347px,#3ff68a 368px,#43f787 374px,#43f787 379px,#46f884 384px,#46f884 391px,#4af880 396px,#4af880 402px,#4ef97d 406px,#4ef97d 414px,#52fa7a 418px,#52fa7a 427px,#55fa76 431px,#55fa76 439px,#59fb73 443px,#59fb73 451px,#5dfc6f 455px,#5dfc6f 464px,#61fc6c 468px,#61fc6c 477px,#65fd69 481px,#65fd69 491px,#69fd66 495px,#69fd66 505px,#6dfe62 509px,#6dfe62 519px,#71fe5f 523px,#71fe5f 534px,#75fe5c 538px,#75fe5c 549px,#79fe59 553px,#79fe59 564px,#7dff56 568px,#7dff56 580px,#80ff53 584px,#80ff53 595px,#84ff51 600px,#84ff51 611px,#88ff4e 616px,#88ff4e 627px,#8bff4b 633px,#8bff4b 643px,#8fff49 650px,#8fff49 659px,#92ff47 667px,#92ff47 676px)"></i>
<i style="height:2px;background:linear-gradient(90deg,#33184a 0px,#33184a 16px,#372466 20px,#372466 23px,#38276d 24px,#38276d 26px,#392a73 27px,#392a73 30px,#3a2d79 31px,#3a2d79 32px,#3b2f80 33px,#3b2f80 35px,#3c3286 36px,#3e3891 41px,#4040a2 48px,#4146ac 55px,#4249b1 57px,#455ed3 80px,#466be3 88px,#4682f8 104px,#4099ff 137px,#31aff5 177px,#1ad4d0 226px,#19e3b9 262px,#2ff19b 345px,#38f491 379px,#3ff68a 402px,#43f787 415px,#46f884 420px,#46f884 428px,#4af880 433px,#4af880 440px,#4ef97d 444px,#4ef97d 453px,#52fa7a 457px,#52fa7a 466px,#55fa76 470px,#55fa76 480px,#59fb73 484px,#59fb73 493px,#5dfc6f 497px,#5dfc6f 508px,#61fc6c 512px,#61fc6c 522px,#65fd69 526px,#65fd69 538px,#69fd66 542px,#69fd66 553px,#6dfe62 557px,#6dfe62 569px,#71fe5f 573px,#71fe5f 584px,#75fe5c 588px,#75fe5c 600px,#79fe59 604px,#79fe59 616px,#7dff56 620px,#7dff56 632px,#80ff53 636px,#80ff53 649px,#84ff51 654px,#84ff51 666px,#88ff4e 671px,#88ff4e 676px)"></i>
<i style="height:2px;background:linear-gradient(90deg,#33184a 0px,#33184a 16px,#36215f 19px,#36215f 20px,#372466 21px,#372466 23px,#38276d 24px,#38276d 27px,#392a73 28px,#392a73 30px,#3a2d79 31px,#3a2d79 33px,#3b2f80 34px,#3b2f80 36px,#3c3286 37px,#3f3b97 44px,#3f3e9c 48px,#4040a2 50px,#4146ac 55px,#4146ac 57px,#4249b1 59px,#4249b1 61px,#424bb5 63px,#4451bf 69px,#4661d6 83px,#4776ee 97px,#4687fb 116px,#3ba0fd 162px,#2ab9ee 197px,#1ad4d0 235px,#19e2bb 271px,#2cf09e 367px,#38f491 416px,#3cf58e 426px,#3ff68a 442px,#43f787 448px,#43f787 455px,#46f884 460px,#46f884 468px,#4af880 473px,#4af880 482px,#4ef97d 486px,#4ef97d 496px,#52fa7a 500px,#52fa7a 511px,#55fa76 515px,#55fa76 526px,#59fb73 530px,#59fb73 541px,#5dfc6f 545px,#5dfc6f 557px,#61fc6c 561px,#61fc6c 573px,#65fd69 577px,#65fd69 589px,#69fd66 593px,#69fd66 605px,#6dfe62 609px,#6dfe62 621px,#71fe5f 625px,#71fe5f 638px,#75fe5c 642px,#75fe5c 655px,#79fe59 659px,#79fe59 672px,#7dff56 676px)"></i>
<i style="height:2px;background:linear-gradient(90deg,#33184a 0px,#33184a 16px,#36215f 19px,#36215f 20px,#372466 21px,#372466 24px,#38276d 25px,#38276d 28px,#392a73 29px,#392a73 31px,#3a2d79 32px,#3a2d79 34px,#3b2f80 35px,#3b2f80 36px,#3c3286 37px,#3c3286 39px,#3e3891 43px,#3f3e9c 48px,#4040a2 52px,#4143a7 54px,#4143a7 56px,#4146ac 58px,#4249b1 63px,#424bb5 65px,#4456c7 77px,#455ccf 81px,#4776ee 99px,#4687fb 122px,#3ba0fd 170px,#2ab9ee 204px,#1ad2d2 241px,#18dec0 276px,#25eca7 368px,#38f491 456px,#3cf58e 466px,#3ff68a 484px,#43f787 490px,#43f787 498px,#46f884 503px,#46f884 513px,#4af880 518px,#4af880 529px,#4ef97d 533px,#4ef97d 545px,#52fa7a 549px,#52fa7a 561px,#55fa76 565px,#55fa76 577px,#59fb73 581px,#59fb73 593px,#5dfc6f 597px,#5dfc6f 610px,#61fc6c 614px,#61fc6c 626px,#65fd69 630px,#65fd69 643px,#69fd66 647px,#69fd66 661px,#6dfe62 665px,#6dfe62 676px)"></i>
<i style="height:2px;background:linear-gradient(90deg,#33184a 0px,#33184a 16px,#36215f 19px,#36215f 21px,#372466 22px,#372466 25px,#38276d 26px,#38276d 29px,#392a73 30px,#392a73 32px,#3a2d79 33px,#3a2d79 35px,#3b2f80 36px,#3b2f80 37px,#3c3286 38px,#3c3286 40px,#3e3891 44px,#3f3b97 48px,#3f3e9c 50px,#4040a2 54px,#4143a7 56px,#4143a7 58px,#4146ac 60px,#4146ac 62px,#4249b1 64px,#4456c7 79px,#476ee6 96px,#467df4 112px,#4391fe 150px,#35abf8 191px,#1fc9dd 235px,#18d9c8 274px,#1ae4b6 333px,#2ff19b 457px,#35f394 485px,#3cf58e 514px,#3ff68a 532px,#43f787 538px,#43f787 548px,#46f884 553px,#46f884 564px,#4af880 569px,#4af880 581px,#4ef97d 585px,#4ef97d 597px,#52fa7a 601px,#52fa7a 614px,#55fa76 618px,#55fa76 632px,#59fb73 636px,#59fb73 649px,#5dfc6f 653px,#5dfc6f 667px,#61fc6c 671px,#61fc6c 676px)"></i>
<i style="height:2px;background:linear-gradient(90deg,#33184a 0px,#33184a 16px,#36215f 19px,#36215f 21px,#372466 22px,#372466 26px,#38276d 27px,#38276d 30px,#392a73 31px,#392a73 33px,#3a2d79 34px,#3a2d79 35px,#3b2f80 36px,#3b2f80 38px,#3c3286 39px,#3c3286 41px,#3e3891 45px,#3f3b97 49px,#3f3e9c 51px,#4040a2 55px,#4143a7 59px,#4146ac 63px,#434eba 73px,#4456c7 81px,#476ee6 98px,#467df4 118px,#4294ff 163px,#33adf7 201px,#1fc9dd 245px,#18d7ca 286px,#19e3b9 352px,#2aefa1 472px,#32f298 517px,#38f491 550px,#3cf58e 568px,#3ff68a 575px,#3ff68a 584px,#43f787 590px,#43f787 602px,#46f884 607px,#46f884 619px,#4af880 624px,#4af880 636px,#4ef97d 640px,#4ef97d 654px,#52fa7a 658px,#52fa7a 673px,#55fa76 676px)"></i>
<i style="height:2px;background:linear-gradient(90deg,#33184a 0px,#33184a 16px,#36215f 19px,#36215f 22px,#372466 23px,#372466 27px,#38276d 28px,#38276d 30px,#392a73 31px,#392a73 33px,#3a2d79 34px,#3a2d79 36px,#3b2f80 37px,#3b2f80 39px,#3c3286 40px,#3c3286 42px,#3e3891 46px,#3e3891 48px,#3f3b97 50px,#3f3e9c 54px,#4040a2 56px,#4040a2 59px,#4143a7 61px,#4143a7 63px,#4146ac 65px,#4249b1 70px,#424bb5 72px,#4454c3 81px,#4669e0 97px,#4773eb 108px,#4685fa 140px,#3e9bfe 184px,#2cb7f0 223px,#1ecbda 263px,#18d9c8 318px,#1ae4b6 401px,#2cf09e 536px,#32f298 570px,#38f491 605px,#3cf58e 615px,#3cf58e 623px,#3ff68a 630px,#3ff68a 641px,#43f787 647px,#43f787 660px,#46f884 665px,#46f884 676px)"></i>
<i style="height:2px;background:linear-gradient(90deg,#33184a 0px,#33184a 16px,#351e58 18px,#351e58 19px,#36215f 20px,#36215f 23px,#372466 24px,#372466 27px,#38276d 28px,#38276d 31px,#392a73 32px,#392a73 34px,#3a2d79 35px,#3a2d79 37px,#3b2f80 38px,#3b2f80 40px,#3c3286 41px,#3c3286 43px,#3d358b 45px,#3e3891 49px,#3f3b97 51px,#3f3b97 53px,#3f3e9c 55px,#3f3e9c 57px,#4040a2 59px,#4040a2 61px,#4143a7 63px,#4143a7 65px,#4146ac 67px,#4249b1 72px,#424bb5 74px,#4454c3 83px,#4661d6 93px,#476ee6 105px,#467df4 133px,#4294ff 179px,#31aff5 220px,#22c5e2 260px,#1ad4d0 316px,#18e0bd 399px,#25eca7 538px,#32f298 627px,#35f394 640px,#38f491 665px,#3cf58e 675px,#3cf58e 676px)"></i>
<i style="height:2px;background:linear-gradient(90deg,#33184a 0px,#33184a 16px,#351e58 18px,#351e58 19px,#36215f 20px,#36215f 24px,#372466 25px,#372466 28px,#38276d 29px,#38276d 32px,#392a73 33px,#392a73 35px,#3a2d79 36px,#3a2d79 38px,#3b2f80 39px,#3b2f80 41px,#3c3286 42px,#3c3286 44px,#3d358b 46px,#3e3891 50px,#3f3b97 54px,#3f3e9c 58px,#3f3e9c 60px,#4040a2 62px,#4040a2 64px,#4143a7 66px,#4146ac 70px,#4249b1 75px,#424bb5 77px,#4451bf 82px,#455ccf 91px,#4669e0 103px,#4776ee 124px,#4391fe 182px,#35abf8 221px,#25c0e7 262px,#1ad2d2 334px,#18dec0 427px,#22ebaa 575px,#32f298 676px)"></i>
<i style="height:2px;background:linear-gradient(90deg,#33184a 0px,#33184a 16px,#351e58 18px,#351e58 20px,#36215f 21px,#36215f 25px,#372466 26px,#372466 29px,#38276d 30px,#38276d 33px,#392a73 34px,#392a73 36px,#3a2d79 37px,#3a2d79 39px,#3b2f80 40px,#3b2f80 42px,#3c3286 43px,#3c3286 45px,#3d358b 47px,#3d358b 49px,#3e3891 51px,#3e3891 53px,#3f3b97 55px,#3f3b97 58px,#3f3e9c 60px,#3f3e9c 62px,#4040a2 64px,#4040a2 66px,#4143a7 68px,#4143a7 70px,#4146ac 72px,#4146ac 74px,#4249b1 76px,#434eba 82px,#4559cb 91px,#4669e0 106px,#4778f0 138px,#4391fe 190px,#33adf7 235px,#27bee9 272px,#1bd0d5 354px,#18e0bd 484px,#25eca7 653px,#2aefa1 676px)"></i>
<i style="height:2px;background:linear-gradient(90deg,#33184a 0px,#33184a 16px,#351e58 18px,#351e58 20px,#36215f 21px,#36215f 25px,#372466 26px,#372466 30px,#38276d 31px,#38276d 34px,#392a73 35px,#392a73 37px,#3a2d79 38px,#3a2d79 40px,#3b2f80 41px,#3b2f80 43px,#3c3286 44px,#3c3286 47px,#3d358b 49px,#3d358b 51px,#3e3891 53px,#3e3891 55px,#3f3b97 57px,#3f3b97 60px,#3f3e9c 62px,#3f3e9c 64px,#4040a2 66px,#4040a2 68px,#4143a7 70px,#4143a7 72px,#4146ac 74px,#4146ac 76px,#4249b1 78px,#434eba 84px,#4559cb 93px,#4666dd 108px,#4771e9 129px,#458afc 185px,#3aa3fc 226px,#2eb4f2 262px,#22c5e2 324px,#18d7ca 453px,#19e3b9 576px,#20eaac 676px)"></i>
<i style="height:2px;background:linear-gradient(90deg,#33184a 0px,#33184a 16px,#341b51 17px,#341b51 18px,#351e58 19px,#351e58 21px,#36215f 22px,#36215f 26px,#372466 27px,#372466 31px,#38276d 32px,#38276d 35px,#392a73 36px,#392a73 38px,#3a2d79 39px,#3a2d79 41px,#3b2f80 42px,#3b2f80 45px,#3c3286 46px,#3c3286 49px,#3d358b 51px,#3d358b 53px,#3e3891 55px,#3e3891 58px,#3f3b97 60px,#3f3b97 63px,#3f3e9c 65px,#3f3e9c 67px,#4040a2 69px,#4040a2 71px,#4143a7 73px,#4143a7 75px,#4146ac 77px,#434eba 86px,#4456c7 93px,#4661d6 105px,#466be3 125px,#4685fa 184px,#3d9efe 224px,#2fb2f4 272px,#23c3e4 344px,#18d7ca 501px,#1ae4b6 657px,#1ce6b4 676px)"></i>
<i style="height:2px;background:linear-gradient(90deg,#33184a 0px,#33184a 16px,#341b51 17px,#341b51 18px,#351e58 19px,#351e58 22px,#36215f 23px,#36215f 27px,#372466 28px,#372466 32px,#38276d 33px,#38276d 35px,#392a73 36px,#392a73 39px,#3a2d79 40px,#3a2d79 42px,#3b2f80 43px,#3b2f80 46px,#3c3286 47px,#3c3286 50px,#3d358b 52px,#3d358b 55px,#3e3891 57px,#3e3891 60px,#3f3b97 62px,#3f3b97 65px,#3f3e9c 67px,#3f3e9c 69px,#4040a2 71px,#4040a2 74px,#4143a7 76px,#4146ac 80px,#424bb5 85px,#4451bf 91px,#4559cb 98px,#4661d6 110px,#466be3 132px,#4680f6 182px,#4196ff 222px,#35abf8 265px,#28bceb 339px,#1bd0d5 480px,#18dec0 638px,#19e2bb 676px)"></i>
<i style="height:2px;background:linear-gradient(90deg,#33184a 0px,#33184a 16px,#341b51 17px,#341b51 18px,#351e58 19px,#351e58 22px,#36215f 23px,#36215f 28px,#372466 29px,#372466 32px,#38276d 33px,#38276d 36px,#392a73 37px,#392a73 40px,#3a2d79 41px,#3a2d79 44px,#3b2f80 45px,#3b2f80 48px,#3c3286 49px,#3c3286 52px,#3d358b 54px,#3d358b 58px,#3e3891 60px,#3e3891 63px,#3f3b97 65px,#3f3b97 67px,#3f3e9c 69px,#3f3e9c 72px,#4040a2 74px,#4040a2 76px,#4143a7 78px,#4143a7 80px,#4146ac 82px,#424bb5 88px,#434eba 90px,#4559cb 101px,#4661d6 116px,#466be3 142px,#4680f6 190px,#4196ff 230px,#37a8fa 277px,#2ab9ee 358px,#1bd0d5 533px,#18ddc2 676px)"></i>
<i style="height:2px;background:linear-gradient(90deg,#33184a 0px,#33184a 16px,#341b51 17px,#341b51 18px,#351e58 19px,#351e58 23px,#36215f 24px,#36215f 29px,#372466 30px,#372466 33px,#38276d 34px,#38276d 38px,#392a73 39px,#392a73 41px,#3a2d79 42px,#3a2d79 45px,#3b2f80 46px,#3b2f80 50px,#3c3286 51px,#3c3286 54px,#3d358b 56px,#3d358b 60px,#3e3891 62px,#3e3891 65px,#3f3b97 67px,#3f3b97 70px,#3f3e9c 72px,#3f3e9c 75px,#4040a2 77px,#4040a2 79px,#4143a7 81px,#434eba 93px,#4456c7 101px,#455ed3 117px,#4664da 130px,#467df4 193px,#4294ff 235px,#3aa3fc 280px,#2fb2f4 352px,#1fc9dd 526px,#18d7ca 676px)"></i>
<i style="height:2px;background:linear-gradient(90deg,#33184a 0px,#33184a 17px,#351e58 19px,#351e58 24px,#36215f 25px,#36215f 30px,#372466 31px,#372466 34px,#38276d 35px,#38276d 39px,#392a73 40px,#392a73 42px,#3a2d79 43px,#3a2d79 47px,#3b2f80 48px,#3b2f80 51px,#3c3286 52px,#3c3286 57px,#3d358b 59px,#3d358b 63px,#3e3891 65px,#3e3891 68px,#3f3b97 70px,#3f3b97 73px,#3f3e9c 75px,#3f3e9c 77px,#4040a2 79px,#4040a2 81px,#4143a7 83px,#4454c3 101px,#4559cb 112px,#4661d6 131px,#4776ee 186px,#458cfd 231px,#3d9efe 280px,#31aff5 374px,#22c5e2 545px,#1ad2d2 676px)"></i>
<i style="height:2px;background:linear-gradient(90deg,#33184a 0px,#33184a 17px,#341b51 18px,#341b51 19px,#351e58 20px,#351e58 25px,#36215f 26px,#36215f 31px,#372466 32px,#372466 35px,#38276d 36px,#38276d 40px,#392a73 41px,#392a73 44px,#3a2d79 45px,#3a2d79 49px,#3b2f80 50px,#3b2f80 53px,#3c3286 54px,#3c3286 60px,#3d358b 62px,#3d358b 66px,#3e3891 68px,#3e3891 71px,#3f3b97 73px,#3f3b97 76px,#3f3e9c 78px,#3f3e9c 80px,#4040a2 82px,#4146ac 89px,#4249b1 91px,#4249b1 93px,#424bb5 95px,#4451bf 102px,#4456c7 111px,#4559cb 119px,#455ccf 123px,#4771e9 184px,#4687fb 230px,#4196ff 274px,#38a5fb 348px,#28bceb 517px,#1ecbda 676px)"></i>
<i style="height:2px;background:linear-gradient(90deg,#33184a 0px,#33184a 17px,#341b51 18px,#341b51 19px,#351e58 20px,#351e58 26px,#36215f 27px,#36215f 32px,#372466 33px,#372466 36px,#38276d 37px,#38276d 41px,#392a73 42px,#392a73 45px,#3a2d79 46px,#3a2d79 50px,#3b2f80 51px,#3b2f80 56px,#3c3286 57px,#3c3286 63px,#3d358b 65px,#3d358b 68px,#3e3891 70px,#3e3891 74px,#3f3b97 76px,#3f3b97 78px,#3f3e9c 80px,#3f3e9c 82px,#4040a2 84px,#4143a7 88px,#424bb5 98px,#4451bf 106px,#4454c3 112px,#4456c7 119px,#4559cb 126px,#455ccf 136px,#455ed3 141px,#4771e9 192px,#4685fa 235px,#4294ff 284px,#38a5fb 388px,#28bceb 577px,#22c5e2 676px)"></i>
<i style="height:2px;background:linear-gradient(90deg,#33184a 0px,#33184a 17px,#341b51 18px,#341b51 19px,#351e58 20px,#351e58 27px,#36215f 28px,#36215f 33px,#372466 34px,#372466 37px,#38276d 38px,#38276d 42px,#392a73 43px,#392a73 47px,#3a2d79 48px,#3a2d79 52px,#3b2f80 53px,#3b2f80 59px,#3c3286 60px,#3c3286 65px,#3d358b 67px,#3d358b 71px,#3e3891 73px,#3e3891 77px,#3f3b97 79px,#3f3b97 81px,#3f3e9c 83px,#4040a2 87px,#4146ac 94px,#424bb5 101px,#434eba 106px,#4451bf 112px,#4454c3 118px,#4456c7 128px,#4559cb 131px,#4559cb 137px,#455ccf 141px,#455ccf 146px,#455ed3 151px,#4773eb 206px,#4685fa 248px,#4391fe 299px,#3d9efe 378px,#2fb2f4 544px,#25c0e7 676px)"></i>
<i style="height:2px;background:linear-gradient(90deg,#33184a 0px,#33184a 17px,#341b51 18px,#341b51 20px,#351e58 21px,#351e58 28px,#36215f 29px,#36215f 33px,#372466 34px,#372466 39px,#38276d 40px,#38276d 43px,#392a73 44px,#392a73 49px,#3a2d79 50px,#3a2d79 55px,#3b2f80 56px,#3b2f80 62px,#3c3286 63px,#3c3286 68px,#3d358b 70px,#3d358b 74px,#3e3891 76px,#3e3891 79px,#3f3b97 81px,#3f3b97 83px,#3f3e9c 85px,#3f3e9c 87px,#4040a2 89px,#4143a7 93px,#4146ac 97px,#4249b1 102px,#424bb5 104px,#424bb5 107px,#434eba 109px,#434eba 113px,#4451bf 116px,#4451bf 121px,#4454c3 124px,#4454c3 129px,#4456c7 132px,#4456c7 138px,#4559cb 141px,#4559cb 148px,#455ccf 152px,#455ccf 157px,#455ed3 162px,#4778f0 227px,#4687fb 273px,#4196ff 364px,#35abf8 534px,#2ab9ee 676px)"></i>
<i style="height:2px;background:linear-gradient(90deg,#33184a 0px,#33184a 17px,#341b51 18px,#341b51 21px,#351e58 22px,#351e58 29px,#36215f 30px,#36215f 34px,#372466 35px,#372466 40px,#38276d 41px,#38276d 45px,#392a73 46px,#392a73 51px,#3a2d79 52px,#3a2d79 58px,#3b2f80 59px,#3b2f80 65px,#3c3286 66px,#3c3286 71px,#3d358b 73px,#3d358b 77px,#3e3891 79px,#3e3891 82px,#3f3b97 84px,#3f3e9c 88px,#4040a2 92px,#4143a7 96px,#4146ac 100px,#4249b1 105px,#424bb5 110px,#424bb5 113px,#434eba 115px,#434eba 121px,#4451bf 124px,#4451bf 130px,#4454c3 133px,#4454c3 139px,#4456c7 142px,#4456c7 149px,#4559cb 152px,#4559cb 159px,#455ccf 163px,#455ed3 175px,#4661d6 180px,#4776ee 231px,#4685fa 284px,#4196ff 406px,#33adf7 626px,#2fb2f4 676px)"></i>
<i style="height:2px;background:linear-gradient(90deg,#33184a 0px,#33184a 17px,#341b51 18px,#341b51 22px,#351e58 23px,#351e58 30px,#36215f 31px,#36215f 36px,#372466 37px,#372466 41px,#38276d 42px,#38276d 46px,#392a73 47px,#392a73 53px,#3a2d79 54px,#3a2d79 61px,#3b2f80 62px,#3b2f80 68px,#3c3286 69px,#3c3286 74px,#3d358b 76px,#3d358b 80px,#3e3891 82px,#3e3891 84px,#3f3b97 86px,#3f3b97 88px,#3f3e9c 90px,#3f3e9c 92px,#4040a2 94px,#4040a2 96px,#4143a7 98px,#4143a7 100px,#4146ac 102px,#4146ac 106px,#4249b1 108px,#4249b1 112px,#424bb5 114px,#424bb5 120px,#434eba 122px,#434eba 130px,#4451bf 133px,#4451bf 140px,#4454c3 143px,#4454c3 150px,#4456c7 153px,#4456c7 160px,#4559cb 163px,#4559cb 169px,#455ccf 173px,#4771e9 229px,#467df4 273px,#458afc 350px,#3d9efe 533px,#33adf7 676px)"></i>
<i style="height:2px;background:linear-gradient(90deg,#33184a 0px,#33184a 17px,#341b51 18px,#341b51 23px,#351e58 24px,#351e58 31px,#36215f 32px,#36215f 37px,#372466 38px,#372466 42px,#38276d 43px,#38276d 48px,#392a73 49px,#392a73 55px,#3a2d79 56px,#3a2d79 64px,#3b2f80 65px,#3b2f80 71px,#3c3286 72px,#3c3286 77px,#3d358b 79px,#3d358b 82px,#3e3891 84px,#3e3891 86px,#3f3b97 88px,#3f3b97 91px,#3f3e9c 93px,#3f3e9c 95px,#4040a2 97px,#4040a2 99px,#4143a7 101px,#4143a7 105px,#4146ac 107px,#4146ac 111px,#4249b1 113px,#4249b1 120px,#424bb5 122px,#424bb5 130px,#434eba 132px,#434eba 140px,#4451bf 143px,#4451bf 151px,#4454c3 154px,#4454c3 161px,#4456c7 164px,#4456c7 170px,#4559cb 173px,#4559cb 178px,#455ccf 182px,#476ee6 233px,#477bf2 281px,#458afc 394px,#3d9efe 600px,#38a5fb 676px)"></i>
<i style="height:2px;background:linear-gradient(90deg,#33184a 0px,#33184a 17px,#341b51 18px,#341b51 24px,#351e58 25px,#351e58 32px,#36215f 33px,#36215f 38px,#372466 39px,#372466 43px,#38276d 44px,#38276d 50px,#392a73 51px,#392a73 59px,#3a2d79 60px,#3a2d79 67px,#3b2f80 68px,#3b2f80 74px,#3c3286 75px,#3c3286 80px,#3d358b 82px,#3d358b 85px,#3e3891 87px,#3e3891 89px,#3f3b97 91px,#3f3b97 93px,#3f3e9c 95px,#3f3e9c 98px,#4040a2 100px,#4040a2 103px,#4143a7 105px,#4143a7 110px,#4146ac 112px,#4146ac 119px,#4249b1 121px,#4249b1 129px,#424bb5 131px,#424bb5 140px,#434eba 142px,#434eba 152px,#4451bf 155px,#4451bf 162px,#4454c3 165px,#4454c3 172px,#4456c7 175px,#4456c7 180px,#4559cb 183px,#4559cb 188px,#455ccf 192px,#4669e0 230px,#4773eb 267px,#4680f6 350px,#4294ff 553px,#3d9efe 676px)"></i>
<i style="height:2px;background:linear-gradient(90deg,#33184a 0px,#33184a 17px,#341b51 18px,#341b51 24px,#351e58 25px,#351e58 33px,#36215f 34px,#36215f 39px,#372466 40px,#372466 45px,#38276d 46px,#38276d 52px,#392a73 53px,#392a73 62px,#3a2d79 63px,#3a2d79 70px,#3b2f80 71px,#3b2f80 77px,#3c3286 78px,#3c3286 82px,#3d358b 84px,#3d358b 87px,#3e3891 89px,#3e3891 92px,#3f3b97 94px,#3f3b97 97px,#3f3e9c 99px,#3f3e9c 102px,#4040a2 104px,#4040a2 109px,#4143a7 111px,#4143a7 117px,#4146ac 119px,#4146ac 128px,#4249b1 130px,#4249b1 140px,#424bb5 142px,#424bb5 152px,#434eba 154px,#434eba 163px,#4451bf 166px,#4451bf 173px,#4454c3 176px,#4454c3 181px,#4456c7 184px,#4456c7 189px,#4559cb 192px,#4559cb 197px,#455ccf 201px,#4669e0 242px,#4773eb 289px,#4682f8 419px,#4099ff 674px,#4099ff 676px)"></i>
<i style="height:2px;background:linear-gradient(90deg,#33184a 0px,#33184a 17px,#341b51 18px,#341b51 25px,#351e58 26px,#351e58 34px,#36215f 35px,#36215f 40px,#372466 41px,#372466 47px,#38276d 48px,#38276d 55px,#392a73 56px,#392a73 65px,#3a2d79 66px,#3a2d79 73px,#3b2f80 74px,#3b2f80 80px,#3c3286 81px,#3c3286 85px,#3d358b 87px,#3d358b 90px,#3e3891 92px,#3e3891 95px,#3f3b97 97px,#3f3b97 100px,#3f3e9c 102px,#3f3e9c 107px,#4040a2 109px,#4040a2 116px,#4143a7 118px,#4143a7 127px,#4146ac 129px,#4146ac 139px,#4249b1 141px,#4249b1 152px,#424bb5 154px,#424bb5 163px,#434eba 165px,#434eba 174px,#4451bf 177px,#4451bf 182px,#4454c3 185px,#4454c3 191px,#4456c7 194px,#4456c7 199px,#4559cb 202px,#4559cb 207px,#455ccf 211px,#4666dd 248px,#466be3 273px,#4776ee 342px,#458afc 559px,#4294ff 676px)"></i>
<i style="height:2px;background:linear-gradient(90deg,#33184a 0px,#33184a 18px,#341b51 19px,#341b51 26px,#351e58 27px,#351e58 35px,#36215f 36px,#36215f 42px,#372466 43px,#372466 49px,#38276d 50px,#38276d 59px,#392a73 60px,#392a73 68px,#3a2d79 69px,#3a2d79 76px,#3b2f80 77px,#3b2f80 82px,#3c3286 83px,#3c3286 88px,#3d358b 90px,#3d358b 93px,#3e3891 95px,#3e3891 98px,#3f3b97 100px,#3f3b97 105px,#3f3e9c 107px,#3f3e9c 114px,#4040a2 116px,#4040a2 125px,#4143a7 127px,#4143a7 138px,#4146ac 140px,#4146ac 151px,#4249b1 153px,#4249b1 163px,#424bb5 165px,#424bb5 174px,#434eba 176px,#434eba 183px,#4451bf 186px,#4451bf 192px,#4454c3 195px,#4454c3 200px,#4456c7 203px,#4456c7 209px,#4559cb 212px,#4559cb 217px,#455ccf 221px,#455ccf 226px,#455ed3 231px,#4666dd 266px,#466be3 300px,#4776ee 389px,#458afc 631px,#458cfd 676px)"></i>
<i style="height:2px;background:linear-gradient(90deg,#33184a 0px,#33184a 18px,#341b51 19px,#341b51 27px,#351e58 28px,#351e58 36px,#36215f 37px,#36215f 43px,#372466 44px,#372466 51px,#38276d 52px,#38276d 62px,#392a73 63px,#392a73 71px,#3a2d79 72px,#3a2d79 79px,#3b2f80 80px,#3b2f80 85px,#3c3286 86px,#3c3286 91px,#3d358b 93px,#3d358b 96px,#3e3891 98px,#3e3891 103px,#3f3b97 105px,#3f3b97 111px,#3f3e9c 113px,#3f3e9c 122px,#4040a2 124px,#4040a2 136px,#4143a7 138px,#4143a7 150px,#4146ac 152px,#4146ac 163px,#4249b1 165px,#4249b1 174px,#424bb5 176px,#424bb5 184px,#434eba 186px,#434eba 193px,#4451bf 196px,#4451bf 202px,#4454c3 205px,#4454c3 211px,#4456c7 214px,#4456c7 220px,#4559cb 223px,#4559cb 229px,#455ccf 233px,#455ccf 238px,#455ed3 243px,#455ed3 249px,#4661d6 254px,#4661d6 261px,#4664da 268px,#476ee6 357px,#467df4 540px,#4687fb 676px)"></i>
<i style="height:2px;background:linear-gradient(90deg,#33184a 0px,#33184a 18px,#341b51 19px,#341b51 29px,#351e58 30px,#351e58 37px,#36215f 38px,#36215f 45px,#372466 46px,#372466 54px,#38276d 55px,#38276d 65px,#392a73 66px,#392a73 75px,#3a2d79 76px,#3a2d79 82px,#3b2f80 83px,#3b2f80 88px,#3c3286 89px,#3c3286 94px,#3d358b 96px,#3d358b 100px,#3e3891 102px,#3e3891 108px,#3f3b97 110px,#3f3b97 119px,#3f3e9c 121px,#3f3e9c 133px,#4040a2 135px,#4040a2 148px,#4143a7 150px,#4143a7 162px,#4146ac 164px,#4146ac 174px,#4249b1 176px,#4249b1 184px,#424bb5 186px,#424bb5 194px,#434eba 196px,#434eba 203px,#4451bf 206px,#4451bf 213px,#4454c3 216px,#4454c3 222px,#4456c7 225px,#4456c7 232px,#4559cb 235px,#4559cb 242px,#455ccf 246px,#455ccf 254px,#455ed3 259px,#455ed3 268px,#4661d6 273px,#4661d6 286px,#4664da 293px,#4664da 306px,#4666dd 316px,#4773eb 474px,#4682f8 676px)"></i>
<i style="height:2px;background:linear-gradient(90deg,#33184a 0px,#33184a 18px,#341b51 19px,#341b51 30px,#351e58 31px,#351e58 39px,#36215f 40px,#36215f 46px,#372466 47px,#372466 57px,#38276d 58px,#38276d 68px,#392a73 69px,#392a73 78px,#3a2d79 79px,#3a2d79 85px,#3b2f80 86px,#3b2f80 91px,#3c3286 92px,#3c3286 97px,#3d358b 99px,#3d358b 105px,#3e3891 107px,#3e3891 116px,#3f3b97 118px,#3f3b97 129px,#3f3e9c 131px,#3f3e9c 145px,#4040a2 147px,#4040a2 161px,#4143a7 163px,#4143a7 173px,#4146ac 175px,#4146ac 184px,#4249b1 186px,#4249b1 195px,#424bb5 197px,#424bb5 204px,#434eba 206px,#434eba 214px,#4451bf 217px,#4451bf 224px,#4454c3 227px,#4454c3 235px,#4456c7 238px,#4456c7 246px,#4559cb 249px,#4559cb 260px,#455ccf 264px,#455ccf 276px,#455ed3 281px,#455ed3 296px,#4661d6 301px,#4661d6 318px,#4664da 325px,#4664da 344px,#4666dd 354px,#4666dd 373px,#4669e0 391px,#4776ee 582px,#467df4 676px)"></i>
<i style="height:2px;background:linear-gradient(90deg,#33184a 0px,#33184a 19px,#341b51 20px,#341b51 31px,#351e58 32px,#351e58 40px,#36215f 41px,#36215f 49px,#372466 50px,#372466 61px,#38276d 62px,#38276d 72px,#392a73 73px,#392a73 81px,#3a2d79 82px,#3a2d79 88px,#3b2f80 89px,#3b2f80 94px,#3c3286 95px,#3c3286 102px,#3d358b 104px,#3d358b 112px,#3e3891 114px,#3e3891 125px,#3f3b97 127px,#3f3b97 142px,#3f3e9c 144px,#3f3e9c 158px,#4040a2 160px,#4040a2 172px,#4143a7 174px,#4143a7 184px,#4146ac 186px,#4146ac 195px,#4249b1 197px,#4249b1 205px,#424bb5 207px,#424bb5 216px,#434eba 218px,#434eba 226px,#4451bf 229px,#4451bf 238px,#4454c3 241px,#4454c3 250px,#4456c7 253px,#4456c7 265px,#4559cb 268px,#4559cb 284px,#455ccf 288px,#455ccf 306px,#455ed3 311px,#455ed3 332px,#4661d6 337px,#4661d6 361px,#4664da 368px,#4664da 393px,#4666dd 403px,#4666dd 427px,#4669e0 445px,#4778f0 676px)"></i>
<i style="height:2px;background:linear-gradient(90deg,#33184a 0px,#33184a 19px,#341b51 20px,#341b51 32px,#351e58 33px,#351e58 41px,#36215f 42px,#36215f 51px,#372466 52px,#372466 64px,#38276d 65px,#38276d 76px,#392a73 77px,#392a73 84px,#3a2d79 85px,#3a2d79 91px,#3b2f80 92px,#3b2f80 98px,#3c3286 99px,#3c3286 107px,#3d358b 109px,#3d358b 120px,#3e3891 122px,#3e3891 137px,#3f3b97 139px,#3f3b97 155px,#3f3e9c 157px,#3f3e9c 170px,#4040a2 172px,#4040a2 183px,#4143a7 185px,#4143a7 195px,#4146ac 197px,#4146ac 206px,#4249b1 208px,#4249b1 217px,#424bb5 219px,#424bb5 228px,#434eba 230px,#434eba 240px,#4451bf 243px,#4451bf 254px,#4454c3 257px,#4454c3 272px,#4456c7 275px,#4456c7 293px,#4559cb 296px,#4559cb 318px,#455ccf 322px,#455ccf 347px,#455ed3 352px,#455ed3 379px,#4661d6 384px,#4661d6 414px,#4664da 421px,#4664da 451px,#4666dd 461px,#4666dd 489px,#4669e0 507px,#4773eb 676px)"></i>
<i style="height:2px;background:linear-gradient(90deg,#33184a 0px,#33184a 20px,#341b51 21px,#341b51 33px,#351e58 34px,#351e58 43px,#36215f 44px,#36215f 54px,#372466 55px,#372466 68px,#38276d 69px,#38276d 79px,#392a73 80px,#392a73 87px,#3a2d79 88px,#3a2d79 94px,#3b2f80 95px,#3b2f80 103px,#3c3286 104px,#3c3286 115px,#3d358b 117px,#3d358b 132px,#3e3891 134px,#3e3891 151px,#3f3b97 153px,#3f3b97 168px,#3f3e9c 170px,#3f3e9c 182px,#4040a2 184px,#4040a2 194px,#4143a7 196px,#4143a7 206px,#4146ac 208px,#4146ac 217px,#4249b1 219px,#4249b1 230px,#424bb5 232px,#424bb5 243px,#434eba 245px,#434eba 258px,#4451bf 261px,#4451bf 278px,#4454c3 281px,#4454c3 302px,#4456c7 305px,#4456c7 330px,#4559cb 333px,#4559cb 362px,#455ccf 366px,#455ccf 398px,#455ed3 403px,#455ed3 436px,#4661d6 441px,#4661d6 476px,#4664da 483px,#4664da 519px,#4666dd 529px,#4666dd 564px,#4669e0 582px,#476ee6 676px)"></i>
<i style="height:2px;background:linear-gradient(90deg,#33184a 0px,#33184a 21px,#341b51 22px,#341b51 34px,#351e58 35px,#351e58 44px,#36215f 45px,#36215f 58px,#372466 59px,#372466 72px,#38276d 73px,#38276d 82px,#392a73 83px,#392a73 90px,#3a2d79 91px,#3a2d79 98px,#3b2f80 99px,#3b2f80 109px,#3c3286 110px,#3c3286 125px,#3d358b 127px,#3d358b 145px,#3e3891 147px,#3e3891 164px,#3f3b97 166px,#3f3b97 179px,#3f3e9c 181px,#3f3e9c 193px,#4040a2 195px,#4040a2 205px,#4143a7 207px,#4143a7 218px,#4146ac 220px,#4146ac 231px,#4249b1 233px,#4249b1 245px,#424bb5 247px,#424bb5 262px,#434eba 264px,#434eba 284px,#4451bf 287px,#4451bf 311px,#4454c3 314px,#4454c3 342px,#4456c7 345px,#4456c7 379px,#4559cb 382px,#4559cb 418px,#455ccf 422px,#455ccf 459px,#455ed3 464px,#455ed3 503px,#4661d6 508px,#4661d6 550px,#4664da 557px,#4664da 599px,#4666dd 609px,#4666dd 650px,#4669e0 668px,#4669e0 676px)"></i>
<i style="height:2px;background:linear-gradient(90deg,#33184a 0px,#33184a 22px,#341b51 23px,#341b51 36px,#351e58 37px,#351e58 46px,#36215f 47px,#36215f 62px,#372466 63px,#372466 76px,#38276d 77px,#38276d 85px,#392a73 86px,#392a73 94px,#3a2d79 95px,#3a2d79 103px,#3b2f80 104px,#3b2f80 118px,#3c3286 119px,#3c3286 138px,#3d358b 140px,#3d358b 159px,#3e3891 161px,#3e3891 176px,#3f3b97 178px,#3f3b97 191px,#3f3e9c 193px,#3f3e9c 204px,#4040a2 206px,#4040a2 217px,#4143a7 219px,#4143a7 231px,#4146ac 233px,#4146ac 247px,#4249b1 249px,#4249b1 266px,#424bb5 268px,#424bb5 290px,#434eba 292px,#434eba 320px,#4451bf 323px,#4451bf 355px,#4454c3 358px,#4454c3 395px,#4456c7 398px,#4456c7 438px,#4559cb 441px,#4559cb 483px,#455ccf 487px,#455ccf 532px,#455ed3 537px,#455ed3 583px,#4661d6 588px,#4661d6 636px,#4664da 643px,#4664da 676px)"></i>
<i style="height:2px;background:linear-gradient(90deg,#33184a 0px,#33184a 23px,#341b51 24px,#341b51 37px,#351e58 38px,#351e58 49px,#36215f 50px,#36215f 65px,#372466 66px,#372466 79px,#38276d 80px,#38276d 89px,#392a73 90px,#392a73 98px,#3a2d79 99px,#3a2d79 110px,#3b2f80 111px,#3b2f80 129px,#3c3286 130px,#3c3286 152px,#3d358b 154px,#3d358b 172px,#3e3891 174px,#3e3891 188px,#3f3b97 190px,#3f3b97 202px,#3f3e9c 204px,#3f3e9c 217px,#4040a2 219px,#4040a2 231px,#4143a7 233px,#4143a7 248px,#4146ac 250px,#4146ac 269px,#4249b1 271px,#4249b1 296px,#424bb5 298px,#424bb5 329px,#434eba 331px,#434eba 368px,#4451bf 371px,#4451bf 412px,#4454c3 415px,#4454c3 458px,#4456c7 461px,#4456c7 508px,#4559cb 511px,#4559cb 562px,#455ccf 566px,#455ccf 617px,#455ed3 622px,#455ed3 676px)"></i>
<i style="height:2px;background:linear-gradient(90deg,#33184a 0px,#33184a 24px,#341b51 25px,#341b51 39px,#351e58 40px,#351e58 52px,#36215f 53px,#36215f 69px,#372466 70px,#372466 83px,#38276d 84px,#38276d 92px,#392a73 93px,#392a73 103px,#3a2d79 104px,#3a2d79 120px,#3b2f80 121px,#3b2f80 143px,#3c3286 144px,#3c3286 166px,#3d358b 168px,#3d358b 184px,#3e3891 186px,#3e3891 200px,#3f3b97 202px,#3f3b97 215px,#3f3e9c 217px,#3f3e9c 231px,#4040a2 233px,#4040a2 249px,#4143a7 251px,#4143a7 271px,#4146ac 273px,#4146ac 301px,#4249b1 303px,#4249b1 337px,#424bb5 339px,#424bb5 381px,#434eba 383px,#434eba 429px,#4451bf 432px,#4451bf 479px,#4454c3 482px,#4454c3 534px,#4456c7 537px,#4456c7 592px,#4559cb 595px,#4559cb 653px,#455ccf 657px,#455ccf 676px)"></i>
<i style="height:2px;background:linear-gradient(90deg,#33184a 0px,#33184a 25px,#341b51 26px,#341b51 40px,#351e58 41px,#351e58 55px,#36215f 56px,#36215f 74px,#372466 75px,#372466 86px,#38276d 87px,#38276d 96px,#392a73 97px,#392a73 110px,#3a2d79 111px,#3a2d79 132px,#3b2f80 133px,#3b2f80 158px,#3c3286 159px,#3c3286 179px,#3d358b 181px,#3d358b 196px,#3e3891 198px,#3e3891 213px,#3f3b97 215px,#3f3b97 229px,#3f3e9c 231px,#3f3e9c 248px,#4040a2 250px,#4040a2 272px,#4143a7 274px,#4143a7 305px,#4146ac 307px,#4146ac 345px,#4249b1 347px,#4249b1 393px,#424bb5 395px,#424bb5 445px,#434eba 447px,#434eba 500px,#4451bf 503px,#4451bf 561px,#4454c3 564px,#4454c3 624px,#4456c7 627px,#4456c7 676px)"></i>
<i style="height:2px;background:linear-gradient(90deg,#33184a 0px,#33184a 26px,#341b51 27px,#341b51 42px,#351e58 43px,#351e58 59px,#36215f 60px,#36215f 78px,#372466 79px,#372466 89px,#38276d 90px,#38276d 101px,#392a73 102px,#392a73 120px,#3a2d79 121px,#3a2d79 147px,#3b2f80 148px,#3b2f80 172px,#3c3286 173px,#3c3286 192px,#3d358b 194px,#3d358b 209px,#3e3891 211px,#3e3891 227px,#3f3b97 229px,#3f3b97 247px,#3f3e9c 249px,#3f3e9c 273px,#4040a2 275px,#4040a2 308px,#4143a7 310px,#4143a7 352px,#4146ac 354px,#4146ac 404px,#4249b1 406px,#4249b1 460px,#424bb5 462px,#424bb5 521px,#434eba 523px,#434eba 587px,#4451bf 590px,#4451bf 656px,#4454c3 659px,#4454c3 676px)"></i>
<i style="height:2px;background:linear-gradient(90deg,#33184a 0px,#33184a 28px,#341b51 29px,#341b51 43px,#351e58 44px,#351e58 63px,#36215f 64px,#36215f 81px,#372466 82px,#372466 93px,#38276d 94px,#38276d 108px,#392a73 109px,#392a73 133px,#3a2d79 134px,#3a2d79 163px,#3b2f80 164px,#3b2f80 185px,#3c3286 186px,#3c3286 204px,#3d358b 206px,#3d358b 223px,#3e3891 225px,#3e3891 244px,#3f3b97 246px,#3f3b97 271px,#3f3e9c 273px,#3f3e9c 309px,#4040a2 311px,#4040a2 357px,#4143a7 359px,#4143a7 414px,#4146ac 416px,#4146ac 475px,#4249b1 477px,#4249b1 542px,#424bb5 544px,#424bb5 613px,#434eba 615px,#434eba 676px)"></i>
<i style="height:2px;background:linear-gradient(90deg,#33184a 0px,#33184a 29px,#341b51 30px,#341b51 45px,#351e58 46px,#351e58 68px,#36215f 69px,#36215f 85px,#372466 86px,#372466 98px,#38276d 99px,#38276d 118px,#392a73 119px,#392a73 149px,#3a2d79 150px,#3a2d79 177px,#3b2f80 178px,#3b2f80 198px,#3c3286 199px,#3c3286 219px,#3d358b 221px,#3d358b 241px,#3e3891 243px,#3e3891 268px,#3f3b97 270px,#3f3b97 308px,#3f3e9c 310px,#3f3e9c 360px,#4040a2 362px,#4040a2 422px,#4143a7 424px,#4143a7 488px,#4146ac 490px,#4146ac 561px,#4249b1 563px,#4249b1 639px,#424bb5 641px,#424bb5 676px)"></i>
<i style="height:2px;background:linear-gradient(90deg,#33184a 0px,#33184a 30px,#341b51 31px,#341b51 48px,#351e58 49px,#351e58 72px,#36215f 73px,#36215f 89px,#372466 90px,#372466 104px,#38276d 105px,#38276d 131px,#392a73 132px,#392a73 165px,#3a2d79 166px,#3a2d79 190px,#3b2f80 191px,#3b2f80 212px,#3c3286 213px,#3c3286 235px,#3d358b 237px,#3d358b 263px,#3e3891 265px,#3e3891 305px,#3f3b97 307px,#3f3b97 360px,#3f3e9c 362px,#3f3e9c 427px,#4040a2 429px,#4040a2 499px,#4143a7 501px,#4143a7 579px,#4146ac 581px,#4146ac 664px,#4249b1 666px,#4249b1 676px)"></i>
<i style="height:2px;background:linear-gradient(90deg,#33184a 0px,#33184a 32px,#341b51 33px,#341b51 51px,#351e58 52px,#351e58 77px,#36215f 78px,#36215f 93px,#372466 94px,#372466 113px,#38276d 114px,#38276d 148px,#392a73 149px,#392a73 180px,#3a2d79 181px,#3a2d79 204px,#3b2f80 205px,#3b2f80 228px,#3c3286 229px,#3c3286 257px,#3d358b 259px,#3d358b 299px,#3e3891 301px,#3e3891 358px,#3f3b97 360px,#3f3b97 429px,#3f3e9c 431px,#3f3e9c 508px,#4040a2 510px,#4040a2 595px,#4143a7 597px,#4143a7 676px)"></i>
<i style="height:2px;background:linear-gradient(90deg,#33184a 0px,#33184a 33px,#341b51 34px,#341b51 55px,#351e58 56px,#351e58 81px,#36215f 82px,#36215f 98px,#372466 99px,#372466 125px,#38276d 126px,#38276d 165px,#392a73 166px,#392a73 194px,#3a2d79 195px,#3a2d79 220px,#3b2f80 221px,#3b2f80 248px,#3c3286 249px,#3c3286 290px,#3d358b 292px,#3d358b 351px,#3e3891 353px,#3e3891 428px,#3f3b97 430px,#3f3b97 513px,#3f3e9c 515px,#3f3e9c 608px,#4040a2 610px,#4040a2 676px)"></i>
<i style="height:2px;background:linear-gradient(90deg,#33184a 0px,#33184a 35px,#341b51 36px,#341b51 60px,#351e58 61px,#351e58 85px,#36215f 86px,#36215f 104px,#372466 105px,#372466 142px,#38276d 143px,#38276d 180px,#392a73 181px,#392a73 209px,#3a2d79 210px,#3a2d79 238px,#3b2f80 239px,#3b2f80 278px,#3c3286 279px,#3c3286 340px,#3d358b 342px,#3d358b 422px,#3e3891 424px,#3e3891 513px,#3f3b97 515px,#3f3b97 617px,#3f3e9c 619px,#3f3e9c 676px)"></i>
<i style="height:2px;background:linear-gradient(90deg,#33184a 0px,#33184a 36px,#341b51 37px,#341b51 65px,#351e58 66px,#351e58 90px,#36215f 91px,#36215f 114px,#372466 115px,#372466 160px,#38276d 161px,#38276d 195px,#392a73 196px,#392a73 226px,#3a2d79 227px,#3a2d79 263px,#3b2f80 264px,#3b2f80 324px,#3c3286 325px,#3c3286 410px,#3d358b 412px,#3d358b 509px,#3e3891 511px,#3e3891 620px,#3f3b97 622px,#3f3b97 676px)"></i>
<i style="height:2px;background:linear-gradient(90deg,#33184a 0px,#33184a 38px,#341b51 39px,#341b51 70px,#351e58 71px,#351e58 94px,#36215f 95px,#36215f 129px,#372466 130px,#372466 177px,#38276d 178px,#38276d 211px,#392a73 212px,#392a73 247px,#3a2d79 248px,#3a2d79 304px,#3b2f80 305px,#3b2f80 391px,#3c3286 392px,#3c3286 497px,#3d358b 499px,#3d358b 618px,#3e3891 620px,#3e3891 676px)"></i>
<i style="height:2px;background:linear-gradient(90deg,#33184a 0px,#33184a 40px,#341b51 41px,#341b51 76px,#351e58 77px,#351e58 100px,#36215f 101px,#36215f 148px,#372466 149px,#372466 193px,#38276d 194px,#38276d 230px,#392a73 231px,#392a73 280px,#3a2d79 281px,#3a2d79 365px,#3b2f80 366px,#3b2f80 478px,#3c3286 479px,#3c3286 608px,#3d358b 610px,#3d358b 676px)"></i>
<i style="height:2px;background:linear-gradient(90deg,#33184a 0px,#33184a 42px,#341b51 43px,#341b51 81px,#351e58 82px,#351e58 109px,#36215f 110px,#36215f 167px,#372466 168px,#372466 210px,#38276d 211px,#38276d 254px,#392a73 255px,#392a73 332px,#3a2d79 333px,#3a2d79 449px,#3b2f80 450px,#3b2f80 588px,#3c3286 589px,#3c3286 676px)"></i>
<i style="height:2px;background:linear-gradient(90deg,#33184a 0px,#33184a 44px,#341b51 45px,#341b51 85px,#351e58 86px,#351e58 123px,#36215f 124px,#36215f 185px,#372466 186px,#372466 230px,#38276d 231px,#38276d 294px,#392a73 295px,#392a73 410px,#3a2d79 411px,#3a2d79 556px,#3b2f80 557px,#3b2f80 676px)"></i>
<i style="height:2px;background:linear-gradient(90deg,#33184a 0px,#33184a 48px,#341b51 49px,#341b51 91px,#351e58 92px,#351e58 143px,#36215f 144px,#36215f 202px,#372466 203px,#372466 256px,#38276d 257px,#38276d 359px,#392a73 360px,#392a73 510px,#3a2d79 511px,#3a2d79 676px)"></i>
<i style="height:2px;background:linear-gradient(90deg,#33184a 0px,#33184a 51px,#341b51 52px,#341b51 97px,#351e58 98px,#351e58 165px,#36215f 166px,#36215f 223px,#372466 224px,#372466 301px,#38276d 302px,#38276d 450px,#392a73 451px,#392a73 640px,#3a2d79 641px,#3a2d79 676px)"></i>
<i style="height:2px;background:linear-gradient(90deg,#33184a 0px,#33184a 57px,#341b51 58px,#341b51 105px,#351e58 106px,#351e58 185px,#36215f 186px,#36215f 248px,#372466 249px,#372466 374px,#38276d 375px,#38276d 570px,#392a73 571px,#392a73 676px)"></i>
<i style="height:2px;background:linear-gradient(90deg,#33184a 0px,#33184a 64px,#341b51 65px,#341b51 119px,#351e58 120px,#351e58 205px,#36215f 206px,#36215f 292px,#372466 293px,#372466 478px,#38276d 479px,#38276d 676px)"></i>
<i style="height:2px;background:linear-gradient(90deg,#33184a 0px,#33184a 71px,#341b51 72px,#341b51 141px,#351e58 142px,#351e58 228px,#36215f 229px,#36215f 368px,#372466 369px,#372466 616px,#38276d 617px,#38276d 676px)"></i>
<i style="height:2px;background:linear-gradient(90deg,#33184a 0px,#33184a 78px,#341b51 79px,#341b51 167px,#351e58 168px,#351e58 261px,#36215f 262px,#36215f 479px,#372466 480px,#372466 676px)"></i>
<i style="height:2px;background:linear-gradient(90deg,#33184a 0px,#33184a 84px,#341b51 85px,#341b51 190px,#351e58 191px,#351e58 324px,#36215f 325px,#36215f 631px,#372466 632px,#372466 676px)"></i>
<i style="height:2px;background:linear-gradient(90deg,#33184a 0px,#33184a 91px,#341b51 92px,#341b51 214px,#351e58 215px,#351e58 430px,#36215f 431px,#36215f 676px)"></i>
<i style="height:2px;background:linear-gradient(90deg,#33184a 0px,#33184a 100px,#341b51 101px,#341b51 246px,#351e58 247px,#351e58 583px,#36215f 584px,#36215f 676px)"></i>
<i style="height:2px;background:linear-gradient(90deg,#33184a 0px,#33184a 116px,#341b51 117px,#341b51 307px,#351e58 308px,#351e58 676px)"></i>
<i style="height:2px;background:linear-gradient(90deg,#33184a 0px,#33184a 145px,#341b51 146px,#341b51 426px,#351e58 427px,#351e58 676px)"></i>
<i style="height:2px;background:linear-gradient(90deg,#33184a 0px,#33184a 179px,#341b51 180px,#341b51 608px,#351e58 609px,#351e58 676px)"></i>
<i style="height:2px;background:linear-gradient(90deg,#33184a 0px,#33184a 210px,#341b51 211px,#341b51 676px)"></i>
<i style="height:2px;background:linear-gradient(90deg,#33184a 0px,#33184a 254px,#341b51 255px,#341b51 676px)"></i>
<i style="height:2px;background:linear-gradient(90deg,#33184a 0px,#33184a 363px,#341b51 364px,#341b51 676px)"></i>
<i style="height:2px;background:linear-gradient(90deg,#33184a 0px,#33184a 583px,#341b51 584px,#341b51 676px)"></i>
<i style="height:2px;background:linear-gradient(90deg,#33184a 0px,#33184a 676px)"></i>
<i style="height:2px;background:linear-gradient(90deg,#33184a 0px,#33184a 676px)"></i>
<i style="height:2px;background:linear-gradient(90deg,#33184a 0px,#33184a 676px)"></i>
<i style="height:2px;background:linear-gradient(90deg,#33184a 0px,#33184a 676px)"></i>
<i style="height:2px;background:linear-gradient(90deg,#33184a 0px,#33184a 676px)"></i>
<i style="height:2px;background:linear-gradient(90deg,#33184a 0px,#33184a 676px)"></i>
<i style="height:2px;background:linear-gradient(90deg,#33184a 0px,#33184a 676px)"></i>
<i style="height:2px;background:linear-gradient(90deg,#33184a 0px,#33184a 676px)"></i>
<i style="height:2px;background:linear-gradient(90deg,#33184a 0px,#33184a 676px)"></i>
<i style="height:2px;background:linear-gradient(90deg,#33184a 0px,#33184a 676px)"></i>
<i style="height:1px;background:linear-gradient(90deg,#33184a 0px,#33184a 676px)"></i>
</div>
<div id="cb"></div>
<svg width="933" height="1464" viewBox="0 0 933 1464">
<text x="5" y="36" style="font-weight:bold;font-size:42px">a</text>
<rect x="86" y="29.2" width="783" height="592.2" fill="none" stroke="#000" stroke-width="4"/>
<line x1="347.0" y1="619.4" x2="347.0" y2="611.4" stroke="#000" stroke-width="4"/>
<line x1="347.0" y1="31.2" x2="347.0" y2="39.2" stroke="#000" stroke-width="4"/>
<line x1="608.0" y1="619.4" x2="608.0" y2="611.4" stroke="#000" stroke-width="4"/>
<line x1="608.0" y1="31.2" x2="608.0" y2="39.2" stroke="#000" stroke-width="4"/>
<line x1="88" y1="489.8" x2="96" y2="489.8" stroke="#000" stroke-width="4"/>
<line x1="867" y1="489.8" x2="859" y2="489.8" stroke="#000" stroke-width="4"/>
<line x1="88" y1="358.2" x2="96" y2="358.2" stroke="#000" stroke-width="4"/>
<line x1="867" y1="358.2" x2="859" y2="358.2" stroke="#000" stroke-width="4"/>
<line x1="88" y1="226.6" x2="96" y2="226.6" stroke="#000" stroke-width="4"/>
<line x1="867" y1="226.6" x2="859" y2="226.6" stroke="#000" stroke-width="4"/>
<line x1="88" y1="95.0" x2="96" y2="95.0" stroke="#000" stroke-width="4"/>
<line x1="867" y1="95.0" x2="859" y2="95.0" stroke="#000" stroke-width="4"/>
<text class="d" x="72.6" y="633.4" text-anchor="end">0</text>
<text class="d" x="72.6" y="501.9" text-anchor="end">1</text>
<text class="d" x="72.6" y="369.7" text-anchor="end">2</text>
<text class="d" x="72.6" y="237.8" text-anchor="end">3</text>
<text class="d" x="72.6" y="105.8" text-anchor="end">4</text>
<text class="d" x="84.2" y="658.3" text-anchor="middle">2219</text>
<text class="d" x="346.2" y="658.3" text-anchor="middle">2220</text>
<text class="d" x="606.5" y="658.3" text-anchor="middle">2221</text>
<text class="d" x="868.7" y="658.3" text-anchor="middle">2222</text>
<text x="478.5" y="700.5" text-anchor="middle">Wavelength (nm)</text>
<text transform="translate(29.3 325.5) rotate(-90)" text-anchor="middle">On-off gain (dB)</text>
<circle cx="185.1" cy="614.9" r="13.3" fill="#ff0000"/>
<circle cx="279.4" cy="549.1" r="13.3" fill="#ff0000"/>
<circle cx="386.2" cy="521.2" r="13.3" fill="#ff0000"/>
<circle cx="456.6" cy="417.4" r="13.3" fill="#ff0000"/>
<circle cx="509.1" cy="266.0" r="13.3" fill="#ff0000"/>
<circle cx="610.9" cy="134.3" r="13.3" fill="#ff0000"/>
<circle cx="650.0" cy="309.6" r="13.3" fill="#ff0000"/>
<circle cx="725.8" cy="508.3" r="13.3" fill="#ff0000"/>
<circle cx="778.0" cy="616.3" r="13.3" fill="#ff0000"/>
<path d="M86.0 619.8 L88.0 619.8 L90.0 619.8 L92.0 619.8 L94.0 619.8 L96.0 619.8 L98.0 619.8 L100.0 619.8 L102.0 619.8 L104.0 619.8 L106.0 619.8 L108.0 619.8 L110.0 619.8 L112.0 619.8 L114.0 619.8 L116.0 619.8 L118.0 619.8 L120.0 619.8 L122.0 619.8 L124.0 619.8 L126.0 619.8 L128.0 619.7 L130.0 619.7 L132.0 619.7 L134.0 619.7 L136.0 619.7 L138.0 619.7 L140.0 619.7 L142.0 619.7 L144.0 619.7 L146.0 619.7 L148.0 619.7 L150.0 619.7 L152.0 619.7 L154.0 619.7 L156.0 619.7 L158.0 619.7 L160.0 619.7 L162.0 619.7 L164.0 619.7 L166.0 619.7 L168.0 619.7 L170.0 619.6 L172.0 619.6 L174.0 619.6 L176.0 619.6 L178.0 619.6 L180.0 619.6 L182.0 619.6 L184.0 619.5 L186.0 619.5 L188.0 619.5 L190.0 619.5 L192.0 619.4 L194.0 619.4 L196.0 619.4 L198.0 619.3 L200.0 619.3 L202.0 619.3 L204.0 619.2 L206.0 619.2 L208.0 619.1 L210.0 619.1 L212.0 619.0 L214.0 618.9 L216.0 618.9 L218.0 618.8 L220.0 618.7 L222.0 618.6 L224.0 618.6 L226.0 618.5 L228.0 618.4 L230.0 618.3 L232.0 618.2 L234.0 618.1 L236.0 617.9 L238.0 617.8 L240.0 617.7 L242.0 617.6 L244.0 617.4 L246.0 617.3 L248.0 617.1 L250.0 617.0 L252.0 616.8 L254.0 616.6 L256.0 616.4 L258.0 616.3 L260.0 616.1 L262.0 615.9 L264.0 615.6 L266.0 615.4 L268.0 615.2 L270.0 615.0 L272.0 614.7 L274.0 614.4 L276.0 614.2 L278.0 613.9 L280.0 613.6 L282.0 613.3 L284.0 612.9 L286.0 612.6 L288.0 612.3 L290.0 611.9 L292.0 611.5 L294.0 611.1 L296.0 610.7 L298.0 610.3 L300.0 609.8 L302.0 609.4 L304.0 608.9 L306.0 608.4 L308.0 607.9 L310.0 607.4 L312.0 606.8 L314.0 606.2 L316.0 605.7 L318.0 605.1 L320.0 604.4 L322.0 603.8 L324.0 603.1 L326.0 602.4 L328.0 601.7 L330.0 600.9 L332.0 600.1 L334.0 599.3 L336.0 598.4 L338.0 597.5 L340.0 596.5 L342.0 595.5 L344.0 594.4 L346.0 593.3 L348.0 592.2 L350.0 590.9 L352.0 589.6 L354.0 588.2 L356.0 586.8 L358.0 585.3 L360.0 583.7 L362.0 582.1 L364.0 580.3 L366.0 578.5 L368.0 576.6 L370.0 574.6 L372.0 572.5 L374.0 570.3 L376.0 568.0 L378.0 565.6 L380.0 563.1 L382.0 560.5 L384.0 557.7 L386.0 554.9 L388.0 551.8 L390.0 548.7 L392.0 545.4 L394.0 542.0 L396.0 538.4 L398.0 534.6 L400.0 530.7 L402.0 526.6 L404.0 522.3 L406.0 517.9 L408.0 513.2 L410.0 508.4 L412.0 503.4 L414.0 498.2 L416.0 492.8 L418.0 487.3 L420.0 481.5 L422.0 475.6 L424.0 469.6 L426.0 463.4 L428.0 457.1 L430.0 450.6 L432.0 444.0 L434.0 437.3 L436.0 430.5 L438.0 423.5 L440.0 416.5 L442.0 409.4 L444.0 402.1 L446.0 394.8 L448.0 387.5 L450.0 380.0 L452.0 372.5 L454.0 365.0 L456.0 357.4 L458.0 349.8 L460.0 342.2 L462.0 334.6 L464.0 326.9 L466.0 319.3 L468.0 311.8 L470.0 304.2 L472.0 296.7 L474.0 289.3 L476.0 281.9 L478.0 274.7 L480.0 267.5 L482.0 260.4 L484.0 253.4 L486.0 246.6 L488.0 239.9 L490.0 233.3 L492.0 226.9 L494.0 220.6 L496.0 214.6 L498.0 208.7 L500.0 202.9 L502.0 197.4 L504.0 192.1 L506.0 186.9 L508.0 182.0 L510.0 177.2 L512.0 172.7 L514.0 168.4 L516.0 164.4 L518.0 160.5 L520.0 156.9 L522.0 153.6 L524.0 150.5 L526.0 147.6 L528.0 145.1 L530.0 142.7 L532.0 140.6 L534.0 138.7 L536.0 137.1 L538.0 135.7 L540.0 134.4 L542.0 133.4 L544.0 132.6 L546.0 131.9 L548.0 131.4 L550.0 131.1 L552.0 131.0 L554.0 131.0 L556.0 131.1 L558.0 131.4 L560.0 131.9 L562.0 132.5 L564.0 133.2 L566.0 134.2 L568.0 135.3 L570.0 136.5 L572.0 138.0 L574.0 139.6 L576.0 141.4 L578.0 143.3 L580.0 145.5 L582.0 147.8 L584.0 150.3 L586.0 153.0 L588.0 155.8 L590.0 158.8 L592.0 161.9 L594.0 165.1 L596.0 168.5 L598.0 172.0 L600.0 175.5 L602.0 179.2 L604.0 183.0 L606.0 186.8 L608.0 190.7 L610.0 194.7 L612.0 198.7 L614.0 202.7 L616.0 206.8 L618.0 210.9 L620.0 215.0 L622.0 219.2 L624.0 223.3 L626.0 227.4 L628.0 231.5 L630.0 235.7 L632.0 239.8 L634.0 244.0 L636.0 248.1 L638.0 252.3 L640.0 256.4 L642.0 260.6 L644.0 264.8 L646.0 268.9 L648.0 273.1 L650.0 277.3 L652.0 281.5 L654.0 285.7 L656.0 289.9 L658.0 294.1 L660.0 298.3 L662.0 302.5 L664.0 306.8 L666.0 311.0 L668.0 315.2 L670.0 319.5 L672.0 323.7 L674.0 328.0 L676.0 332.2 L678.0 336.5 L680.0 340.7 L682.0 344.9 L684.0 349.2 L686.0 353.4 L688.0 357.6 L690.0 361.8 L692.0 366.0 L694.0 370.1 L696.0 374.3 L698.0 378.4 L700.0 382.4 L702.0 386.5 L704.0 390.5 L706.0 394.5 L708.0 398.4 L710.0 402.3 L712.0 406.2 L714.0 410.0 L716.0 413.8 L718.0 417.5 L720.0 421.2 L722.0 424.8 L724.0 428.4 L726.0 431.9 L728.0 435.4 L730.0 438.8 L732.0 442.1 L734.0 445.4 L736.0 448.7 L738.0 451.9 L740.0 455.0 L742.0 458.1 L744.0 461.2 L746.0 464.2 L748.0 467.1 L750.0 470.0 L752.0 472.9 L754.0 475.7 L756.0 478.4 L758.0 481.1 L760.0 483.7 L762.0 486.3 L764.0 488.9 L766.0 491.4 L768.0 493.9 L770.0 496.3 L772.0 498.6 L774.0 500.9 L776.0 503.2 L778.0 505.4 L780.0 507.6 L782.0 509.7 L784.0 511.8 L786.0 513.8 L788.0 515.8 L790.0 517.7 L792.0 519.6 L794.0 521.5 L796.0 523.3 L798.0 525.1 L800.0 526.9 L802.0 528.6 L804.0 530.2 L806.0 531.9 L808.0 533.5 L810.0 535.1 L812.0 536.6 L814.0 538.1 L816.0 539.6 L818.0 541.0 L820.0 542.5 L822.0 543.9 L824.0 545.2 L826.0 546.6 L828.0 547.9 L830.0 549.2 L832.0 550.4 L834.0 551.7 L836.0 552.9 L838.0 554.1 L840.0 555.3 L842.0 556.5 L844.0 557.6 L846.0 558.8 L848.0 559.9 L850.0 561.0 L852.0 562.1 L854.0 563.2 L856.0 564.2 L858.0 565.3 L860.0 566.3 L862.0 567.4 L864.0 568.4 L866.0 569.4 L868.0 570.5 L869.0 571.0" fill="none" stroke="#0000ff" stroke-width="4.6" stroke-linejoin="round"/>
<rect x="110.2" y="53.2" width="263.4" height="98.4" fill="#fff" stroke="#000" stroke-width="4"/>
<circle cx="160.6" cy="81.6" r="13.3" fill="#ff0000"/>
<line x1="127.6" y1="123" x2="193.6" y2="123" stroke="#0000ff" stroke-width="4.6"/>
<text x="205.6" y="93">12.4 mW</text>
<text x="206" y="134.4">Simulation</text>
<text x="4.5" y="775" style="font-weight:bold;font-size:42px">b</text>
<rect x="98" y="777" width="680" height="593" fill="none" stroke="#000" stroke-width="4"/>
<circle cx="503.4" cy="1268.1" r="9.9" fill="#fff" stroke="#000" stroke-width="4.4"/>
<text class="d" x="85.1" y="785.7" text-anchor="end">30</text>
<text class="d" x="85.1" y="885.5" text-anchor="end">25</text>
<text class="d" x="85.1" y="984.4" text-anchor="end">20</text>
<text class="d" x="85.1" y="1083.8" text-anchor="end">15</text>
<text class="d" x="85.1" y="1183.1" text-anchor="end">10</text>
<text class="d" x="85.1" y="1282.3" text-anchor="end">5</text>
<text class="d" x="85.1" y="1381.6" text-anchor="end">0</text>
<text class="d" x="97.0" y="1407.4" text-anchor="middle">0</text>
<text class="d" x="233.0" y="1407.4" text-anchor="middle">4</text>
<text class="d" x="369.0" y="1407.4" text-anchor="middle">8</text>
<text class="d" x="505.0" y="1407.4" text-anchor="middle">12</text>
<text class="d" x="641.0" y="1407.4" text-anchor="middle">16</text>
<text class="d" x="777.0" y="1407.4" text-anchor="middle">20</text>
<text x="437" y="1450.4" text-anchor="middle" style="font-size:29.1px">Average pump power (mW)</text>
<text transform="translate(25.2 1078.5) rotate(-90)" text-anchor="middle">Length (cm)</text>
<rect x="819" y="777.6" width="68" height="592.3" fill="none" stroke="#000" stroke-width="2"/>
<line x1="886" y1="1221.9" x2="880" y2="1221.9" stroke="#000" stroke-width="2"/>
<line x1="886" y1="1073.9" x2="880" y2="1073.9" stroke="#000" stroke-width="2"/>
<line x1="886" y1="925.9" x2="880" y2="925.9" stroke="#000" stroke-width="2"/>
<text class="d" x="898.7" y="1379.0">0</text>
<text class="d" x="898.7" y="1231.0">5</text>
<text class="d" x="898.7" y="1083.0">10</text>
<text class="d" x="898.7" y="935.0">15</text>
<text class="d" x="898.7" y="787.0">20</text>
</svg>
</body></html>
